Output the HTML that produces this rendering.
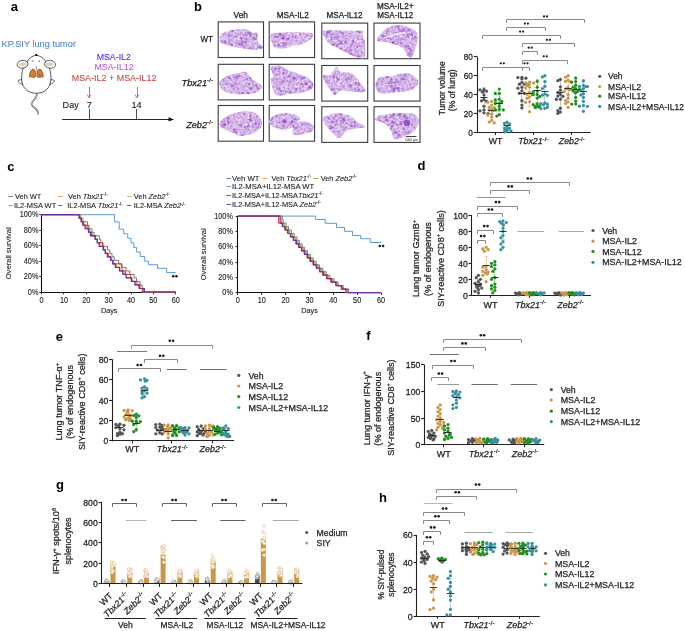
<!DOCTYPE html>
<html><head><meta charset="utf-8"><style>
html,body{margin:0;padding:0;background:#fff;}
svg{display:block;will-change:transform;}
text{font-family:"Liberation Sans", sans-serif;}
</style></head><body>
<svg width="685" height="631" viewBox="0 0 685 631" font-family="Liberation Sans, sans-serif" fill="#1a1a1a">
<rect width="685" height="631" fill="#fff"/>
<text x="10.80" y="11.40" font-size="13" fill="#000" font-weight="bold">a</text>
<text x="1.50" y="46.80" font-size="9.2" fill="#4a86d6" textLength="74.5" lengthAdjust="spacingAndGlyphs" stroke="#4a86d6" stroke-width="0.08">KP.SIY lung tumor</text>
<path d="M36.6 93 C37.5 96 36 98 33.5 100.5 C31 103 31 105 33.5 107 C36 109 38.5 110 38.3 114.5" fill="none" stroke="#555" stroke-width="1.6"/>
<path d="M36.6 93 C37.5 96 36 98 33.5 100.5 C31 103 31 105 33.5 107 C36 109 38.5 110 38.3 114.5" fill="none" stroke="#f4f4f4" stroke-width="0.6"/>
<path d="M22.4 79.2 L18.2 80.4 C18.0 81.9 20.3 84.0 22.8 84.6 Z" fill="#fff" stroke="#222" stroke-width="0.65"/>
<path d="M50.2 79.2 L54.4 80.4 C54.6 81.9 52.3 84.0 49.8 84.6 Z" fill="#fff" stroke="#222" stroke-width="0.65"/>
<path d="M36.3 55.2 C32 55.8 28 59 27 62 C23.5 65 21.3 72 21.7 80 C22.3 88 28 93.3 36.3 93.3 C44.6 93.3 50.3 88 50.9 80 C51.3 72 49.1 65 45.6 62 C44.6 59 40.6 55.8 36.3 55.2 Z" fill="#fff" stroke="#222" stroke-width="0.75"/>
<ellipse cx="22.6" cy="64.3" rx="5.5" ry="3.9" fill="#fff" stroke="#222" stroke-width="0.7" transform="rotate(-8 22.6 64.3)"/>
<ellipse cx="23.1" cy="64.3" rx="3.7" ry="1.8" fill="#e3d2b4" stroke="#bba" stroke-width="0.3"/>
<ellipse cx="50" cy="64.3" rx="5.5" ry="3.9" fill="#fff" stroke="#222" stroke-width="0.7" transform="rotate(8 50 64.3)"/>
<ellipse cx="49.5" cy="64.3" rx="3.7" ry="1.8" fill="#e3d2b4" stroke="#bba" stroke-width="0.3"/>
<path d="M36.3 53.7 L37.7 55 L36.3 56.3 L34.9 55 Z" fill="#000"/>
<rect x="32.40" y="60.70" width="1.30" height="0.90" fill="#222"/>
<rect x="38.50" y="60.70" width="1.30" height="0.90" fill="#222"/>
<line x1="36.50" y1="66.20" x2="36.50" y2="70.30" stroke="#444" stroke-width="0.5"/>
<path d="M32.8 69.1 C34.5 69.6 35.6 70.5 35.6 72.5 L35.6 76.6 C35 77.6 33.8 77.5 33 77.3 L29.4 76.8 C29.2 75 29.6 73.5 30.3 72 C30.9 70.6 31.7 69.3 32.8 69.1 Z" fill="#dc7a2e" stroke="#4a2a0a" stroke-width="0.55"/>
<path d="M39.8 69.1 C38.1 69.6 37 70.5 37 72.5 L37 76.6 C37.6 77.6 38.8 77.5 39.6 77.3 L43.2 76.8 C43.4 75 43 73.5 42.3 72 C41.7 70.6 40.9 69.3 39.8 69.1 Z" fill="#dc7a2e" stroke="#4a2a0a" stroke-width="0.55"/>
<circle cx="39.80" cy="75.00" r="1.0" fill="#3a7ef0"/>
<text x="96.70" y="59.80" font-size="9.6" fill="#3b2cf0" textLength="34.2" lengthAdjust="spacingAndGlyphs" stroke="#3b2cf0" stroke-width="0.08">MSA-IL2</text>
<text x="94.50" y="70.20" font-size="9.6" fill="#b358e0" textLength="39.2" lengthAdjust="spacingAndGlyphs" stroke="#b358e0" stroke-width="0.08">MSA-IL12</text>
<text x="71.70" y="81.00" font-size="9.6" fill="#c24848" textLength="84.8" lengthAdjust="spacingAndGlyphs" stroke="#c24848" stroke-width="0.08">MSA-IL2 + MSA-IL12</text>
<line x1="89.50" y1="87.00" x2="89.50" y2="96.50" stroke="#c24848" stroke-width="0.8"/>
<path d="M87.4 94.6 L89.2 98 L91.0 94.6" fill="none" stroke="#c24848" stroke-width="0.8"/>
<line x1="137.50" y1="87.00" x2="137.50" y2="96.50" stroke="#c24848" stroke-width="0.8"/>
<path d="M135.2 94.6 L137.0 98 L138.8 94.6" fill="none" stroke="#c24848" stroke-width="0.8"/>
<text x="62.60" y="107.60" font-size="9.2" fill="#111" textLength="16.1" lengthAdjust="spacingAndGlyphs" stroke="#111" stroke-width="0.08">Day</text>
<text x="89.20" y="107.60" font-size="9.2" text-anchor="middle" fill="#111" stroke="#111" stroke-width="0.08">7</text>
<text x="136.60" y="107.60" font-size="9.2" text-anchor="middle" fill="#111" stroke="#111" stroke-width="0.08">14</text>
<line x1="89.50" y1="109.00" x2="89.50" y2="119.40" stroke="#222" stroke-width="0.8"/>
<line x1="136.50" y1="109.00" x2="136.50" y2="119.40" stroke="#222" stroke-width="0.8"/>
<line x1="62.20" y1="119.50" x2="171.50" y2="119.50" stroke="#111" stroke-width="0.9"/>
<path d="M168.5 117.2 L174 119.4 L168.5 121.6 Z" fill="#111"/>
<text x="193.90" y="11.40" font-size="13" fill="#000" font-weight="bold">b</text>
<text x="240.80" y="18.40" font-size="8.6" text-anchor="middle" textLength="14.4" lengthAdjust="spacingAndGlyphs" stroke="#1a1a1a" stroke-width="0.25">Veh</text>
<text x="292.70" y="18.40" font-size="8.6" text-anchor="middle" textLength="32.1" lengthAdjust="spacingAndGlyphs" stroke="#1a1a1a" stroke-width="0.25">MSA-IL2</text>
<text x="344.60" y="18.40" font-size="8.6" text-anchor="middle" textLength="36.0" lengthAdjust="spacingAndGlyphs" stroke="#1a1a1a" stroke-width="0.25">MSA-IL12</text>
<text x="395.20" y="8.50" font-size="8.6" text-anchor="middle" textLength="36.6" lengthAdjust="spacingAndGlyphs" stroke="#1a1a1a" stroke-width="0.25">MSA-IL2+</text>
<text x="395.20" y="18.40" font-size="8.6" text-anchor="middle" textLength="36.0" lengthAdjust="spacingAndGlyphs" stroke="#1a1a1a" stroke-width="0.25">MSA-IL12</text>
<text x="212.80" y="42.00" font-size="9.4" text-anchor="end" textLength="12.4" lengthAdjust="spacingAndGlyphs" stroke="#1a1a1a" stroke-width="0.25">WT</text>
<text x="213.40" y="85.60" font-size="9.2" text-anchor="end" stroke="#1a1a1a" stroke-width="0.25"><tspan font-style="italic">Tbx21</tspan><tspan font-size="5.89" dy="-3.68" letter-spacing="0.25">-/-</tspan></text>
<text x="213.40" y="127.60" font-size="9.2" text-anchor="end" stroke="#1a1a1a" stroke-width="0.25"><tspan font-style="italic">Zeb2</tspan><tspan font-size="5.89" dy="-3.68" letter-spacing="0.25">-/-</tspan></text>
<defs>
<clipPath id="tc0"><path d="M218.80 38.40 C219.57 36.87 221.00 33.83 224.20 32.30 C227.40 30.77 234.03 29.58 238.00 29.20 C241.97 28.82 245.57 29.37 248.00 30.00 C250.43 30.63 251.33 32.62 252.60 33.00 C253.87 33.38 254.72 32.30 255.60 32.30 C256.48 32.30 257.63 31.73 257.90 33.00 C258.17 34.27 256.93 38.10 257.20 39.90 C257.47 41.70 258.53 42.65 259.50 43.80 C260.47 44.95 262.75 45.92 263.00 46.80 C263.25 47.68 262.62 48.58 261.00 49.10 C259.38 49.62 257.13 50.15 253.30 49.90 C249.47 49.65 242.85 48.50 238.00 47.60 C233.15 46.70 227.27 45.52 224.20 44.50 C221.13 43.48 220.50 42.52 219.60 41.50 C218.70 40.48 218.03 39.93 218.80 38.40 Z"/></clipPath>
<clipPath id="tc1"><path d="M270.20 35.30 C270.97 33.88 272.73 33.50 276.30 33.00 C279.87 32.50 285.72 32.30 291.60 32.30 C297.48 32.30 308.02 32.50 311.60 33.00 C315.18 33.50 313.37 34.15 313.10 35.30 C312.83 36.45 312.05 38.37 310.00 39.90 C307.95 41.43 303.35 43.60 300.80 44.50 C298.25 45.40 297.50 44.65 294.70 45.30 C291.90 45.95 287.32 48.02 284.00 48.40 C280.68 48.78 276.85 48.75 274.80 47.60 C272.75 46.45 272.47 43.55 271.70 41.50 C270.93 39.45 269.43 36.72 270.20 35.30 Z"/></clipPath>
<clipPath id="tc2"><path d="M323.40 30.70 C328.90 29.67 351.77 30.82 357.90 30.70 C364.03 30.58 359.32 29.87 360.20 30.00 C361.08 30.13 362.82 30.62 363.20 31.50 C363.58 32.38 362.23 33.63 362.50 35.30 C362.77 36.97 364.30 38.93 364.80 41.50 C365.30 44.07 365.63 48.02 365.50 50.70 C365.37 53.38 365.40 56.45 364.00 57.60 C362.60 58.75 360.93 58.88 357.10 57.60 C353.27 56.32 345.73 52.33 341.00 49.90 C336.27 47.47 331.38 45.17 328.70 43.00 C326.02 40.83 325.78 38.95 324.90 36.90 C324.02 34.85 317.90 31.73 323.40 30.70 Z"/></clipPath>
<clipPath id="tc3"><path d="M377.00 39.90 C376.75 39.13 376.40 38.68 377.80 36.90 C379.20 35.12 382.85 31.12 385.40 29.20 C387.95 27.28 390.03 26.03 393.10 25.40 C396.17 24.77 400.48 24.77 403.80 25.40 C407.12 26.03 410.82 28.05 413.00 29.20 C415.18 30.35 416.13 30.52 416.90 32.30 C417.67 34.08 417.98 36.83 417.60 39.90 C417.22 42.97 415.48 47.88 414.60 50.70 C413.72 53.52 413.33 55.78 412.30 56.80 C411.27 57.82 410.07 58.33 408.40 56.80 C406.73 55.27 404.60 49.65 402.30 47.60 C400.00 45.55 397.15 45.40 394.60 44.50 C392.05 43.60 389.55 42.70 387.00 42.20 C384.45 41.70 380.97 41.88 379.30 41.50 C377.63 41.12 377.25 40.67 377.00 39.90 Z"/></clipPath>
<clipPath id="tc4"><path d="M218.80 83.50 C219.07 81.85 220.78 80.32 222.70 78.90 C224.62 77.48 227.50 76.03 230.30 75.00 C233.10 73.97 236.82 73.20 239.50 72.70 C242.18 72.20 244.60 71.23 246.40 72.00 C248.20 72.77 248.63 75.65 250.30 77.30 C251.97 78.95 254.37 80.37 256.40 81.90 C258.43 83.43 261.98 85.08 262.50 86.50 C263.02 87.92 261.28 89.25 259.50 90.40 C257.72 91.55 255.38 92.72 251.80 93.40 C248.22 94.08 242.08 94.62 238.00 94.50 C233.92 94.38 230.12 93.65 227.30 92.70 C224.48 91.75 222.52 90.33 221.10 88.80 C219.68 87.27 218.53 85.15 218.80 83.50 Z"/></clipPath>
<clipPath id="tc5"><path d="M271.00 66.60 C272.53 65.70 278.23 65.28 280.90 65.80 C283.57 66.32 284.18 68.42 287.00 69.70 C289.82 70.98 294.47 72.23 297.80 73.50 C301.13 74.77 304.45 75.63 307.00 77.30 C309.55 78.97 312.33 81.58 313.10 83.50 C313.87 85.42 313.65 87.27 311.60 88.80 C309.55 90.33 304.90 91.80 300.80 92.70 C296.70 93.60 290.07 93.70 287.00 94.20 C283.93 94.70 284.18 95.57 282.40 95.70 C280.62 95.83 277.95 96.28 276.30 95.00 C274.65 93.72 273.38 90.68 272.50 88.00 C271.62 85.32 270.88 80.80 271.00 78.90 C271.12 77.00 273.08 77.88 273.20 76.60 C273.32 75.32 272.07 72.87 271.70 71.20 C271.33 69.53 269.47 67.50 271.00 66.60 Z"/></clipPath>
<clipPath id="tc6"><path d="M323.40 75.80 C324.30 74.65 328.65 75.90 330.30 75.00 C331.95 74.10 332.15 71.80 333.30 70.40 C334.45 69.00 336.17 66.47 337.20 66.60 C338.23 66.73 337.58 70.18 339.50 71.20 C341.42 72.22 346.15 71.93 348.70 72.70 C351.25 73.47 353.02 74.27 354.80 75.80 C356.58 77.33 357.62 79.35 359.40 81.90 C361.18 84.45 366.02 89.43 365.50 91.10 C364.98 92.77 360.13 92.02 356.30 91.90 C352.47 91.78 345.57 90.27 342.50 90.40 C339.43 90.53 339.17 91.93 337.90 92.70 C336.63 93.47 336.17 95.52 334.90 95.00 C333.63 94.48 331.97 91.78 330.30 89.60 C328.63 87.42 326.05 84.20 324.90 81.90 C323.75 79.60 322.50 76.95 323.40 75.80 Z"/></clipPath>
<clipPath id="tc7"><path d="M376.20 81.90 C376.83 80.37 377.77 78.27 379.30 77.30 C380.83 76.33 383.35 76.22 385.40 76.10 C387.45 75.98 389.55 76.90 391.60 76.60 C393.65 76.30 395.15 74.90 397.70 74.30 C400.25 73.70 404.22 72.75 406.90 73.00 C409.58 73.25 411.88 74.32 413.80 75.80 C415.72 77.28 418.02 80.12 418.40 81.90 C418.78 83.68 417.50 85.08 416.10 86.50 C414.70 87.92 413.07 89.50 410.00 90.40 C406.93 91.30 402.05 91.40 397.70 91.90 C393.35 92.40 387.22 93.40 383.90 93.40 C380.58 93.40 379.20 93.05 377.80 91.90 C376.40 90.75 375.77 88.17 375.50 86.50 C375.23 84.83 375.57 83.43 376.20 81.90 Z"/></clipPath>
<clipPath id="tc8"><path d="M219.60 124.50 C219.87 123.10 220.92 120.77 222.70 119.10 C224.48 117.43 227.23 115.78 230.30 114.50 C233.37 113.22 237.27 111.78 241.10 111.40 C244.93 111.02 250.23 111.30 253.30 112.20 C256.37 113.10 258.08 115.02 259.50 116.80 C260.92 118.58 261.80 120.85 261.80 122.90 C261.80 124.95 261.17 127.30 259.50 129.10 C257.83 130.90 254.87 132.55 251.80 133.70 C248.73 134.85 244.17 136.13 241.10 136.00 C238.03 135.87 235.70 133.80 233.40 132.90 C231.10 132.00 229.35 131.50 227.30 130.60 C225.25 129.70 222.38 128.52 221.10 127.50 C219.82 126.48 219.33 125.90 219.60 124.50 Z"/></clipPath>
<clipPath id="tc9"><path d="M269.40 119.90 C270.17 118.50 272.37 116.45 274.80 115.30 C277.23 114.15 280.68 113.13 284.00 113.00 C287.32 112.87 292.02 113.62 294.70 114.50 C297.38 115.38 299.85 116.90 300.10 118.30 C300.35 119.70 296.08 122.38 296.20 122.90 C296.32 123.42 298.75 121.52 300.80 121.40 C302.85 121.28 306.32 121.43 308.50 122.20 C310.68 122.97 313.38 124.47 313.90 126.00 C314.42 127.53 313.27 130.12 311.60 131.40 C309.93 132.68 306.72 133.07 303.90 133.70 C301.08 134.33 296.62 135.47 294.70 135.20 C292.78 134.93 292.65 133.38 292.40 132.10 C292.15 130.82 294.60 127.88 293.20 127.50 C291.80 127.12 287.07 129.80 284.00 129.80 C280.93 129.80 277.10 128.52 274.80 127.50 C272.50 126.48 271.10 124.97 270.20 123.70 C269.30 122.43 268.63 121.30 269.40 119.90 Z"/></clipPath>
<clipPath id="tc10"><path d="M322.60 118.30 C323.25 116.38 328.00 115.38 330.30 114.50 C332.60 113.62 333.85 113.00 336.40 113.00 C338.95 113.00 343.17 114.00 345.60 114.50 C348.03 115.00 349.22 114.85 351.00 116.00 C352.78 117.15 353.88 119.60 356.30 121.40 C358.72 123.20 365.23 125.65 365.50 126.80 C365.77 127.95 360.97 127.67 357.90 128.30 C354.83 128.93 350.17 128.93 347.10 130.60 C344.03 132.27 341.80 137.78 339.50 138.30 C337.20 138.82 335.48 135.75 333.30 133.70 C331.12 131.65 328.18 128.57 326.40 126.00 C324.62 123.43 321.95 120.22 322.60 118.30 Z"/></clipPath>
<clipPath id="tc11"><path d="M375.50 118.30 C376.27 117.42 378.12 116.12 380.80 115.30 C383.48 114.48 387.77 113.78 391.60 113.40 C395.43 113.02 400.23 112.95 403.80 113.00 C407.37 113.05 410.57 112.82 413.00 113.70 C415.43 114.58 417.50 116.50 418.40 118.30 C419.30 120.10 419.30 122.20 418.40 124.50 C417.50 126.80 415.17 130.18 413.00 132.10 C410.83 134.02 408.47 134.85 405.40 136.00 C402.33 137.15 397.17 140.15 394.60 139.00 C392.03 137.85 391.87 131.78 390.00 129.10 C388.13 126.42 385.70 124.32 383.40 122.90 C381.10 121.48 377.52 121.37 376.20 120.60 C374.88 119.83 374.73 119.18 375.50 118.30 Z"/></clipPath>
<filter id="tex0" x="0" y="0" width="1" height="1" color-interpolation-filters="sRGB"><feTurbulence type="fractalNoise" baseFrequency="0.42" numOctaves="2" seed="2"/><feColorMatrix type="matrix" values="-0.336 0 0 0 1.0  -0.576 0 0 0 1.0  -0.168 0 0 0 0.995  0 0 0 0 1"/></filter>
<filter id="tex1" x="0" y="0" width="1" height="1" color-interpolation-filters="sRGB"><feTurbulence type="fractalNoise" baseFrequency="0.42" numOctaves="2" seed="7"/><feColorMatrix type="matrix" values="-0.336 0 0 0 1.0  -0.576 0 0 0 1.0  -0.168 0 0 0 0.995  0 0 0 0 1"/></filter>
<filter id="tex2" x="0" y="0" width="1" height="1" color-interpolation-filters="sRGB"><feTurbulence type="fractalNoise" baseFrequency="0.42" numOctaves="2" seed="12"/><feColorMatrix type="matrix" values="-0.336 0 0 0 1.0  -0.576 0 0 0 1.0  -0.168 0 0 0 0.995  0 0 0 0 1"/></filter>
</defs>
<rect x="218.20" y="21.90" width="45.30" height="35.60" fill="#fff" stroke="#3c3c3c" stroke-width="1.1"/>
<rect x="217.8" y="28.2" width="46.2" height="22.7" filter="url(#tex0)" clip-path="url(#tc0)"/>
<g clip-path="url(#tc0)"><circle cx="229.3" cy="40.5" r="0.9" fill="#8c40c4" opacity=".55"/><circle cx="245.5" cy="42.2" r="0.7" fill="#8c40c4" opacity=".55"/><circle cx="219.4" cy="46.5" r="0.8" fill="#8c40c4" opacity=".55"/><circle cx="229.2" cy="49.8" r="1.0" fill="#8c40c4" opacity=".55"/><circle cx="255.8" cy="39.1" r="1.2" fill="#8c40c4" opacity=".55"/><circle cx="225.5" cy="42.3" r="1.4" fill="#8c40c4" opacity=".55"/><circle cx="241.9" cy="44.5" r="1.2" fill="#8c40c4" opacity=".55"/><circle cx="221.6" cy="44.9" r="1.1" fill="#8c40c4" opacity=".55"/><circle cx="232.1" cy="29.8" r="1.4" fill="#8c40c4" opacity=".55"/><circle cx="239.7" cy="44.1" r="1.4" fill="#8c40c4" opacity=".55"/><circle cx="250.4" cy="48.3" r="1.0" fill="#8c40c4" opacity=".55"/><circle cx="254.2" cy="38.4" r="1.4" fill="#8c40c4" opacity=".55"/><circle cx="257.6" cy="31.2" r="0.7" fill="#8c40c4" opacity=".55"/><circle cx="228.4" cy="49.2" r="1.0" fill="#8c40c4" opacity=".55"/><circle cx="246.5" cy="35.4" r="1.1" fill="#8c40c4" opacity=".55"/><circle cx="235.9" cy="36.5" r="1.1" fill="#8c40c4" opacity=".55"/><circle cx="244.6" cy="47.9" r="1.2" fill="#8c40c4" opacity=".55"/><circle cx="259.9" cy="46.9" r="1.5" fill="#8c40c4" opacity=".55"/><circle cx="248.5" cy="32.6" r="1.4" fill="#8c40c4" opacity=".55"/><circle cx="261.4" cy="47.9" r="1.1" fill="#8c40c4" opacity=".55"/><circle cx="250.4" cy="33.6" r="1.3" fill="#8c40c4" opacity=".55"/><circle cx="244.2" cy="35.1" r="0.7" fill="#8c40c4" opacity=".55"/><circle cx="256.5" cy="49.7" r="0.7" fill="#8c40c4" opacity=".55"/><circle cx="254.2" cy="37.7" r="0.7" fill="#8c40c4" opacity=".55"/><circle cx="231.8" cy="45.1" r="1.4" fill="#8c40c4" opacity=".55"/><circle cx="220.8" cy="41.9" r="0.6" fill="#8c40c4" opacity=".55"/><circle cx="250.6" cy="36.1" r="1.4" fill="#8c40c4" opacity=".55"/><circle cx="262.1" cy="39.7" r="1.5" fill="#8c40c4" opacity=".55"/><circle cx="232.5" cy="30.8" r="1.1" fill="#8c40c4" opacity=".55"/><circle cx="220.2" cy="33.3" r="1.0" fill="#8c40c4" opacity=".55"/><circle cx="245.8" cy="32.4" r="0.6" fill="#8c40c4" opacity=".55"/><circle cx="257.2" cy="35.7" r="1.5" fill="#8c40c4" opacity=".55"/><circle cx="258.4" cy="37.0" r="1.0" fill="#8c40c4" opacity=".55"/><circle cx="241.8" cy="42.5" r="1.1" fill="#8c40c4" opacity=".55"/><circle cx="243.5" cy="42.0" r="1.4" fill="#8c40c4" opacity=".55"/><circle cx="241.2" cy="38.1" r="1.2" fill="#8c40c4" opacity=".55"/><circle cx="229.3" cy="35.4" r="1.5" fill="#8c40c4" opacity=".55"/><circle cx="241.8" cy="40.6" r="0.6" fill="#8c40c4" opacity=".55"/><circle cx="237.2" cy="41.2" r="0.6" fill="#8c40c4" opacity=".55"/><circle cx="246.0" cy="42.3" r="0.7" fill="#8c40c4" opacity=".55"/><circle cx="246.5" cy="38.9" r="1.2" fill="#8c40c4" opacity=".55"/></g>
<rect x="269.20" y="21.90" width="45.40" height="35.60" fill="#fff" stroke="#3c3c3c" stroke-width="1.1"/>
<rect x="269.2" y="31.3" width="44.9" height="18.1" filter="url(#tex1)" clip-path="url(#tc1)"/>
<g clip-path="url(#tc1)"><circle cx="285.3" cy="43.7" r="1.3" fill="#8c40c4" opacity=".55"/><circle cx="271.2" cy="33.3" r="1.2" fill="#8c40c4" opacity=".55"/><circle cx="311.5" cy="36.3" r="1.0" fill="#8c40c4" opacity=".55"/><circle cx="295.6" cy="37.5" r="0.9" fill="#8c40c4" opacity=".55"/><circle cx="283.6" cy="38.2" r="1.1" fill="#8c40c4" opacity=".55"/><circle cx="283.1" cy="38.4" r="1.3" fill="#8c40c4" opacity=".55"/><circle cx="271.4" cy="41.5" r="1.3" fill="#8c40c4" opacity=".55"/><circle cx="283.5" cy="35.9" r="1.3" fill="#8c40c4" opacity=".55"/><circle cx="280.4" cy="35.3" r="1.0" fill="#8c40c4" opacity=".55"/><circle cx="300.1" cy="33.9" r="0.9" fill="#8c40c4" opacity=".55"/><circle cx="284.5" cy="45.7" r="1.0" fill="#8c40c4" opacity=".55"/><circle cx="306.9" cy="35.0" r="0.9" fill="#8c40c4" opacity=".55"/><circle cx="298.1" cy="46.5" r="1.0" fill="#8c40c4" opacity=".55"/><circle cx="279.9" cy="34.2" r="1.1" fill="#8c40c4" opacity=".55"/><circle cx="278.4" cy="45.3" r="1.4" fill="#8c40c4" opacity=".55"/><circle cx="278.1" cy="36.8" r="1.3" fill="#8c40c4" opacity=".55"/><circle cx="297.7" cy="45.3" r="0.9" fill="#8c40c4" opacity=".55"/><circle cx="275.8" cy="37.0" r="1.3" fill="#8c40c4" opacity=".55"/><circle cx="281.8" cy="37.9" r="1.0" fill="#8c40c4" opacity=".55"/><circle cx="288.2" cy="38.9" r="1.4" fill="#8c40c4" opacity=".55"/><circle cx="276.9" cy="32.4" r="1.4" fill="#8c40c4" opacity=".55"/><circle cx="308.0" cy="48.2" r="1.0" fill="#8c40c4" opacity=".55"/><circle cx="311.0" cy="47.2" r="0.8" fill="#8c40c4" opacity=".55"/><circle cx="302.2" cy="45.8" r="1.2" fill="#8c40c4" opacity=".55"/><circle cx="292.5" cy="37.0" r="0.9" fill="#8c40c4" opacity=".55"/><circle cx="280.0" cy="33.4" r="1.1" fill="#8c40c4" opacity=".55"/><circle cx="282.5" cy="45.3" r="0.6" fill="#8c40c4" opacity=".55"/><circle cx="309.0" cy="43.5" r="1.4" fill="#8c40c4" opacity=".55"/><circle cx="308.7" cy="46.8" r="1.1" fill="#8c40c4" opacity=".55"/><circle cx="270.8" cy="44.3" r="0.8" fill="#8c40c4" opacity=".55"/><circle cx="283.1" cy="43.0" r="1.1" fill="#8c40c4" opacity=".55"/></g>
<rect x="321.80" y="23.10" width="45.90" height="35.60" fill="#fff" stroke="#3c3c3c" stroke-width="1.1"/>
<rect x="322.4" y="29.0" width="44.1" height="29.6" filter="url(#tex2)" clip-path="url(#tc2)"/>
<g clip-path="url(#tc2)"><circle cx="340.8" cy="55.9" r="1.2" fill="#8c40c4" opacity=".55"/><circle cx="337.8" cy="37.0" r="1.4" fill="#8c40c4" opacity=".55"/><circle cx="343.5" cy="51.6" r="0.9" fill="#8c40c4" opacity=".55"/><circle cx="331.7" cy="44.8" r="1.3" fill="#8c40c4" opacity=".55"/><circle cx="330.6" cy="51.9" r="1.4" fill="#8c40c4" opacity=".55"/><circle cx="357.3" cy="52.7" r="0.6" fill="#8c40c4" opacity=".55"/><circle cx="349.9" cy="53.8" r="0.6" fill="#8c40c4" opacity=".55"/><circle cx="334.8" cy="37.4" r="1.1" fill="#8c40c4" opacity=".55"/><circle cx="341.2" cy="43.1" r="1.3" fill="#8c40c4" opacity=".55"/><circle cx="323.5" cy="31.5" r="0.7" fill="#8c40c4" opacity=".55"/><circle cx="328.6" cy="31.9" r="1.5" fill="#8c40c4" opacity=".55"/><circle cx="359.4" cy="32.4" r="1.1" fill="#8c40c4" opacity=".55"/><circle cx="336.7" cy="38.7" r="0.9" fill="#8c40c4" opacity=".55"/><circle cx="350.6" cy="46.2" r="0.9" fill="#8c40c4" opacity=".55"/><circle cx="331.4" cy="39.1" r="0.7" fill="#8c40c4" opacity=".55"/><circle cx="346.8" cy="49.8" r="0.9" fill="#8c40c4" opacity=".55"/><circle cx="326.8" cy="34.9" r="0.9" fill="#8c40c4" opacity=".55"/><circle cx="348.8" cy="51.6" r="0.9" fill="#8c40c4" opacity=".55"/><circle cx="357.1" cy="47.2" r="1.0" fill="#8c40c4" opacity=".55"/><circle cx="339.1" cy="43.7" r="1.2" fill="#8c40c4" opacity=".55"/><circle cx="341.1" cy="49.2" r="1.0" fill="#8c40c4" opacity=".55"/><circle cx="333.7" cy="44.8" r="1.2" fill="#8c40c4" opacity=".55"/><circle cx="326.4" cy="41.7" r="1.0" fill="#8c40c4" opacity=".55"/><circle cx="360.4" cy="55.8" r="0.9" fill="#8c40c4" opacity=".55"/><circle cx="361.2" cy="51.8" r="0.8" fill="#8c40c4" opacity=".55"/><circle cx="342.9" cy="33.4" r="1.3" fill="#8c40c4" opacity=".55"/><circle cx="351.3" cy="54.5" r="1.3" fill="#8c40c4" opacity=".55"/><circle cx="351.5" cy="50.3" r="1.1" fill="#8c40c4" opacity=".55"/><circle cx="327.7" cy="46.2" r="0.6" fill="#8c40c4" opacity=".55"/><circle cx="329.4" cy="51.4" r="0.6" fill="#8c40c4" opacity=".55"/><circle cx="327.3" cy="32.7" r="1.4" fill="#8c40c4" opacity=".55"/><circle cx="330.9" cy="30.6" r="1.4" fill="#8c40c4" opacity=".55"/><circle cx="328.5" cy="53.3" r="1.2" fill="#8c40c4" opacity=".55"/><circle cx="358.6" cy="56.3" r="1.1" fill="#8c40c4" opacity=".55"/><circle cx="357.0" cy="31.0" r="1.3" fill="#8c40c4" opacity=".55"/><circle cx="344.9" cy="49.7" r="0.7" fill="#8c40c4" opacity=".55"/><circle cx="354.9" cy="55.8" r="0.7" fill="#8c40c4" opacity=".55"/><circle cx="337.1" cy="45.6" r="1.3" fill="#8c40c4" opacity=".55"/><circle cx="333.6" cy="35.0" r="0.8" fill="#8c40c4" opacity=".55"/><circle cx="349.3" cy="50.8" r="1.0" fill="#8c40c4" opacity=".55"/><circle cx="338.9" cy="40.9" r="0.9" fill="#8c40c4" opacity=".55"/><circle cx="341.0" cy="32.3" r="1.1" fill="#8c40c4" opacity=".55"/><circle cx="364.4" cy="41.4" r="1.3" fill="#8c40c4" opacity=".55"/><circle cx="330.2" cy="49.1" r="1.3" fill="#8c40c4" opacity=".55"/><circle cx="351.8" cy="44.3" r="1.0" fill="#8c40c4" opacity=".55"/><circle cx="350.5" cy="54.8" r="0.7" fill="#8c40c4" opacity=".55"/><circle cx="327.4" cy="50.6" r="1.4" fill="#8c40c4" opacity=".55"/><circle cx="345.2" cy="42.2" r="1.2" fill="#8c40c4" opacity=".55"/><circle cx="331.2" cy="37.4" r="0.8" fill="#8c40c4" opacity=".55"/><circle cx="348.1" cy="38.7" r="0.8" fill="#8c40c4" opacity=".55"/><circle cx="352.5" cy="56.3" r="0.9" fill="#8c40c4" opacity=".55"/><circle cx="353.1" cy="41.4" r="1.4" fill="#8c40c4" opacity=".55"/></g>
<rect x="374.00" y="23.10" width="46.00" height="35.60" fill="#fff" stroke="#3c3c3c" stroke-width="1.1"/>
<rect x="376.0" y="24.4" width="42.6" height="33.4" filter="url(#tex0)" clip-path="url(#tc3)"/>
<g clip-path="url(#tc3)"><circle cx="400.7" cy="33.8" r="0.8" fill="#8c40c4" opacity=".55"/><circle cx="377.9" cy="40.5" r="0.9" fill="#8c40c4" opacity=".55"/><circle cx="384.0" cy="36.7" r="0.9" fill="#8c40c4" opacity=".55"/><circle cx="408.4" cy="29.9" r="1.5" fill="#8c40c4" opacity=".55"/><circle cx="396.5" cy="44.2" r="1.0" fill="#8c40c4" opacity=".55"/><circle cx="410.9" cy="51.2" r="1.1" fill="#8c40c4" opacity=".55"/><circle cx="396.5" cy="48.0" r="1.4" fill="#8c40c4" opacity=".55"/><circle cx="393.3" cy="48.4" r="1.5" fill="#8c40c4" opacity=".55"/><circle cx="396.0" cy="32.6" r="0.8" fill="#8c40c4" opacity=".55"/><circle cx="406.1" cy="46.6" r="1.5" fill="#8c40c4" opacity=".55"/><circle cx="411.7" cy="33.0" r="0.8" fill="#8c40c4" opacity=".55"/><circle cx="387.5" cy="31.3" r="1.2" fill="#8c40c4" opacity=".55"/><circle cx="411.9" cy="53.7" r="0.8" fill="#8c40c4" opacity=".55"/><circle cx="412.1" cy="35.2" r="1.0" fill="#8c40c4" opacity=".55"/><circle cx="406.6" cy="28.1" r="0.7" fill="#8c40c4" opacity=".55"/><circle cx="410.9" cy="34.6" r="0.9" fill="#8c40c4" opacity=".55"/><circle cx="400.6" cy="46.6" r="0.6" fill="#8c40c4" opacity=".55"/><circle cx="390.6" cy="39.1" r="1.0" fill="#8c40c4" opacity=".55"/><circle cx="385.5" cy="43.8" r="1.5" fill="#8c40c4" opacity=".55"/><circle cx="392.9" cy="42.5" r="0.7" fill="#8c40c4" opacity=".55"/><circle cx="388.2" cy="46.3" r="0.7" fill="#8c40c4" opacity=".55"/><circle cx="413.0" cy="53.9" r="0.7" fill="#8c40c4" opacity=".55"/><circle cx="415.2" cy="37.2" r="1.3" fill="#8c40c4" opacity=".55"/><circle cx="407.7" cy="34.7" r="1.2" fill="#8c40c4" opacity=".55"/><circle cx="403.6" cy="50.7" r="0.8" fill="#8c40c4" opacity=".55"/><circle cx="407.6" cy="55.6" r="1.2" fill="#8c40c4" opacity=".55"/><circle cx="398.8" cy="29.0" r="1.0" fill="#8c40c4" opacity=".55"/><circle cx="391.3" cy="47.9" r="1.2" fill="#8c40c4" opacity=".55"/><circle cx="400.0" cy="31.1" r="1.2" fill="#8c40c4" opacity=".55"/><circle cx="402.6" cy="31.0" r="1.4" fill="#8c40c4" opacity=".55"/><circle cx="403.6" cy="29.3" r="1.4" fill="#8c40c4" opacity=".55"/><circle cx="382.7" cy="35.8" r="1.2" fill="#8c40c4" opacity=".55"/><circle cx="401.3" cy="42.8" r="1.2" fill="#8c40c4" opacity=".55"/><circle cx="395.6" cy="35.2" r="0.8" fill="#8c40c4" opacity=".55"/><circle cx="379.8" cy="47.9" r="1.3" fill="#8c40c4" opacity=".55"/><circle cx="399.1" cy="48.6" r="0.9" fill="#8c40c4" opacity=".55"/><circle cx="387.8" cy="37.4" r="1.4" fill="#8c40c4" opacity=".55"/><circle cx="378.7" cy="41.2" r="0.8" fill="#8c40c4" opacity=".55"/><circle cx="408.2" cy="36.5" r="0.9" fill="#8c40c4" opacity=".55"/><circle cx="393.4" cy="42.4" r="1.3" fill="#8c40c4" opacity=".55"/><circle cx="391.3" cy="52.0" r="0.7" fill="#8c40c4" opacity=".55"/><circle cx="388.0" cy="28.5" r="0.7" fill="#8c40c4" opacity=".55"/><circle cx="408.6" cy="48.2" r="0.8" fill="#8c40c4" opacity=".55"/><circle cx="384.7" cy="38.5" r="1.3" fill="#8c40c4" opacity=".55"/><circle cx="410.1" cy="48.9" r="1.1" fill="#8c40c4" opacity=".55"/><circle cx="382.9" cy="37.9" r="0.8" fill="#8c40c4" opacity=".55"/><circle cx="398.4" cy="43.2" r="0.8" fill="#8c40c4" opacity=".55"/><circle cx="387.2" cy="49.9" r="0.6" fill="#8c40c4" opacity=".55"/><circle cx="409.6" cy="53.4" r="1.5" fill="#8c40c4" opacity=".55"/><circle cx="392.6" cy="42.8" r="1.1" fill="#8c40c4" opacity=".55"/><circle cx="402.7" cy="56.1" r="1.2" fill="#8c40c4" opacity=".55"/><circle cx="389.2" cy="52.4" r="1.0" fill="#8c40c4" opacity=".55"/><circle cx="401.4" cy="48.2" r="0.6" fill="#8c40c4" opacity=".55"/><circle cx="408.3" cy="46.2" r="1.0" fill="#8c40c4" opacity=".55"/><circle cx="398.3" cy="39.9" r="0.8" fill="#8c40c4" opacity=".55"/><circle cx="398.5" cy="26.6" r="1.1" fill="#8c40c4" opacity=".55"/><circle cx="403.2" cy="39.3" r="1.1" fill="#8c40c4" opacity=".55"/></g>
<rect x="218.20" y="64.30" width="45.30" height="35.60" fill="#fff" stroke="#3c3c3c" stroke-width="1.1"/>
<rect x="217.8" y="71.0" width="45.7" height="24.5" filter="url(#tex1)" clip-path="url(#tc4)"/>
<g clip-path="url(#tc4)"><circle cx="260.7" cy="92.1" r="0.7" fill="#8c40c4" opacity=".55"/><circle cx="253.4" cy="86.0" r="0.6" fill="#8c40c4" opacity=".55"/><circle cx="234.5" cy="77.3" r="0.7" fill="#8c40c4" opacity=".55"/><circle cx="242.3" cy="92.9" r="0.9" fill="#8c40c4" opacity=".55"/><circle cx="256.8" cy="87.6" r="0.7" fill="#8c40c4" opacity=".55"/><circle cx="256.3" cy="85.5" r="1.4" fill="#8c40c4" opacity=".55"/><circle cx="250.1" cy="88.6" r="0.9" fill="#8c40c4" opacity=".55"/><circle cx="254.1" cy="93.0" r="1.4" fill="#8c40c4" opacity=".55"/><circle cx="237.9" cy="89.0" r="1.0" fill="#8c40c4" opacity=".55"/><circle cx="223.6" cy="73.0" r="0.7" fill="#8c40c4" opacity=".55"/><circle cx="227.6" cy="75.6" r="1.0" fill="#8c40c4" opacity=".55"/><circle cx="249.4" cy="84.1" r="1.0" fill="#8c40c4" opacity=".55"/><circle cx="247.2" cy="78.9" r="1.0" fill="#8c40c4" opacity=".55"/><circle cx="251.9" cy="81.0" r="0.8" fill="#8c40c4" opacity=".55"/><circle cx="258.1" cy="88.2" r="0.9" fill="#8c40c4" opacity=".55"/><circle cx="235.0" cy="83.9" r="1.1" fill="#8c40c4" opacity=".55"/><circle cx="228.6" cy="72.1" r="0.8" fill="#8c40c4" opacity=".55"/><circle cx="253.0" cy="75.2" r="1.0" fill="#8c40c4" opacity=".55"/><circle cx="227.3" cy="76.7" r="0.8" fill="#8c40c4" opacity=".55"/><circle cx="236.4" cy="75.8" r="0.6" fill="#8c40c4" opacity=".55"/><circle cx="223.6" cy="75.8" r="1.0" fill="#8c40c4" opacity=".55"/><circle cx="221.4" cy="72.5" r="1.0" fill="#8c40c4" opacity=".55"/><circle cx="236.6" cy="87.8" r="0.6" fill="#8c40c4" opacity=".55"/><circle cx="236.4" cy="80.9" r="0.6" fill="#8c40c4" opacity=".55"/><circle cx="261.0" cy="76.9" r="0.7" fill="#8c40c4" opacity=".55"/><circle cx="239.5" cy="75.7" r="1.2" fill="#8c40c4" opacity=".55"/><circle cx="233.9" cy="74.8" r="0.6" fill="#8c40c4" opacity=".55"/><circle cx="250.6" cy="78.2" r="1.3" fill="#8c40c4" opacity=".55"/><circle cx="239.1" cy="93.0" r="0.9" fill="#8c40c4" opacity=".55"/><circle cx="229.7" cy="78.0" r="1.3" fill="#8c40c4" opacity=".55"/><circle cx="246.3" cy="79.8" r="0.7" fill="#8c40c4" opacity=".55"/><circle cx="248.6" cy="93.8" r="1.1" fill="#8c40c4" opacity=".55"/><circle cx="219.0" cy="72.7" r="0.7" fill="#8c40c4" opacity=".55"/><circle cx="226.2" cy="72.8" r="0.6" fill="#8c40c4" opacity=".55"/><circle cx="247.4" cy="92.3" r="0.8" fill="#8c40c4" opacity=".55"/><circle cx="261.4" cy="82.7" r="1.3" fill="#8c40c4" opacity=".55"/><circle cx="258.9" cy="93.2" r="0.6" fill="#8c40c4" opacity=".55"/><circle cx="232.1" cy="85.7" r="1.5" fill="#8c40c4" opacity=".55"/><circle cx="222.6" cy="78.6" r="1.4" fill="#8c40c4" opacity=".55"/><circle cx="223.8" cy="80.8" r="0.9" fill="#8c40c4" opacity=".55"/><circle cx="248.5" cy="92.9" r="0.8" fill="#8c40c4" opacity=".55"/><circle cx="251.1" cy="88.5" r="1.4" fill="#8c40c4" opacity=".55"/><circle cx="243.0" cy="92.8" r="0.9" fill="#8c40c4" opacity=".55"/><circle cx="236.9" cy="77.2" r="1.3" fill="#8c40c4" opacity=".55"/></g>
<rect x="269.20" y="64.30" width="45.40" height="35.60" fill="#fff" stroke="#3c3c3c" stroke-width="1.1"/>
<rect x="270.0" y="64.8" width="44.1" height="31.9" filter="url(#tex2)" clip-path="url(#tc5)"/>
<g clip-path="url(#tc5)"><circle cx="291.2" cy="73.9" r="0.8" fill="#8c40c4" opacity=".55"/><circle cx="301.3" cy="83.9" r="1.2" fill="#8c40c4" opacity=".55"/><circle cx="287.3" cy="80.4" r="0.7" fill="#8c40c4" opacity=".55"/><circle cx="300.9" cy="66.5" r="1.0" fill="#8c40c4" opacity=".55"/><circle cx="302.9" cy="86.1" r="0.7" fill="#8c40c4" opacity=".55"/><circle cx="281.0" cy="91.0" r="1.2" fill="#8c40c4" opacity=".55"/><circle cx="308.0" cy="91.9" r="1.0" fill="#8c40c4" opacity=".55"/><circle cx="308.8" cy="87.7" r="0.9" fill="#8c40c4" opacity=".55"/><circle cx="286.6" cy="68.0" r="1.0" fill="#8c40c4" opacity=".55"/><circle cx="311.2" cy="68.9" r="1.1" fill="#8c40c4" opacity=".55"/><circle cx="275.6" cy="68.2" r="1.2" fill="#8c40c4" opacity=".55"/><circle cx="281.1" cy="67.3" r="0.7" fill="#8c40c4" opacity=".55"/><circle cx="298.1" cy="83.3" r="0.6" fill="#8c40c4" opacity=".55"/><circle cx="280.7" cy="94.7" r="0.8" fill="#8c40c4" opacity=".55"/><circle cx="294.7" cy="78.3" r="1.3" fill="#8c40c4" opacity=".55"/><circle cx="296.4" cy="89.4" r="1.1" fill="#8c40c4" opacity=".55"/><circle cx="278.9" cy="71.1" r="0.7" fill="#8c40c4" opacity=".55"/><circle cx="305.8" cy="69.2" r="0.6" fill="#8c40c4" opacity=".55"/><circle cx="311.7" cy="71.8" r="1.4" fill="#8c40c4" opacity=".55"/><circle cx="274.6" cy="79.7" r="0.8" fill="#8c40c4" opacity=".55"/><circle cx="305.9" cy="84.2" r="1.2" fill="#8c40c4" opacity=".55"/><circle cx="303.1" cy="91.9" r="0.9" fill="#8c40c4" opacity=".55"/><circle cx="296.4" cy="79.1" r="0.7" fill="#8c40c4" opacity=".55"/><circle cx="306.2" cy="83.6" r="1.3" fill="#8c40c4" opacity=".55"/><circle cx="279.7" cy="81.9" r="1.0" fill="#8c40c4" opacity=".55"/><circle cx="301.6" cy="68.1" r="0.9" fill="#8c40c4" opacity=".55"/><circle cx="291.4" cy="67.9" r="1.1" fill="#8c40c4" opacity=".55"/><circle cx="302.0" cy="78.4" r="1.2" fill="#8c40c4" opacity=".55"/><circle cx="296.5" cy="72.2" r="0.9" fill="#8c40c4" opacity=".55"/><circle cx="312.9" cy="75.8" r="1.0" fill="#8c40c4" opacity=".55"/><circle cx="274.5" cy="72.3" r="0.7" fill="#8c40c4" opacity=".55"/><circle cx="310.2" cy="87.5" r="1.4" fill="#8c40c4" opacity=".55"/><circle cx="312.5" cy="84.1" r="1.4" fill="#8c40c4" opacity=".55"/><circle cx="293.6" cy="78.3" r="1.5" fill="#8c40c4" opacity=".55"/><circle cx="309.0" cy="94.2" r="1.0" fill="#8c40c4" opacity=".55"/><circle cx="303.6" cy="78.0" r="1.5" fill="#8c40c4" opacity=".55"/><circle cx="309.7" cy="74.5" r="1.4" fill="#8c40c4" opacity=".55"/><circle cx="278.8" cy="68.7" r="1.3" fill="#8c40c4" opacity=".55"/><circle cx="283.4" cy="81.3" r="1.2" fill="#8c40c4" opacity=".55"/><circle cx="272.7" cy="88.1" r="0.8" fill="#8c40c4" opacity=".55"/><circle cx="289.2" cy="76.1" r="1.3" fill="#8c40c4" opacity=".55"/><circle cx="302.4" cy="74.4" r="0.7" fill="#8c40c4" opacity=".55"/><circle cx="283.6" cy="78.1" r="0.7" fill="#8c40c4" opacity=".55"/><circle cx="277.5" cy="88.6" r="1.2" fill="#8c40c4" opacity=".55"/><circle cx="312.1" cy="95.1" r="1.4" fill="#8c40c4" opacity=".55"/><circle cx="286.7" cy="70.6" r="0.9" fill="#8c40c4" opacity=".55"/><circle cx="290.5" cy="81.5" r="1.1" fill="#8c40c4" opacity=".55"/><circle cx="286.1" cy="91.3" r="0.9" fill="#8c40c4" opacity=".55"/><circle cx="290.5" cy="92.3" r="1.3" fill="#8c40c4" opacity=".55"/><circle cx="283.5" cy="73.1" r="1.3" fill="#8c40c4" opacity=".55"/><circle cx="271.4" cy="69.7" r="1.1" fill="#8c40c4" opacity=".55"/><circle cx="293.6" cy="70.8" r="0.6" fill="#8c40c4" opacity=".55"/><circle cx="279.6" cy="88.8" r="1.0" fill="#8c40c4" opacity=".55"/><circle cx="312.2" cy="89.3" r="1.5" fill="#8c40c4" opacity=".55"/><circle cx="272.5" cy="71.3" r="0.6" fill="#8c40c4" opacity=".55"/><circle cx="289.2" cy="75.9" r="0.6" fill="#8c40c4" opacity=".55"/><circle cx="294.0" cy="68.6" r="0.9" fill="#8c40c4" opacity=".55"/></g>
<rect x="321.80" y="65.50" width="45.90" height="35.60" fill="#fff" stroke="#3c3c3c" stroke-width="1.1"/>
<rect x="322.4" y="65.6" width="44.1" height="30.4" filter="url(#tex0)" clip-path="url(#tc6)"/>
<g clip-path="url(#tc6)"><circle cx="333.8" cy="89.4" r="1.0" fill="#8c40c4" opacity=".55"/><circle cx="334.4" cy="67.8" r="1.0" fill="#8c40c4" opacity=".55"/><circle cx="349.8" cy="85.8" r="1.4" fill="#8c40c4" opacity=".55"/><circle cx="357.4" cy="73.6" r="0.7" fill="#8c40c4" opacity=".55"/><circle cx="355.3" cy="89.0" r="1.1" fill="#8c40c4" opacity=".55"/><circle cx="358.4" cy="82.3" r="0.9" fill="#8c40c4" opacity=".55"/><circle cx="330.5" cy="67.1" r="1.2" fill="#8c40c4" opacity=".55"/><circle cx="361.2" cy="92.3" r="1.0" fill="#8c40c4" opacity=".55"/><circle cx="351.4" cy="93.0" r="1.3" fill="#8c40c4" opacity=".55"/><circle cx="348.8" cy="78.4" r="1.1" fill="#8c40c4" opacity=".55"/><circle cx="330.6" cy="71.8" r="1.2" fill="#8c40c4" opacity=".55"/><circle cx="365.2" cy="82.1" r="1.0" fill="#8c40c4" opacity=".55"/><circle cx="338.2" cy="79.5" r="1.3" fill="#8c40c4" opacity=".55"/><circle cx="342.5" cy="93.8" r="0.7" fill="#8c40c4" opacity=".55"/><circle cx="336.7" cy="81.4" r="1.0" fill="#8c40c4" opacity=".55"/><circle cx="359.2" cy="90.1" r="1.4" fill="#8c40c4" opacity=".55"/><circle cx="349.2" cy="67.5" r="1.1" fill="#8c40c4" opacity=".55"/><circle cx="346.5" cy="80.4" r="0.9" fill="#8c40c4" opacity=".55"/><circle cx="353.3" cy="92.5" r="0.7" fill="#8c40c4" opacity=".55"/><circle cx="351.6" cy="77.1" r="1.1" fill="#8c40c4" opacity=".55"/><circle cx="361.1" cy="93.9" r="1.2" fill="#8c40c4" opacity=".55"/><circle cx="331.6" cy="92.7" r="0.8" fill="#8c40c4" opacity=".55"/><circle cx="339.5" cy="90.1" r="0.9" fill="#8c40c4" opacity=".55"/><circle cx="334.8" cy="93.6" r="1.4" fill="#8c40c4" opacity=".55"/><circle cx="336.8" cy="77.7" r="0.9" fill="#8c40c4" opacity=".55"/><circle cx="328.9" cy="73.7" r="1.5" fill="#8c40c4" opacity=".55"/><circle cx="326.7" cy="73.1" r="0.8" fill="#8c40c4" opacity=".55"/><circle cx="326.7" cy="81.5" r="1.3" fill="#8c40c4" opacity=".55"/><circle cx="358.7" cy="84.5" r="1.3" fill="#8c40c4" opacity=".55"/><circle cx="323.6" cy="74.6" r="1.5" fill="#8c40c4" opacity=".55"/><circle cx="326.3" cy="74.2" r="1.0" fill="#8c40c4" opacity=".55"/><circle cx="334.7" cy="82.1" r="0.6" fill="#8c40c4" opacity=".55"/><circle cx="333.3" cy="93.8" r="0.7" fill="#8c40c4" opacity=".55"/><circle cx="361.5" cy="71.7" r="1.5" fill="#8c40c4" opacity=".55"/><circle cx="351.8" cy="85.0" r="0.7" fill="#8c40c4" opacity=".55"/><circle cx="325.7" cy="88.2" r="0.8" fill="#8c40c4" opacity=".55"/><circle cx="331.4" cy="90.0" r="1.4" fill="#8c40c4" opacity=".55"/><circle cx="325.5" cy="93.9" r="1.1" fill="#8c40c4" opacity=".55"/><circle cx="339.5" cy="69.6" r="1.0" fill="#8c40c4" opacity=".55"/><circle cx="365.0" cy="74.6" r="0.7" fill="#8c40c4" opacity=".55"/><circle cx="329.5" cy="70.2" r="0.9" fill="#8c40c4" opacity=".55"/><circle cx="361.9" cy="68.8" r="0.8" fill="#8c40c4" opacity=".55"/><circle cx="362.9" cy="94.9" r="1.5" fill="#8c40c4" opacity=".55"/><circle cx="333.8" cy="76.7" r="1.5" fill="#8c40c4" opacity=".55"/><circle cx="343.8" cy="86.6" r="0.9" fill="#8c40c4" opacity=".55"/><circle cx="324.3" cy="76.4" r="1.3" fill="#8c40c4" opacity=".55"/><circle cx="356.3" cy="82.8" r="1.0" fill="#8c40c4" opacity=".55"/><circle cx="346.1" cy="79.2" r="1.1" fill="#8c40c4" opacity=".55"/><circle cx="358.5" cy="72.3" r="1.1" fill="#8c40c4" opacity=".55"/><circle cx="362.7" cy="90.7" r="0.8" fill="#8c40c4" opacity=".55"/><circle cx="364.0" cy="90.5" r="0.8" fill="#8c40c4" opacity=".55"/><circle cx="334.6" cy="72.3" r="0.6" fill="#8c40c4" opacity=".55"/><circle cx="364.6" cy="78.2" r="1.4" fill="#8c40c4" opacity=".55"/><circle cx="328.2" cy="67.0" r="1.4" fill="#8c40c4" opacity=".55"/></g>
<rect x="374.00" y="65.50" width="46.00" height="35.60" fill="#fff" stroke="#3c3c3c" stroke-width="1.1"/>
<rect x="374.5" y="72.0" width="44.9" height="22.4" filter="url(#tex1)" clip-path="url(#tc7)"/>
<g clip-path="url(#tc7)"><circle cx="409.6" cy="93.2" r="1.2" fill="#8c40c4" opacity=".55"/><circle cx="398.0" cy="88.6" r="0.7" fill="#8c40c4" opacity=".55"/><circle cx="398.7" cy="82.0" r="0.7" fill="#8c40c4" opacity=".55"/><circle cx="401.3" cy="79.6" r="1.1" fill="#8c40c4" opacity=".55"/><circle cx="391.5" cy="79.5" r="0.9" fill="#8c40c4" opacity=".55"/><circle cx="401.3" cy="93.0" r="1.4" fill="#8c40c4" opacity=".55"/><circle cx="412.5" cy="90.0" r="0.9" fill="#8c40c4" opacity=".55"/><circle cx="417.4" cy="78.5" r="0.7" fill="#8c40c4" opacity=".55"/><circle cx="397.0" cy="87.9" r="0.9" fill="#8c40c4" opacity=".55"/><circle cx="403.2" cy="78.8" r="1.5" fill="#8c40c4" opacity=".55"/><circle cx="394.9" cy="82.7" r="1.1" fill="#8c40c4" opacity=".55"/><circle cx="413.0" cy="93.1" r="1.1" fill="#8c40c4" opacity=".55"/><circle cx="394.4" cy="85.6" r="0.7" fill="#8c40c4" opacity=".55"/><circle cx="393.8" cy="90.3" r="1.3" fill="#8c40c4" opacity=".55"/><circle cx="378.0" cy="90.4" r="0.9" fill="#8c40c4" opacity=".55"/><circle cx="417.6" cy="80.5" r="0.8" fill="#8c40c4" opacity=".55"/><circle cx="399.0" cy="91.0" r="1.0" fill="#8c40c4" opacity=".55"/><circle cx="412.7" cy="87.5" r="0.9" fill="#8c40c4" opacity=".55"/><circle cx="388.4" cy="83.3" r="1.0" fill="#8c40c4" opacity=".55"/><circle cx="391.5" cy="86.3" r="1.4" fill="#8c40c4" opacity=".55"/><circle cx="400.6" cy="76.0" r="0.8" fill="#8c40c4" opacity=".55"/><circle cx="391.4" cy="85.5" r="0.7" fill="#8c40c4" opacity=".55"/><circle cx="379.0" cy="79.5" r="0.9" fill="#8c40c4" opacity=".55"/><circle cx="376.8" cy="84.0" r="1.4" fill="#8c40c4" opacity=".55"/><circle cx="398.4" cy="88.0" r="1.3" fill="#8c40c4" opacity=".55"/><circle cx="411.4" cy="91.6" r="1.0" fill="#8c40c4" opacity=".55"/><circle cx="404.8" cy="75.5" r="1.4" fill="#8c40c4" opacity=".55"/><circle cx="391.7" cy="82.7" r="1.4" fill="#8c40c4" opacity=".55"/><circle cx="387.8" cy="76.9" r="1.3" fill="#8c40c4" opacity=".55"/><circle cx="401.2" cy="74.7" r="0.6" fill="#8c40c4" opacity=".55"/><circle cx="390.6" cy="73.2" r="1.3" fill="#8c40c4" opacity=".55"/><circle cx="383.4" cy="78.6" r="0.9" fill="#8c40c4" opacity=".55"/><circle cx="397.5" cy="81.8" r="1.2" fill="#8c40c4" opacity=".55"/><circle cx="403.8" cy="81.9" r="0.7" fill="#8c40c4" opacity=".55"/><circle cx="417.5" cy="87.1" r="0.7" fill="#8c40c4" opacity=".55"/><circle cx="394.4" cy="88.4" r="1.5" fill="#8c40c4" opacity=".55"/><circle cx="378.3" cy="73.2" r="1.0" fill="#8c40c4" opacity=".55"/><circle cx="393.6" cy="91.2" r="1.3" fill="#8c40c4" opacity=".55"/><circle cx="389.7" cy="81.5" r="1.1" fill="#8c40c4" opacity=".55"/></g>
<rect x="218.20" y="105.50" width="45.30" height="35.70" fill="#fff" stroke="#3c3c3c" stroke-width="1.1"/>
<rect x="218.6" y="110.4" width="44.2" height="26.6" filter="url(#tex2)" clip-path="url(#tc8)"/>
<g clip-path="url(#tc8)"><circle cx="256.9" cy="116.4" r="1.0" fill="#8c40c4" opacity=".55"/><circle cx="223.3" cy="127.2" r="0.6" fill="#8c40c4" opacity=".55"/><circle cx="259.1" cy="124.3" r="1.1" fill="#8c40c4" opacity=".55"/><circle cx="223.2" cy="117.1" r="1.0" fill="#8c40c4" opacity=".55"/><circle cx="255.8" cy="124.7" r="0.9" fill="#8c40c4" opacity=".55"/><circle cx="261.0" cy="127.7" r="1.1" fill="#8c40c4" opacity=".55"/><circle cx="228.1" cy="118.7" r="1.4" fill="#8c40c4" opacity=".55"/><circle cx="225.2" cy="124.5" r="1.2" fill="#8c40c4" opacity=".55"/><circle cx="234.6" cy="130.3" r="1.4" fill="#8c40c4" opacity=".55"/><circle cx="255.8" cy="129.6" r="0.8" fill="#8c40c4" opacity=".55"/><circle cx="222.1" cy="122.0" r="0.9" fill="#8c40c4" opacity=".55"/><circle cx="227.8" cy="132.8" r="0.8" fill="#8c40c4" opacity=".55"/><circle cx="254.3" cy="134.5" r="0.7" fill="#8c40c4" opacity=".55"/><circle cx="258.2" cy="121.2" r="0.8" fill="#8c40c4" opacity=".55"/><circle cx="227.5" cy="112.3" r="1.0" fill="#8c40c4" opacity=".55"/><circle cx="235.8" cy="132.3" r="1.3" fill="#8c40c4" opacity=".55"/><circle cx="222.0" cy="121.3" r="1.0" fill="#8c40c4" opacity=".55"/><circle cx="227.1" cy="117.6" r="0.8" fill="#8c40c4" opacity=".55"/><circle cx="248.9" cy="119.8" r="0.7" fill="#8c40c4" opacity=".55"/><circle cx="228.9" cy="122.3" r="1.1" fill="#8c40c4" opacity=".55"/><circle cx="230.0" cy="128.6" r="0.8" fill="#8c40c4" opacity=".55"/><circle cx="247.9" cy="126.4" r="0.8" fill="#8c40c4" opacity=".55"/><circle cx="251.3" cy="121.1" r="1.1" fill="#8c40c4" opacity=".55"/><circle cx="244.8" cy="126.9" r="1.0" fill="#8c40c4" opacity=".55"/><circle cx="222.0" cy="130.8" r="1.4" fill="#8c40c4" opacity=".55"/><circle cx="240.3" cy="125.6" r="0.8" fill="#8c40c4" opacity=".55"/><circle cx="257.5" cy="128.3" r="0.8" fill="#8c40c4" opacity=".55"/><circle cx="254.1" cy="135.7" r="0.9" fill="#8c40c4" opacity=".55"/><circle cx="261.6" cy="123.3" r="0.8" fill="#8c40c4" opacity=".55"/><circle cx="249.9" cy="119.7" r="1.3" fill="#8c40c4" opacity=".55"/><circle cx="244.2" cy="114.0" r="1.1" fill="#8c40c4" opacity=".55"/><circle cx="255.5" cy="123.2" r="1.1" fill="#8c40c4" opacity=".55"/><circle cx="256.0" cy="122.4" r="1.0" fill="#8c40c4" opacity=".55"/><circle cx="244.2" cy="131.7" r="0.8" fill="#8c40c4" opacity=".55"/><circle cx="223.5" cy="130.1" r="1.1" fill="#8c40c4" opacity=".55"/><circle cx="232.4" cy="133.3" r="1.4" fill="#8c40c4" opacity=".55"/><circle cx="242.5" cy="135.7" r="1.4" fill="#8c40c4" opacity=".55"/><circle cx="251.2" cy="118.6" r="0.6" fill="#8c40c4" opacity=".55"/><circle cx="248.2" cy="129.5" r="0.9" fill="#8c40c4" opacity=".55"/><circle cx="239.8" cy="125.4" r="0.8" fill="#8c40c4" opacity=".55"/><circle cx="249.0" cy="125.2" r="0.9" fill="#8c40c4" opacity=".55"/><circle cx="224.2" cy="125.0" r="0.9" fill="#8c40c4" opacity=".55"/><circle cx="250.2" cy="115.6" r="1.0" fill="#8c40c4" opacity=".55"/><circle cx="227.9" cy="121.4" r="1.1" fill="#8c40c4" opacity=".55"/><circle cx="224.1" cy="112.7" r="1.0" fill="#8c40c4" opacity=".55"/><circle cx="228.1" cy="123.8" r="0.8" fill="#8c40c4" opacity=".55"/><circle cx="223.9" cy="124.6" r="1.4" fill="#8c40c4" opacity=".55"/></g>
<rect x="269.20" y="105.50" width="45.40" height="35.70" fill="#fff" stroke="#3c3c3c" stroke-width="1.1"/>
<rect x="268.4" y="112.0" width="46.5" height="24.2" filter="url(#tex0)" clip-path="url(#tc9)"/>
<g clip-path="url(#tc9)"><circle cx="308.1" cy="124.4" r="1.0" fill="#8c40c4" opacity=".55"/><circle cx="272.3" cy="119.1" r="0.9" fill="#8c40c4" opacity=".55"/><circle cx="311.3" cy="115.6" r="1.5" fill="#8c40c4" opacity=".55"/><circle cx="290.6" cy="122.6" r="0.8" fill="#8c40c4" opacity=".55"/><circle cx="312.2" cy="117.1" r="1.1" fill="#8c40c4" opacity=".55"/><circle cx="292.1" cy="117.4" r="0.8" fill="#8c40c4" opacity=".55"/><circle cx="313.3" cy="130.6" r="1.3" fill="#8c40c4" opacity=".55"/><circle cx="309.6" cy="115.2" r="1.2" fill="#8c40c4" opacity=".55"/><circle cx="302.8" cy="118.0" r="1.0" fill="#8c40c4" opacity=".55"/><circle cx="312.8" cy="120.3" r="1.3" fill="#8c40c4" opacity=".55"/><circle cx="276.8" cy="127.8" r="0.8" fill="#8c40c4" opacity=".55"/><circle cx="292.0" cy="121.3" r="1.4" fill="#8c40c4" opacity=".55"/><circle cx="302.5" cy="124.2" r="1.2" fill="#8c40c4" opacity=".55"/><circle cx="288.4" cy="130.9" r="0.8" fill="#8c40c4" opacity=".55"/><circle cx="293.6" cy="126.0" r="0.9" fill="#8c40c4" opacity=".55"/><circle cx="271.5" cy="116.8" r="1.2" fill="#8c40c4" opacity=".55"/><circle cx="278.8" cy="129.8" r="1.1" fill="#8c40c4" opacity=".55"/><circle cx="311.8" cy="131.8" r="1.3" fill="#8c40c4" opacity=".55"/><circle cx="286.0" cy="114.0" r="1.1" fill="#8c40c4" opacity=".55"/><circle cx="302.6" cy="133.4" r="0.8" fill="#8c40c4" opacity=".55"/><circle cx="276.5" cy="134.8" r="1.3" fill="#8c40c4" opacity=".55"/><circle cx="291.0" cy="129.4" r="0.7" fill="#8c40c4" opacity=".55"/><circle cx="293.6" cy="127.8" r="1.1" fill="#8c40c4" opacity=".55"/><circle cx="276.6" cy="116.0" r="1.2" fill="#8c40c4" opacity=".55"/><circle cx="308.8" cy="116.1" r="0.6" fill="#8c40c4" opacity=".55"/><circle cx="273.1" cy="130.4" r="1.0" fill="#8c40c4" opacity=".55"/><circle cx="289.7" cy="135.1" r="1.2" fill="#8c40c4" opacity=".55"/><circle cx="281.1" cy="128.6" r="0.6" fill="#8c40c4" opacity=".55"/><circle cx="281.9" cy="128.5" r="0.8" fill="#8c40c4" opacity=".55"/><circle cx="270.9" cy="124.5" r="0.9" fill="#8c40c4" opacity=".55"/><circle cx="312.6" cy="115.3" r="1.3" fill="#8c40c4" opacity=".55"/><circle cx="286.7" cy="130.9" r="1.0" fill="#8c40c4" opacity=".55"/><circle cx="299.1" cy="120.3" r="0.8" fill="#8c40c4" opacity=".55"/><circle cx="289.5" cy="130.8" r="0.9" fill="#8c40c4" opacity=".55"/><circle cx="279.6" cy="122.2" r="0.7" fill="#8c40c4" opacity=".55"/><circle cx="283.4" cy="125.7" r="1.1" fill="#8c40c4" opacity=".55"/><circle cx="296.0" cy="119.4" r="0.6" fill="#8c40c4" opacity=".55"/><circle cx="270.6" cy="120.5" r="0.8" fill="#8c40c4" opacity=".55"/><circle cx="294.7" cy="118.9" r="1.3" fill="#8c40c4" opacity=".55"/><circle cx="296.2" cy="127.7" r="1.3" fill="#8c40c4" opacity=".55"/><circle cx="292.6" cy="122.5" r="0.9" fill="#8c40c4" opacity=".55"/><circle cx="272.2" cy="130.6" r="1.1" fill="#8c40c4" opacity=".55"/><circle cx="273.8" cy="133.6" r="1.1" fill="#8c40c4" opacity=".55"/><circle cx="297.1" cy="122.7" r="0.7" fill="#8c40c4" opacity=".55"/></g>
<rect x="321.80" y="106.70" width="45.90" height="35.70" fill="#fff" stroke="#3c3c3c" stroke-width="1.1"/>
<rect x="321.6" y="112.0" width="44.9" height="27.3" filter="url(#tex1)" clip-path="url(#tc10)"/>
<g clip-path="url(#tc10)"><circle cx="365.5" cy="117.3" r="0.9" fill="#8c40c4" opacity=".55"/><circle cx="365.5" cy="116.1" r="1.0" fill="#8c40c4" opacity=".55"/><circle cx="343.2" cy="119.3" r="1.4" fill="#8c40c4" opacity=".55"/><circle cx="340.4" cy="113.3" r="1.0" fill="#8c40c4" opacity=".55"/><circle cx="322.8" cy="130.9" r="1.4" fill="#8c40c4" opacity=".55"/><circle cx="361.5" cy="114.2" r="1.2" fill="#8c40c4" opacity=".55"/><circle cx="335.7" cy="125.0" r="0.9" fill="#8c40c4" opacity=".55"/><circle cx="335.7" cy="116.4" r="1.2" fill="#8c40c4" opacity=".55"/><circle cx="326.4" cy="137.4" r="0.6" fill="#8c40c4" opacity=".55"/><circle cx="364.0" cy="117.8" r="0.7" fill="#8c40c4" opacity=".55"/><circle cx="354.6" cy="126.4" r="1.3" fill="#8c40c4" opacity=".55"/><circle cx="344.4" cy="129.0" r="0.7" fill="#8c40c4" opacity=".55"/><circle cx="351.5" cy="126.0" r="1.5" fill="#8c40c4" opacity=".55"/><circle cx="322.9" cy="114.7" r="1.2" fill="#8c40c4" opacity=".55"/><circle cx="362.3" cy="123.7" r="1.2" fill="#8c40c4" opacity=".55"/><circle cx="346.6" cy="122.9" r="1.0" fill="#8c40c4" opacity=".55"/><circle cx="348.4" cy="113.7" r="0.9" fill="#8c40c4" opacity=".55"/><circle cx="354.3" cy="119.5" r="1.0" fill="#8c40c4" opacity=".55"/><circle cx="333.6" cy="122.0" r="1.2" fill="#8c40c4" opacity=".55"/><circle cx="354.5" cy="137.2" r="1.0" fill="#8c40c4" opacity=".55"/><circle cx="331.3" cy="121.5" r="0.7" fill="#8c40c4" opacity=".55"/><circle cx="332.9" cy="127.8" r="1.1" fill="#8c40c4" opacity=".55"/><circle cx="333.0" cy="117.6" r="0.7" fill="#8c40c4" opacity=".55"/><circle cx="330.3" cy="125.7" r="0.8" fill="#8c40c4" opacity=".55"/><circle cx="360.5" cy="127.3" r="0.9" fill="#8c40c4" opacity=".55"/><circle cx="341.1" cy="114.0" r="1.3" fill="#8c40c4" opacity=".55"/><circle cx="354.8" cy="122.2" r="1.3" fill="#8c40c4" opacity=".55"/><circle cx="334.3" cy="118.6" r="0.8" fill="#8c40c4" opacity=".55"/><circle cx="331.0" cy="128.3" r="1.2" fill="#8c40c4" opacity=".55"/><circle cx="353.8" cy="115.6" r="1.3" fill="#8c40c4" opacity=".55"/><circle cx="343.1" cy="122.6" r="1.1" fill="#8c40c4" opacity=".55"/><circle cx="341.2" cy="118.1" r="1.0" fill="#8c40c4" opacity=".55"/><circle cx="350.3" cy="131.1" r="1.4" fill="#8c40c4" opacity=".55"/><circle cx="330.9" cy="135.5" r="1.3" fill="#8c40c4" opacity=".55"/><circle cx="353.2" cy="137.8" r="0.7" fill="#8c40c4" opacity=".55"/><circle cx="355.9" cy="135.8" r="0.7" fill="#8c40c4" opacity=".55"/><circle cx="348.1" cy="137.0" r="0.9" fill="#8c40c4" opacity=".55"/><circle cx="359.3" cy="135.9" r="1.0" fill="#8c40c4" opacity=".55"/><circle cx="328.8" cy="118.5" r="1.3" fill="#8c40c4" opacity=".55"/><circle cx="340.7" cy="121.0" r="1.0" fill="#8c40c4" opacity=".55"/><circle cx="362.4" cy="119.4" r="0.6" fill="#8c40c4" opacity=".55"/><circle cx="363.3" cy="121.0" r="0.9" fill="#8c40c4" opacity=".55"/><circle cx="364.5" cy="120.1" r="0.7" fill="#8c40c4" opacity=".55"/><circle cx="360.7" cy="119.2" r="0.8" fill="#8c40c4" opacity=".55"/><circle cx="362.8" cy="118.8" r="1.4" fill="#8c40c4" opacity=".55"/><circle cx="336.9" cy="120.7" r="0.8" fill="#8c40c4" opacity=".55"/><circle cx="345.9" cy="127.2" r="1.0" fill="#8c40c4" opacity=".55"/><circle cx="344.4" cy="120.5" r="1.4" fill="#8c40c4" opacity=".55"/><circle cx="362.7" cy="132.1" r="1.3" fill="#8c40c4" opacity=".55"/></g>
<rect x="374.00" y="106.70" width="46.00" height="35.70" fill="#fff" stroke="#3c3c3c" stroke-width="1.1"/>
<rect x="374.5" y="112.0" width="44.9" height="28.0" filter="url(#tex2)" clip-path="url(#tc11)"/>
<g clip-path="url(#tc11)"><circle cx="378.5" cy="119.5" r="0.8" fill="#8c40c4" opacity=".55"/><circle cx="382.1" cy="138.2" r="1.4" fill="#8c40c4" opacity=".55"/><circle cx="414.7" cy="127.5" r="0.7" fill="#8c40c4" opacity=".55"/><circle cx="393.8" cy="114.5" r="1.4" fill="#8c40c4" opacity=".55"/><circle cx="386.9" cy="120.5" r="1.5" fill="#8c40c4" opacity=".55"/><circle cx="384.1" cy="137.0" r="0.9" fill="#8c40c4" opacity=".55"/><circle cx="404.0" cy="115.8" r="1.4" fill="#8c40c4" opacity=".55"/><circle cx="392.6" cy="122.0" r="1.2" fill="#8c40c4" opacity=".55"/><circle cx="401.0" cy="119.5" r="0.7" fill="#8c40c4" opacity=".55"/><circle cx="400.2" cy="113.6" r="1.4" fill="#8c40c4" opacity=".55"/><circle cx="390.2" cy="117.4" r="0.9" fill="#8c40c4" opacity=".55"/><circle cx="380.4" cy="121.2" r="1.1" fill="#8c40c4" opacity=".55"/><circle cx="393.0" cy="121.7" r="0.9" fill="#8c40c4" opacity=".55"/><circle cx="396.4" cy="133.2" r="1.0" fill="#8c40c4" opacity=".55"/><circle cx="408.4" cy="125.5" r="0.7" fill="#8c40c4" opacity=".55"/><circle cx="382.8" cy="135.0" r="1.0" fill="#8c40c4" opacity=".55"/><circle cx="391.9" cy="126.4" r="1.4" fill="#8c40c4" opacity=".55"/><circle cx="391.6" cy="122.4" r="0.9" fill="#8c40c4" opacity=".55"/><circle cx="376.0" cy="127.2" r="1.0" fill="#8c40c4" opacity=".55"/><circle cx="396.8" cy="124.7" r="1.0" fill="#8c40c4" opacity=".55"/><circle cx="406.2" cy="117.8" r="1.5" fill="#8c40c4" opacity=".55"/><circle cx="380.4" cy="135.5" r="0.8" fill="#8c40c4" opacity=".55"/><circle cx="409.6" cy="119.8" r="0.7" fill="#8c40c4" opacity=".55"/><circle cx="398.7" cy="134.8" r="1.4" fill="#8c40c4" opacity=".55"/><circle cx="413.1" cy="138.5" r="0.6" fill="#8c40c4" opacity=".55"/><circle cx="391.8" cy="115.8" r="1.3" fill="#8c40c4" opacity=".55"/><circle cx="394.9" cy="132.3" r="1.3" fill="#8c40c4" opacity=".55"/><circle cx="418.4" cy="130.6" r="1.4" fill="#8c40c4" opacity=".55"/><circle cx="399.0" cy="115.1" r="1.4" fill="#8c40c4" opacity=".55"/><circle cx="379.4" cy="115.2" r="1.3" fill="#8c40c4" opacity=".55"/><circle cx="387.5" cy="130.2" r="0.6" fill="#8c40c4" opacity=".55"/><circle cx="384.5" cy="131.6" r="0.6" fill="#8c40c4" opacity=".55"/><circle cx="397.4" cy="137.4" r="0.8" fill="#8c40c4" opacity=".55"/><circle cx="405.7" cy="132.3" r="1.2" fill="#8c40c4" opacity=".55"/><circle cx="408.4" cy="131.2" r="0.6" fill="#8c40c4" opacity=".55"/><circle cx="383.7" cy="126.9" r="1.5" fill="#8c40c4" opacity=".55"/><circle cx="384.8" cy="128.3" r="0.7" fill="#8c40c4" opacity=".55"/><circle cx="411.8" cy="124.6" r="1.1" fill="#8c40c4" opacity=".55"/><circle cx="404.2" cy="116.5" r="1.3" fill="#8c40c4" opacity=".55"/><circle cx="409.8" cy="135.3" r="0.9" fill="#8c40c4" opacity=".55"/><circle cx="385.6" cy="117.3" r="1.4" fill="#8c40c4" opacity=".55"/><circle cx="394.3" cy="123.1" r="1.1" fill="#8c40c4" opacity=".55"/><circle cx="405.5" cy="121.3" r="0.9" fill="#8c40c4" opacity=".55"/><circle cx="408.4" cy="133.2" r="0.9" fill="#8c40c4" opacity=".55"/><circle cx="378.7" cy="137.1" r="1.3" fill="#8c40c4" opacity=".55"/><circle cx="401.0" cy="123.5" r="1.5" fill="#8c40c4" opacity=".55"/><circle cx="394.0" cy="118.6" r="0.7" fill="#8c40c4" opacity=".55"/><circle cx="390.6" cy="128.6" r="0.9" fill="#8c40c4" opacity=".55"/><circle cx="416.1" cy="129.9" r="1.0" fill="#8c40c4" opacity=".55"/><circle cx="403.8" cy="128.6" r="1.2" fill="#8c40c4" opacity=".55"/></g>
<circle cx="406.90" cy="122.90" r="3.2" fill="#8a3fcc" opacity="0.85"/>
<circle cx="284.50" cy="121.30" r="2.0" fill="#8a3fcc" opacity="0.8"/>
<path d="M382.5 38.6 Q392 35.2 405.5 32.2" fill="none" stroke="#fff" stroke-width="1.1"/>
<circle cx="335.50" cy="79.50" r="0.9" fill="#fff"/>
<circle cx="340.50" cy="81.20" r="0.7" fill="#fff"/>
<circle cx="337.80" cy="84.00" r="0.8" fill="#fff"/>
<line x1="405.90" y1="136.50" x2="416.40" y2="136.50" stroke="#111" stroke-width="0.8"/>
<text x="405.00" y="140.80" font-size="3.9" fill="#222" textLength="12.6" lengthAdjust="spacingAndGlyphs">1000 µm</text>
<line x1="477.50" y1="133.10" x2="477.50" y2="56.60" stroke="#222" stroke-width="1.1"/>
<line x1="473.80" y1="132.50" x2="477.00" y2="132.50" stroke="#222" stroke-width="1.1"/>
<text x="472.90" y="135.85" font-size="8.2" text-anchor="end" fill="#222" transform="translate(0 135.85) scale(1 1.1) translate(0 -135.85)" stroke="#222" stroke-width="0.25">0</text>
<line x1="473.80" y1="113.50" x2="477.00" y2="113.50" stroke="#222" stroke-width="1.1"/>
<text x="472.90" y="116.85" font-size="8.2" text-anchor="end" fill="#222" transform="translate(0 116.85) scale(1 1.1) translate(0 -116.85)" stroke="#222" stroke-width="0.25">20</text>
<line x1="473.80" y1="94.50" x2="477.00" y2="94.50" stroke="#222" stroke-width="1.1"/>
<text x="472.90" y="97.85" font-size="8.2" text-anchor="end" fill="#222" transform="translate(0 97.85) scale(1 1.1) translate(0 -97.85)" stroke="#222" stroke-width="0.25">40</text>
<line x1="473.80" y1="75.50" x2="477.00" y2="75.50" stroke="#222" stroke-width="1.1"/>
<text x="472.90" y="78.85" font-size="8.2" text-anchor="end" fill="#222" transform="translate(0 78.85) scale(1 1.1) translate(0 -78.85)" stroke="#222" stroke-width="0.25">60</text>
<line x1="473.80" y1="56.50" x2="477.00" y2="56.50" stroke="#222" stroke-width="1.1"/>
<text x="472.90" y="59.85" font-size="8.2" text-anchor="end" fill="#222" transform="translate(0 59.85) scale(1 1.1) translate(0 -59.85)" stroke="#222" stroke-width="0.25">80</text>
<line x1="477.00" y1="132.50" x2="590.60" y2="132.50" stroke="#222" stroke-width="1.0"/>
<line x1="495.50" y1="132.60" x2="495.50" y2="135.10" stroke="#222" stroke-width="1.0"/>
<line x1="533.50" y1="132.60" x2="533.50" y2="135.10" stroke="#222" stroke-width="1.0"/>
<line x1="571.50" y1="132.60" x2="571.50" y2="135.10" stroke="#222" stroke-width="1.0"/>
<text x="445.07" y="88.30" font-size="8.8" text-anchor="middle" fill="#222" textLength="54" lengthAdjust="spacingAndGlyphs" transform="rotate(-90 445.07 88.30)" stroke="#222" stroke-width="0.25">Tumor volume</text>
<text x="455.17" y="90.30" font-size="8.8" text-anchor="middle" fill="#222" textLength="41.8" lengthAdjust="spacingAndGlyphs" transform="rotate(-90 455.17 90.30)" stroke="#222" stroke-width="0.25">(% of lung)</text>
<text x="495.50" y="144.20" font-size="8.8" text-anchor="middle" fill="#222" stroke="#222" stroke-width="0.25">WT</text>
<text x="533.40" y="144.20" font-size="8.8" text-anchor="middle" fill="#222" stroke="#222" stroke-width="0.25"><tspan font-style="italic">Tbx21</tspan><tspan font-size="5.63" dy="-3.52" letter-spacing="0.25">-/-</tspan></text>
<text x="571.90" y="144.20" font-size="8.8" text-anchor="middle" fill="#222" stroke="#222" stroke-width="0.25"><tspan font-style="italic">Zeb2</tspan><tspan font-size="5.63" dy="-3.52" letter-spacing="0.25">-/-</tspan></text>
<line x1="484.50" y1="87.95" x2="484.50" y2="106.95" stroke="#bdbdbd" stroke-width="0.9"/>
<line x1="482.40" y1="87.50" x2="485.60" y2="87.50" stroke="#bdbdbd" stroke-width="0.9"/>
<line x1="482.40" y1="106.50" x2="485.60" y2="106.50" stroke="#bdbdbd" stroke-width="0.9"/>
<circle cx="484.00" cy="89.45" r="1.62" fill="#555555"/>
<circle cx="480.00" cy="89.78" r="1.62" fill="#555555"/>
<circle cx="486.50" cy="91.12" r="1.62" fill="#555555"/>
<circle cx="483.12" cy="91.83" r="1.62" fill="#555555"/>
<circle cx="482.25" cy="91.88" r="1.62" fill="#555555"/>
<circle cx="484.00" cy="95.03" r="1.62" fill="#555555"/>
<circle cx="484.00" cy="99.48" r="1.62" fill="#555555"/>
<circle cx="481.50" cy="100.79" r="1.62" fill="#555555"/>
<circle cx="486.50" cy="101.27" r="1.62" fill="#555555"/>
<circle cx="484.00" cy="106.33" r="1.62" fill="#555555"/>
<circle cx="484.00" cy="109.77" r="1.62" fill="#555555"/>
<circle cx="480.00" cy="110.93" r="1.62" fill="#555555"/>
<circle cx="484.00" cy="112.79" r="1.62" fill="#555555"/>
<circle cx="488.00" cy="113.54" r="1.62" fill="#555555"/>
<line x1="480.40" y1="97.50" x2="487.60" y2="97.50" stroke="#222" stroke-width="0.9"/>
<line x1="491.50" y1="104.10" x2="491.50" y2="117.40" stroke="#e6c99a" stroke-width="0.9"/>
<line x1="490.10" y1="104.50" x2="493.30" y2="104.50" stroke="#e6c99a" stroke-width="0.9"/>
<line x1="490.10" y1="117.50" x2="493.30" y2="117.50" stroke="#e6c99a" stroke-width="0.9"/>
<circle cx="491.70" cy="101.37" r="1.62" fill="#c9974a"/>
<circle cx="487.70" cy="102.25" r="1.62" fill="#c9974a"/>
<circle cx="495.70" cy="102.44" r="1.62" fill="#c9974a"/>
<circle cx="491.70" cy="105.00" r="1.62" fill="#c9974a"/>
<circle cx="489.20" cy="107.27" r="1.62" fill="#c9974a"/>
<circle cx="494.20" cy="107.57" r="1.62" fill="#c9974a"/>
<circle cx="491.70" cy="108.78" r="1.62" fill="#c9974a"/>
<circle cx="489.20" cy="110.21" r="1.62" fill="#c9974a"/>
<circle cx="495.70" cy="110.23" r="1.62" fill="#c9974a"/>
<circle cx="492.45" cy="110.80" r="1.62" fill="#c9974a"/>
<circle cx="491.70" cy="114.23" r="1.62" fill="#c9974a"/>
<circle cx="487.70" cy="115.08" r="1.62" fill="#c9974a"/>
<circle cx="491.70" cy="117.02" r="1.62" fill="#c9974a"/>
<circle cx="491.70" cy="120.44" r="1.62" fill="#c9974a"/>
<circle cx="489.20" cy="122.11" r="1.62" fill="#c9974a"/>
<circle cx="494.20" cy="122.76" r="1.62" fill="#c9974a"/>
<line x1="488.10" y1="110.50" x2="495.30" y2="110.50" stroke="#222" stroke-width="0.9"/>
<line x1="499.50" y1="94.60" x2="499.50" y2="111.70" stroke="#9fd39f" stroke-width="0.9"/>
<line x1="497.70" y1="94.50" x2="500.90" y2="94.50" stroke="#9fd39f" stroke-width="0.9"/>
<line x1="497.70" y1="111.50" x2="500.90" y2="111.50" stroke="#9fd39f" stroke-width="0.9"/>
<circle cx="499.30" cy="89.02" r="1.62" fill="#1f8f1f"/>
<circle cx="499.30" cy="93.38" r="1.62" fill="#1f8f1f"/>
<circle cx="495.30" cy="93.41" r="1.62" fill="#1f8f1f"/>
<circle cx="499.30" cy="99.21" r="1.62" fill="#1f8f1f"/>
<circle cx="495.30" cy="99.81" r="1.62" fill="#1f8f1f"/>
<circle cx="501.80" cy="101.46" r="1.62" fill="#1f8f1f"/>
<circle cx="499.30" cy="103.33" r="1.62" fill="#1f8f1f"/>
<circle cx="495.30" cy="103.49" r="1.62" fill="#1f8f1f"/>
<circle cx="499.30" cy="106.26" r="1.62" fill="#1f8f1f"/>
<circle cx="499.30" cy="109.30" r="1.62" fill="#1f8f1f"/>
<circle cx="495.30" cy="109.89" r="1.62" fill="#1f8f1f"/>
<circle cx="503.30" cy="109.99" r="1.62" fill="#1f8f1f"/>
<circle cx="499.30" cy="114.64" r="1.62" fill="#1f8f1f"/>
<circle cx="496.80" cy="116.09" r="1.62" fill="#1f8f1f"/>
<line x1="495.70" y1="103.50" x2="502.90" y2="103.50" stroke="#222" stroke-width="0.9"/>
<line x1="507.50" y1="123.10" x2="507.50" y2="128.80" stroke="#a9d3dc" stroke-width="0.9"/>
<line x1="505.40" y1="123.50" x2="508.60" y2="123.50" stroke="#a9d3dc" stroke-width="0.9"/>
<line x1="505.40" y1="128.50" x2="508.60" y2="128.50" stroke="#a9d3dc" stroke-width="0.9"/>
<circle cx="507.00" cy="122.14" r="1.62" fill="#3a8fa0"/>
<circle cx="504.50" cy="123.47" r="1.62" fill="#3a8fa0"/>
<circle cx="509.50" cy="123.88" r="1.62" fill="#3a8fa0"/>
<circle cx="507.00" cy="126.48" r="1.62" fill="#3a8fa0"/>
<circle cx="504.50" cy="128.02" r="1.62" fill="#3a8fa0"/>
<circle cx="509.50" cy="128.08" r="1.62" fill="#3a8fa0"/>
<circle cx="507.00" cy="129.45" r="1.62" fill="#3a8fa0"/>
<circle cx="504.86" cy="129.91" r="1.62" fill="#3a8fa0"/>
<circle cx="507.18" cy="130.07" r="1.62" fill="#3a8fa0"/>
<circle cx="511.00" cy="130.83" r="1.62" fill="#3a8fa0"/>
<circle cx="506.33" cy="131.42" r="1.62" fill="#3a8fa0"/>
<circle cx="504.79" cy="131.84" r="1.62" fill="#3a8fa0"/>
<line x1="503.40" y1="125.50" x2="510.60" y2="125.50" stroke="#222" stroke-width="0.9"/>
<line x1="521.50" y1="85.10" x2="521.50" y2="102.20" stroke="#bdbdbd" stroke-width="0.9"/>
<line x1="520.30" y1="85.50" x2="523.50" y2="85.50" stroke="#bdbdbd" stroke-width="0.9"/>
<line x1="520.30" y1="102.50" x2="523.50" y2="102.50" stroke="#bdbdbd" stroke-width="0.9"/>
<circle cx="521.90" cy="77.48" r="1.62" fill="#555555"/>
<circle cx="517.90" cy="77.51" r="1.62" fill="#555555"/>
<circle cx="525.90" cy="78.18" r="1.62" fill="#555555"/>
<circle cx="521.94" cy="78.90" r="1.62" fill="#555555"/>
<circle cx="521.90" cy="82.41" r="1.62" fill="#555555"/>
<circle cx="519.40" cy="84.19" r="1.62" fill="#555555"/>
<circle cx="524.40" cy="84.25" r="1.62" fill="#555555"/>
<circle cx="521.90" cy="87.27" r="1.62" fill="#555555"/>
<circle cx="517.90" cy="88.14" r="1.62" fill="#555555"/>
<circle cx="521.90" cy="90.77" r="1.62" fill="#555555"/>
<circle cx="519.40" cy="93.25" r="1.62" fill="#555555"/>
<circle cx="524.40" cy="93.37" r="1.62" fill="#555555"/>
<circle cx="521.90" cy="100.65" r="1.62" fill="#555555"/>
<circle cx="521.90" cy="105.09" r="1.62" fill="#555555"/>
<circle cx="521.90" cy="107.89" r="1.62" fill="#555555"/>
<line x1="518.30" y1="93.50" x2="525.50" y2="93.50" stroke="#222" stroke-width="0.9"/>
<line x1="529.50" y1="81.30" x2="529.50" y2="106.00" stroke="#e6c99a" stroke-width="0.9"/>
<line x1="528.00" y1="81.50" x2="531.20" y2="81.50" stroke="#e6c99a" stroke-width="0.9"/>
<line x1="528.00" y1="106.50" x2="531.20" y2="106.50" stroke="#e6c99a" stroke-width="0.9"/>
<circle cx="529.60" cy="82.03" r="1.62" fill="#c9974a"/>
<circle cx="525.60" cy="82.75" r="1.62" fill="#c9974a"/>
<circle cx="533.60" cy="83.06" r="1.62" fill="#c9974a"/>
<circle cx="527.29" cy="83.90" r="1.62" fill="#c9974a"/>
<circle cx="529.27" cy="84.27" r="1.62" fill="#c9974a"/>
<circle cx="527.45" cy="85.35" r="1.62" fill="#c9974a"/>
<circle cx="529.60" cy="87.08" r="1.62" fill="#c9974a"/>
<circle cx="525.60" cy="87.77" r="1.62" fill="#c9974a"/>
<circle cx="529.60" cy="92.27" r="1.62" fill="#c9974a"/>
<circle cx="527.10" cy="94.19" r="1.62" fill="#c9974a"/>
<circle cx="532.10" cy="94.72" r="1.62" fill="#c9974a"/>
<circle cx="529.60" cy="96.75" r="1.62" fill="#c9974a"/>
<circle cx="527.10" cy="98.23" r="1.62" fill="#c9974a"/>
<circle cx="529.60" cy="101.86" r="1.62" fill="#c9974a"/>
<circle cx="525.60" cy="102.26" r="1.62" fill="#c9974a"/>
<circle cx="529.60" cy="111.68" r="1.62" fill="#c9974a"/>
<line x1="526.00" y1="93.50" x2="533.20" y2="93.50" stroke="#222" stroke-width="0.9"/>
<line x1="537.50" y1="79.40" x2="537.50" y2="102.20" stroke="#9fd39f" stroke-width="0.9"/>
<line x1="535.60" y1="79.50" x2="538.80" y2="79.50" stroke="#9fd39f" stroke-width="0.9"/>
<line x1="535.60" y1="102.50" x2="538.80" y2="102.50" stroke="#9fd39f" stroke-width="0.9"/>
<circle cx="537.20" cy="81.36" r="1.62" fill="#1f8f1f"/>
<circle cx="537.20" cy="87.21" r="1.62" fill="#1f8f1f"/>
<circle cx="537.20" cy="91.03" r="1.62" fill="#1f8f1f"/>
<circle cx="533.20" cy="91.98" r="1.62" fill="#1f8f1f"/>
<circle cx="537.20" cy="94.43" r="1.62" fill="#1f8f1f"/>
<circle cx="533.20" cy="94.73" r="1.62" fill="#1f8f1f"/>
<circle cx="539.70" cy="96.69" r="1.62" fill="#1f8f1f"/>
<circle cx="537.20" cy="98.08" r="1.62" fill="#1f8f1f"/>
<circle cx="537.20" cy="103.83" r="1.62" fill="#1f8f1f"/>
<circle cx="533.20" cy="104.73" r="1.62" fill="#1f8f1f"/>
<circle cx="539.70" cy="105.83" r="1.62" fill="#1f8f1f"/>
<circle cx="535.15" cy="106.44" r="1.62" fill="#1f8f1f"/>
<circle cx="536.82" cy="106.53" r="1.62" fill="#1f8f1f"/>
<circle cx="538.83" cy="106.92" r="1.62" fill="#1f8f1f"/>
<circle cx="535.32" cy="107.60" r="1.62" fill="#1f8f1f"/>
<line x1="533.60" y1="90.50" x2="540.80" y2="90.50" stroke="#222" stroke-width="0.9"/>
<line x1="544.50" y1="80.35" x2="544.50" y2="103.15" stroke="#a9d3dc" stroke-width="0.9"/>
<line x1="543.30" y1="80.50" x2="546.50" y2="80.50" stroke="#a9d3dc" stroke-width="0.9"/>
<line x1="543.30" y1="103.50" x2="546.50" y2="103.50" stroke="#a9d3dc" stroke-width="0.9"/>
<circle cx="544.90" cy="75.63" r="1.62" fill="#3a8fa0"/>
<circle cx="542.40" cy="76.96" r="1.62" fill="#3a8fa0"/>
<circle cx="544.90" cy="81.72" r="1.62" fill="#3a8fa0"/>
<circle cx="544.90" cy="86.26" r="1.62" fill="#3a8fa0"/>
<circle cx="542.40" cy="88.53" r="1.62" fill="#3a8fa0"/>
<circle cx="544.90" cy="93.83" r="1.62" fill="#3a8fa0"/>
<circle cx="542.40" cy="95.13" r="1.62" fill="#3a8fa0"/>
<circle cx="547.40" cy="95.34" r="1.62" fill="#3a8fa0"/>
<circle cx="544.90" cy="102.77" r="1.62" fill="#3a8fa0"/>
<circle cx="540.90" cy="103.52" r="1.62" fill="#3a8fa0"/>
<circle cx="547.40" cy="104.14" r="1.62" fill="#3a8fa0"/>
<circle cx="543.52" cy="104.76" r="1.62" fill="#3a8fa0"/>
<circle cx="547.40" cy="107.14" r="1.62" fill="#3a8fa0"/>
<circle cx="544.90" cy="108.47" r="1.62" fill="#3a8fa0"/>
<circle cx="540.90" cy="108.62" r="1.62" fill="#3a8fa0"/>
<line x1="541.30" y1="91.50" x2="548.50" y2="91.50" stroke="#222" stroke-width="0.9"/>
<line x1="560.50" y1="79.40" x2="560.50" y2="106.00" stroke="#bdbdbd" stroke-width="0.9"/>
<line x1="558.80" y1="79.50" x2="562.00" y2="79.50" stroke="#bdbdbd" stroke-width="0.9"/>
<line x1="558.80" y1="106.50" x2="562.00" y2="106.50" stroke="#bdbdbd" stroke-width="0.9"/>
<circle cx="560.40" cy="79.46" r="1.62" fill="#555555"/>
<circle cx="557.90" cy="80.67" r="1.62" fill="#555555"/>
<circle cx="560.40" cy="86.87" r="1.62" fill="#555555"/>
<circle cx="560.40" cy="90.17" r="1.62" fill="#555555"/>
<circle cx="557.90" cy="92.54" r="1.62" fill="#555555"/>
<circle cx="560.40" cy="94.49" r="1.62" fill="#555555"/>
<circle cx="557.90" cy="96.01" r="1.62" fill="#555555"/>
<circle cx="562.90" cy="96.42" r="1.62" fill="#555555"/>
<circle cx="560.40" cy="99.20" r="1.62" fill="#555555"/>
<circle cx="556.40" cy="99.41" r="1.62" fill="#555555"/>
<circle cx="560.40" cy="108.34" r="1.62" fill="#555555"/>
<circle cx="557.90" cy="110.53" r="1.62" fill="#555555"/>
<circle cx="560.40" cy="112.05" r="1.62" fill="#555555"/>
<circle cx="557.90" cy="113.36" r="1.62" fill="#555555"/>
<line x1="556.80" y1="92.50" x2="564.00" y2="92.50" stroke="#222" stroke-width="0.9"/>
<line x1="568.50" y1="78.45" x2="568.50" y2="99.35" stroke="#e6c99a" stroke-width="0.9"/>
<line x1="566.50" y1="78.50" x2="569.70" y2="78.50" stroke="#e6c99a" stroke-width="0.9"/>
<line x1="566.50" y1="99.50" x2="569.70" y2="99.50" stroke="#e6c99a" stroke-width="0.9"/>
<circle cx="568.10" cy="75.71" r="1.62" fill="#c9974a"/>
<circle cx="565.60" cy="77.17" r="1.62" fill="#c9974a"/>
<circle cx="568.10" cy="80.25" r="1.62" fill="#c9974a"/>
<circle cx="565.60" cy="81.47" r="1.62" fill="#c9974a"/>
<circle cx="570.60" cy="81.81" r="1.62" fill="#c9974a"/>
<circle cx="568.10" cy="87.12" r="1.62" fill="#c9974a"/>
<circle cx="565.60" cy="88.79" r="1.62" fill="#c9974a"/>
<circle cx="570.60" cy="89.63" r="1.62" fill="#c9974a"/>
<circle cx="568.74" cy="89.85" r="1.62" fill="#c9974a"/>
<circle cx="564.10" cy="91.54" r="1.62" fill="#c9974a"/>
<circle cx="568.10" cy="94.59" r="1.62" fill="#c9974a"/>
<circle cx="568.10" cy="97.95" r="1.62" fill="#c9974a"/>
<circle cx="565.60" cy="100.54" r="1.62" fill="#c9974a"/>
<circle cx="568.10" cy="102.00" r="1.62" fill="#c9974a"/>
<circle cx="565.60" cy="103.52" r="1.62" fill="#c9974a"/>
<circle cx="568.10" cy="107.37" r="1.62" fill="#c9974a"/>
<line x1="564.50" y1="88.50" x2="571.70" y2="88.50" stroke="#222" stroke-width="0.9"/>
<line x1="575.50" y1="79.40" x2="575.50" y2="100.30" stroke="#9fd39f" stroke-width="0.9"/>
<line x1="574.10" y1="79.50" x2="577.30" y2="79.50" stroke="#9fd39f" stroke-width="0.9"/>
<line x1="574.10" y1="100.50" x2="577.30" y2="100.50" stroke="#9fd39f" stroke-width="0.9"/>
<circle cx="575.70" cy="77.98" r="1.62" fill="#1f8f1f"/>
<circle cx="575.70" cy="81.57" r="1.62" fill="#1f8f1f"/>
<circle cx="571.70" cy="82.09" r="1.62" fill="#1f8f1f"/>
<circle cx="575.70" cy="85.21" r="1.62" fill="#1f8f1f"/>
<circle cx="573.20" cy="87.20" r="1.62" fill="#1f8f1f"/>
<circle cx="575.70" cy="88.54" r="1.62" fill="#1f8f1f"/>
<circle cx="579.70" cy="89.40" r="1.62" fill="#1f8f1f"/>
<circle cx="573.20" cy="90.90" r="1.62" fill="#1f8f1f"/>
<circle cx="577.94" cy="91.03" r="1.62" fill="#1f8f1f"/>
<circle cx="576.09" cy="92.35" r="1.62" fill="#1f8f1f"/>
<circle cx="575.18" cy="92.77" r="1.62" fill="#1f8f1f"/>
<circle cx="575.70" cy="97.44" r="1.62" fill="#1f8f1f"/>
<circle cx="575.70" cy="101.16" r="1.62" fill="#1f8f1f"/>
<circle cx="575.70" cy="104.00" r="1.62" fill="#1f8f1f"/>
<circle cx="571.70" cy="104.11" r="1.62" fill="#1f8f1f"/>
<line x1="572.10" y1="89.50" x2="579.30" y2="89.50" stroke="#222" stroke-width="0.9"/>
<line x1="583.50" y1="79.40" x2="583.50" y2="104.10" stroke="#a9d3dc" stroke-width="0.9"/>
<line x1="581.80" y1="79.50" x2="585.00" y2="79.50" stroke="#a9d3dc" stroke-width="0.9"/>
<line x1="581.80" y1="104.50" x2="585.00" y2="104.50" stroke="#a9d3dc" stroke-width="0.9"/>
<circle cx="583.40" cy="80.91" r="1.62" fill="#3a8fa0"/>
<circle cx="583.40" cy="85.46" r="1.62" fill="#3a8fa0"/>
<circle cx="579.40" cy="86.38" r="1.62" fill="#3a8fa0"/>
<circle cx="587.40" cy="86.57" r="1.62" fill="#3a8fa0"/>
<circle cx="585.78" cy="86.72" r="1.62" fill="#3a8fa0"/>
<circle cx="583.40" cy="88.84" r="1.62" fill="#3a8fa0"/>
<circle cx="580.90" cy="90.49" r="1.62" fill="#3a8fa0"/>
<circle cx="583.40" cy="93.67" r="1.62" fill="#3a8fa0"/>
<circle cx="580.90" cy="94.98" r="1.62" fill="#3a8fa0"/>
<circle cx="583.40" cy="97.46" r="1.62" fill="#3a8fa0"/>
<circle cx="583.40" cy="101.29" r="1.62" fill="#3a8fa0"/>
<circle cx="583.40" cy="105.53" r="1.62" fill="#3a8fa0"/>
<circle cx="579.40" cy="106.18" r="1.62" fill="#3a8fa0"/>
<circle cx="587.40" cy="106.28" r="1.62" fill="#3a8fa0"/>
<circle cx="583.40" cy="111.29" r="1.62" fill="#3a8fa0"/>
<line x1="579.80" y1="91.50" x2="587.00" y2="91.50" stroke="#222" stroke-width="0.9"/>
<path d="M506.50 22.90 V19.50 H584.50 V22.90" fill="none" stroke="#8a8a8a" stroke-width="1.0"/>
<circle cx="544.00" cy="16.40" r="1.1" fill="#1a1a1a"/>
<circle cx="547.00" cy="16.40" r="1.1" fill="#1a1a1a"/>
<path d="M506.50 30.90 V27.50 H545.50 V30.90" fill="none" stroke="#8a8a8a" stroke-width="1.0"/>
<circle cx="524.90" cy="23.60" r="1.1" fill="#1a1a1a"/>
<circle cx="527.90" cy="23.60" r="1.1" fill="#1a1a1a"/>
<path d="M482.50 38.90 V35.50 H560.50 V38.90" fill="none" stroke="#8a8a8a" stroke-width="1.0"/>
<circle cx="520.10" cy="31.60" r="1.1" fill="#1a1a1a"/>
<circle cx="523.10" cy="31.60" r="1.1" fill="#1a1a1a"/>
<path d="M522.50 46.90 V43.50 H574.50 V46.90" fill="none" stroke="#8a8a8a" stroke-width="1.0"/>
<circle cx="546.90" cy="39.80" r="1.1" fill="#1a1a1a"/>
<circle cx="549.90" cy="39.80" r="1.1" fill="#1a1a1a"/>
<path d="M522.50 54.90 V51.50 H537.50 V54.90" fill="none" stroke="#8a8a8a" stroke-width="1.0"/>
<circle cx="528.70" cy="47.70" r="1.1" fill="#1a1a1a"/>
<circle cx="531.70" cy="47.70" r="1.1" fill="#1a1a1a"/>
<path d="M522.50 63.90 V60.50 H567.50 V63.90" fill="none" stroke="#8a8a8a" stroke-width="1.0"/>
<circle cx="543.80" cy="56.30" r="1.1" fill="#1a1a1a"/>
<circle cx="546.80" cy="56.30" r="1.1" fill="#1a1a1a"/>
<path d="M482.50 70.90 V67.50 H522.50 V70.90" fill="none" stroke="#8a8a8a" stroke-width="1.0"/>
<circle cx="500.80" cy="63.30" r="1.1" fill="#1a1a1a"/>
<circle cx="503.80" cy="63.30" r="1.1" fill="#1a1a1a"/>
<path d="M522.50 70.90 V67.50 H529.50 V70.90" fill="none" stroke="#8a8a8a" stroke-width="1.0"/>
<circle cx="524.50" cy="63.30" r="1.1" fill="#1a1a1a"/>
<circle cx="527.50" cy="63.30" r="1.1" fill="#1a1a1a"/>
<circle cx="599.70" cy="76.30" r="1.6" fill="#555555"/>
<text x="608.10" y="79.43" font-size="8.7" fill="#222" textLength="14.4" lengthAdjust="spacingAndGlyphs" stroke="#222" stroke-width="0.25">Veh</text>
<circle cx="599.70" cy="86.50" r="1.6" fill="#c9974a"/>
<text x="608.10" y="89.63" font-size="8.7" fill="#222" textLength="33.1" lengthAdjust="spacingAndGlyphs" stroke="#222" stroke-width="0.25">MSA-IL2</text>
<circle cx="599.70" cy="96.20" r="1.6" fill="#1f8f1f"/>
<text x="608.10" y="99.33" font-size="8.7" fill="#222" textLength="37.8" lengthAdjust="spacingAndGlyphs" stroke="#222" stroke-width="0.25">MSA-IL12</text>
<circle cx="599.70" cy="106.40" r="1.6" fill="#3a8fa0"/>
<text x="608.10" y="109.53" font-size="8.7" fill="#222" textLength="75.8" lengthAdjust="spacingAndGlyphs" stroke="#222" stroke-width="0.25">MSA-IL2+MSA-IL12</text>
<text x="7.30" y="171.00" font-size="13" fill="#000" font-weight="bold">c</text>
<line x1="8.60" y1="196.50" x2="12.80" y2="196.50" stroke="#6b6b6b" stroke-width="0.9"/>
<text x="15.00" y="199.20" font-size="7.4" textLength="26.3" lengthAdjust="spacingAndGlyphs" stroke="#1a1a1a" stroke-width="0.1">Veh WT</text>
<line x1="58.30" y1="196.50" x2="62.70" y2="196.50" stroke="#f0903a" stroke-width="0.9"/>
<text x="68.00" y="199.20" font-size="7.4" stroke="#1a1a1a" stroke-width="0.1">Veh <tspan font-style="italic">Tbx21</tspan><tspan font-size="4.6" dy="-2.8">-/-</tspan></text>
<line x1="127.20" y1="196.50" x2="131.30" y2="196.50" stroke="#7cc24a" stroke-width="0.9"/>
<text x="133.80" y="199.20" font-size="7.4" stroke="#1a1a1a" stroke-width="0.1">Veh <tspan font-style="italic">Zeb2</tspan><tspan font-size="4.6" dy="-2.8">-/-</tspan></text>
<line x1="8.60" y1="205.50" x2="12.80" y2="205.50" stroke="#5b9bd5" stroke-width="0.9"/>
<text x="13.90" y="208.40" font-size="7.4" textLength="42.3" lengthAdjust="spacingAndGlyphs" stroke="#1a1a1a" stroke-width="0.1">IL2-MSA WT</text>
<line x1="58.00" y1="205.50" x2="62.40" y2="205.50" stroke="#e8201c" stroke-width="0.9"/>
<text x="67.30" y="208.40" font-size="7.4" stroke="#1a1a1a" stroke-width="0.1">IL2-MSA <tspan font-style="italic">Tbx21</tspan><tspan font-size="4.6" dy="-2.8">-/-</tspan></text>
<line x1="127.20" y1="205.50" x2="131.30" y2="205.50" stroke="#7030a0" stroke-width="0.9"/>
<text x="133.80" y="208.40" font-size="7.4" stroke="#1a1a1a" stroke-width="0.1">IL2-MSA <tspan font-style="italic">Zeb2</tspan><tspan font-size="4.6" dy="-2.8">-/-</tspan></text>
<line x1="41.50" y1="214.70" x2="41.50" y2="292.50" stroke="#111" stroke-width="1.1"/>
<line x1="39.30" y1="292.50" x2="41.60" y2="292.50" stroke="#111" stroke-width="0.9"/>
<text x="38.40" y="294.80" font-size="7.3" text-anchor="end" fill="#222" transform="translate(0 294.80) scale(1 1.15) translate(0 -294.80)" stroke="#222" stroke-width="0.1">0%</text>
<line x1="39.30" y1="276.50" x2="41.60" y2="276.50" stroke="#111" stroke-width="0.9"/>
<text x="38.40" y="279.34" font-size="7.3" text-anchor="end" fill="#222" transform="translate(0 279.34) scale(1 1.15) translate(0 -279.34)" stroke="#222" stroke-width="0.1">20%</text>
<line x1="39.30" y1="261.50" x2="41.60" y2="261.50" stroke="#111" stroke-width="0.9"/>
<text x="38.40" y="263.88" font-size="7.3" text-anchor="end" fill="#222" transform="translate(0 263.88) scale(1 1.15) translate(0 -263.88)" stroke="#222" stroke-width="0.1">40%</text>
<line x1="39.30" y1="245.50" x2="41.60" y2="245.50" stroke="#111" stroke-width="0.9"/>
<text x="38.40" y="248.42" font-size="7.3" text-anchor="end" fill="#222" transform="translate(0 248.42) scale(1 1.15) translate(0 -248.42)" stroke="#222" stroke-width="0.1">60%</text>
<line x1="39.30" y1="230.50" x2="41.60" y2="230.50" stroke="#111" stroke-width="0.9"/>
<text x="38.40" y="232.96" font-size="7.3" text-anchor="end" fill="#222" transform="translate(0 232.96) scale(1 1.15) translate(0 -232.96)" stroke="#222" stroke-width="0.1">80%</text>
<line x1="39.30" y1="214.50" x2="41.60" y2="214.50" stroke="#111" stroke-width="0.9"/>
<text x="38.40" y="217.50" font-size="7.3" text-anchor="end" fill="#222" transform="translate(0 217.50) scale(1 1.15) translate(0 -217.50)" stroke="#222" stroke-width="0.1">100%</text>
<line x1="41.50" y1="292.00" x2="41.50" y2="294.30" stroke="#111" stroke-width="0.9"/>
<text x="41.60" y="302.60" font-size="7.3" text-anchor="middle" fill="#222" transform="translate(0 302.60) scale(1 1.15) translate(0 -302.60)" stroke="#222" stroke-width="0.1">0</text>
<line x1="63.50" y1="292.00" x2="63.50" y2="294.30" stroke="#111" stroke-width="0.9"/>
<text x="63.95" y="302.60" font-size="7.3" text-anchor="middle" fill="#222" transform="translate(0 302.60) scale(1 1.15) translate(0 -302.60)" stroke="#222" stroke-width="0.1">10</text>
<line x1="86.50" y1="292.00" x2="86.50" y2="294.30" stroke="#111" stroke-width="0.9"/>
<text x="86.30" y="302.60" font-size="7.3" text-anchor="middle" fill="#222" transform="translate(0 302.60) scale(1 1.15) translate(0 -302.60)" stroke="#222" stroke-width="0.1">20</text>
<line x1="108.50" y1="292.00" x2="108.50" y2="294.30" stroke="#111" stroke-width="0.9"/>
<text x="108.65" y="302.60" font-size="7.3" text-anchor="middle" fill="#222" transform="translate(0 302.60) scale(1 1.15) translate(0 -302.60)" stroke="#222" stroke-width="0.1">30</text>
<line x1="131.50" y1="292.00" x2="131.50" y2="294.30" stroke="#111" stroke-width="0.9"/>
<text x="131.00" y="302.60" font-size="7.3" text-anchor="middle" fill="#222" transform="translate(0 302.60) scale(1 1.15) translate(0 -302.60)" stroke="#222" stroke-width="0.1">40</text>
<line x1="153.50" y1="292.00" x2="153.50" y2="294.30" stroke="#111" stroke-width="0.9"/>
<text x="153.35" y="302.60" font-size="7.3" text-anchor="middle" fill="#222" transform="translate(0 302.60) scale(1 1.15) translate(0 -302.60)" stroke="#222" stroke-width="0.1">50</text>
<line x1="175.50" y1="292.00" x2="175.50" y2="294.30" stroke="#111" stroke-width="0.9"/>
<text x="175.70" y="302.60" font-size="7.3" text-anchor="middle" fill="#222" transform="translate(0 302.60) scale(1 1.15) translate(0 -302.60)" stroke="#222" stroke-width="0.1">60</text>
<text x="109.20" y="312.80" font-size="7.3" text-anchor="middle" fill="#222" stroke="#222" stroke-width="0.1">Days</text>
<text x="10.60" y="253.35" font-size="7.6" text-anchor="middle" fill="#222" transform="rotate(-90 10.60 253.35)" stroke="#222" stroke-width="0.1">Overall survival</text>
<line x1="41.10" y1="292.50" x2="175.70" y2="292.50" stroke="#111" stroke-width="1.1"/>
<path d="M41.6 214.7 H114.65 L114.65 214.59 L114.65 221.89 L119.21 221.89 L119.21 229.18 L123.77 229.18 L123.77 233.74 L127.78 233.74 L127.78 238.3 L131.07 238.3 L131.07 242.86 L133.8 242.86 L133.8 247.42 L136.54 247.42 L136.54 251.98 L140.19 251.98 L140.19 256.54 L144.75 256.54 L144.75 261.1 L148.4 261.1 L148.4 264.75 L157.51 264.75 L157.51 268.39 L166.63 268.39 L166.63 272.59 L175.75 272.59" fill="none" stroke="#5b9bd5" stroke-width="1.0"/>
<path d="M41.60 214.70 H80.04 V218.21 H82.95 V221.73 H87.42 V225.24 H88.98 V228.75 H91.89 V232.27 H94.12 V235.78 H99.26 V239.30 H100.83 V242.81 H103.06 V246.32 H107.53 V249.84 H109.77 V253.35 H112.00 V256.86 H114.24 V260.38 H118.71 V263.89 H122.06 V267.40 H126.08 V270.92 H129.88 V274.43 H134.13 V277.95 H136.59 V281.46 H139.94 V284.97 H142.17 V288.49 H143.29 V292.00 H175.70" fill="none" stroke="#6b6b6b" stroke-width="0.9"/>
<path d="M41.60 214.70 H80.94 V218.21 H81.83 V221.73 H84.06 V225.24 H86.30 V228.75 H89.65 V232.27 H91.89 V235.78 H95.24 V239.30 H97.47 V242.81 H99.71 V246.32 H103.06 V249.84 H105.30 V253.35 H107.53 V256.86 H110.88 V260.38 H113.12 V263.89 H116.47 V267.40 H119.82 V270.92 H124.29 V274.43 H126.53 V277.95 H131.00 V281.46 H135.47 V284.97 H139.94 V288.49 H143.29 V292.00 H175.70" fill="none" stroke="#f0903a" stroke-width="0.9"/>
<path d="M41.60 214.70 H79.59 V218.21 H81.38 V221.73 H83.62 V225.24 H85.85 V228.75 H88.53 V232.27 H92.11 V235.78 H95.24 V239.30 H97.25 V242.81 H99.71 V246.32 H103.06 V249.84 H105.30 V253.35 H107.53 V256.86 H110.88 V260.38 H113.12 V263.89 H115.35 V267.40 H119.82 V270.92 H123.18 V274.43 H126.53 V277.95 H132.12 V281.46 H135.47 V284.97 H139.94 V288.49 H142.17 V292.00 H175.70" fill="none" stroke="#7cc24a" stroke-width="0.9"/>
<path d="M41.60 214.70 H79.37 V218.21 H81.38 V221.73 H82.72 V225.24 H87.86 V228.75 H88.98 V232.27 H91.44 V235.78 H95.24 V239.30 H97.47 V242.81 H102.62 V246.32 H103.73 V249.84 H105.52 V253.35 H108.65 V256.86 H110.88 V260.38 H113.12 V263.89 H121.39 V267.40 H122.06 V270.92 H125.41 V274.43 H130.78 V277.95 H131.67 V281.46 H137.03 V284.97 H138.82 V288.49 H142.62 V292.00 H175.70" fill="none" stroke="#e8201c" stroke-width="0.9"/>
<path d="M41.60 214.70 H79.04 V218.21 H81.07 V221.73 H83.08 V225.24 H85.09 V228.75 H88.47 V232.27 H90.48 V235.78 H95.20 V239.30 H97.21 V242.81 H99.24 V246.32 H103.26 V249.84 H105.30 V253.35 H107.31 V256.86 H110.68 V260.38 H112.70 V263.89 H115.40 V267.40 H119.42 V270.92 H122.80 V274.43 H126.15 V277.95 H131.54 V281.46 H134.91 V284.97 H139.63 V288.49 H144.34 V292.00 H175.70" fill="none" stroke="#7030a0" stroke-width="1.2"/>
<circle cx="173.20" cy="276.20" r="1.3" fill="#1a1a1a"/>
<circle cx="176.50" cy="276.20" r="1.3" fill="#1a1a1a"/>
<line x1="226.60" y1="178.50" x2="231.00" y2="178.50" stroke="#6b6b6b" stroke-width="0.9"/>
<text x="232.00" y="180.70" font-size="7.4" textLength="27.4" lengthAdjust="spacingAndGlyphs" stroke="#1a1a1a" stroke-width="0.1">Veh WT</text>
<line x1="262.70" y1="178.50" x2="267.10" y2="178.50" stroke="#f0903a" stroke-width="0.9"/>
<text x="271.50" y="180.70" font-size="7.4" stroke="#1a1a1a" stroke-width="0.1">Veh <tspan font-style="italic">Tbx21</tspan><tspan font-size="4.6" dy="-2.8">-/-</tspan></text>
<line x1="313.00" y1="178.50" x2="318.50" y2="178.50" stroke="#7cc24a" stroke-width="0.9"/>
<text x="320.70" y="180.70" font-size="7.4" stroke="#1a1a1a" stroke-width="0.1">Veh <tspan font-style="italic">Zeb2</tspan><tspan font-size="4.6" dy="-2.8">-/-</tspan></text>
<line x1="226.60" y1="186.50" x2="231.00" y2="186.50" stroke="#5b9bd5" stroke-width="0.9"/>
<text x="232.00" y="189.20" font-size="7.4" textLength="82.2" lengthAdjust="spacingAndGlyphs" stroke="#1a1a1a" stroke-width="0.1">IL2-MSA+IL12-MSA WT</text>
<line x1="226.60" y1="195.50" x2="231.00" y2="195.50" stroke="#e8201c" stroke-width="0.9"/>
<text x="232.00" y="197.90" font-size="7.4" stroke="#1a1a1a" stroke-width="0.1">IL2-MSA+IL12-MSA<tspan font-style="italic">Tbx21</tspan><tspan font-size="4.6" dy="-2.8">-/-</tspan></text>
<line x1="226.60" y1="204.50" x2="231.00" y2="204.50" stroke="#7030a0" stroke-width="0.9"/>
<text x="232.00" y="206.60" font-size="7.4" stroke="#1a1a1a" stroke-width="0.1">IL2-MSA+IL12-MSA <tspan font-style="italic">Zeb2</tspan><tspan font-size="4.6" dy="-2.8">-/-</tspan></text>
<line x1="237.50" y1="216.10" x2="237.50" y2="293.10" stroke="#111" stroke-width="1.1"/>
<line x1="235.60" y1="292.50" x2="237.90" y2="292.50" stroke="#111" stroke-width="0.9"/>
<text x="232.90" y="295.40" font-size="7.3" text-anchor="end" fill="#222" transform="translate(0 295.40) scale(1 1.15) translate(0 -295.40)" stroke="#222" stroke-width="0.1">0%</text>
<line x1="235.60" y1="277.50" x2="237.90" y2="277.50" stroke="#111" stroke-width="0.9"/>
<text x="232.90" y="280.10" font-size="7.3" text-anchor="end" fill="#222" transform="translate(0 280.10) scale(1 1.15) translate(0 -280.10)" stroke="#222" stroke-width="0.1">20%</text>
<line x1="235.60" y1="262.50" x2="237.90" y2="262.50" stroke="#111" stroke-width="0.9"/>
<text x="232.90" y="264.80" font-size="7.3" text-anchor="end" fill="#222" transform="translate(0 264.80) scale(1 1.15) translate(0 -264.80)" stroke="#222" stroke-width="0.1">40%</text>
<line x1="235.60" y1="246.50" x2="237.90" y2="246.50" stroke="#111" stroke-width="0.9"/>
<text x="232.90" y="249.50" font-size="7.3" text-anchor="end" fill="#222" transform="translate(0 249.50) scale(1 1.15) translate(0 -249.50)" stroke="#222" stroke-width="0.1">60%</text>
<line x1="235.60" y1="231.50" x2="237.90" y2="231.50" stroke="#111" stroke-width="0.9"/>
<text x="232.90" y="234.20" font-size="7.3" text-anchor="end" fill="#222" transform="translate(0 234.20) scale(1 1.15) translate(0 -234.20)" stroke="#222" stroke-width="0.1">80%</text>
<line x1="235.60" y1="216.50" x2="237.90" y2="216.50" stroke="#111" stroke-width="0.9"/>
<text x="232.90" y="218.90" font-size="7.3" text-anchor="end" fill="#222" transform="translate(0 218.90) scale(1 1.15) translate(0 -218.90)" stroke="#222" stroke-width="0.1">100%</text>
<line x1="237.50" y1="292.60" x2="237.50" y2="294.90" stroke="#111" stroke-width="0.9"/>
<text x="237.90" y="303.20" font-size="7.3" text-anchor="middle" fill="#222" transform="translate(0 303.20) scale(1 1.15) translate(0 -303.20)" stroke="#222" stroke-width="0.1">0</text>
<line x1="261.50" y1="292.60" x2="261.50" y2="294.90" stroke="#111" stroke-width="0.9"/>
<text x="261.75" y="303.20" font-size="7.3" text-anchor="middle" fill="#222" transform="translate(0 303.20) scale(1 1.15) translate(0 -303.20)" stroke="#222" stroke-width="0.1">10</text>
<line x1="285.50" y1="292.60" x2="285.50" y2="294.90" stroke="#111" stroke-width="0.9"/>
<text x="285.60" y="303.20" font-size="7.3" text-anchor="middle" fill="#222" transform="translate(0 303.20) scale(1 1.15) translate(0 -303.20)" stroke="#222" stroke-width="0.1">20</text>
<line x1="309.50" y1="292.60" x2="309.50" y2="294.90" stroke="#111" stroke-width="0.9"/>
<text x="309.45" y="303.20" font-size="7.3" text-anchor="middle" fill="#222" transform="translate(0 303.20) scale(1 1.15) translate(0 -303.20)" stroke="#222" stroke-width="0.1">30</text>
<line x1="333.50" y1="292.60" x2="333.50" y2="294.90" stroke="#111" stroke-width="0.9"/>
<text x="333.30" y="303.20" font-size="7.3" text-anchor="middle" fill="#222" transform="translate(0 303.20) scale(1 1.15) translate(0 -303.20)" stroke="#222" stroke-width="0.1">40</text>
<line x1="357.50" y1="292.60" x2="357.50" y2="294.90" stroke="#111" stroke-width="0.9"/>
<text x="357.15" y="303.20" font-size="7.3" text-anchor="middle" fill="#222" transform="translate(0 303.20) scale(1 1.15) translate(0 -303.20)" stroke="#222" stroke-width="0.1">50</text>
<line x1="381.50" y1="292.60" x2="381.50" y2="294.90" stroke="#111" stroke-width="0.9"/>
<text x="381.00" y="303.20" font-size="7.3" text-anchor="middle" fill="#222" transform="translate(0 303.20) scale(1 1.15) translate(0 -303.20)" stroke="#222" stroke-width="0.1">60</text>
<text x="309.50" y="313.40" font-size="7.3" text-anchor="middle" fill="#222" stroke="#222" stroke-width="0.1">Days</text>
<text x="205.80" y="254.35" font-size="7.6" text-anchor="middle" fill="#222" transform="rotate(-90 205.80 254.35)" stroke="#222" stroke-width="0.1">Overall survival</text>
<line x1="237.40" y1="292.50" x2="381.00" y2="292.50" stroke="#111" stroke-width="1.1"/>
<path d="M237.9 216.1 L315.6 216.1 L315.6 219.4 L325.2 219.4 L325.2 223.3 L336.5 223.3 L336.5 227.4 L344.5 227.4 L344.5 231.3 L352.5 231.3 L352.5 235.5 L360.6 235.5 L360.6 238.7 L370.2 238.7 L370.2 242.5 L381.0 242.5" fill="none" stroke="#5b9bd5" stroke-width="1.0"/>
<path d="M237.90 216.10 H282.26 V219.58 H283.22 V223.05 H286.08 V226.53 H288.46 V230.01 H291.32 V233.49 H294.19 V236.96 H297.05 V240.44 H299.43 V243.92 H302.06 V247.40 H304.68 V250.87 H307.54 V254.35 H310.40 V257.83 H313.27 V261.30 H316.13 V264.78 H319.47 V268.26 H322.81 V271.74 H326.14 V275.21 H329.96 V278.69 H334.02 V282.17 H338.07 V285.65 H342.36 V289.12 H346.66 V292.60 H381.00" fill="none" stroke="#6b6b6b" stroke-width="0.9"/>
<path d="M237.90 216.10 H281.19 V219.58 H281.19 V223.05 H283.81 V226.53 H286.43 V230.01 H289.06 V233.49 H291.92 V236.96 H294.78 V240.44 H297.41 V243.92 H300.03 V247.40 H302.89 V250.87 H305.75 V254.35 H308.62 V257.83 H311.48 V261.30 H314.58 V264.78 H317.68 V268.26 H321.02 V271.74 H324.36 V275.21 H328.17 V278.69 H332.47 V282.17 H337.24 V285.65 H342.96 V289.12 H345.70 V292.60 H381.00" fill="none" stroke="#f0903a" stroke-width="0.9"/>
<path d="M237.90 216.10 H281.78 V219.58 H281.78 V223.05 H284.41 V226.53 H287.03 V230.01 H289.65 V233.49 H292.52 V236.96 H295.38 V240.44 H298.00 V243.92 H300.63 V247.40 H303.49 V250.87 H306.35 V254.35 H309.21 V257.83 H312.07 V261.30 H315.17 V264.78 H318.27 V268.26 H321.61 V271.74 H324.95 V275.21 H328.77 V278.69 H333.06 V282.17 H337.83 V285.65 H343.56 V289.12 H346.18 V292.60 H381.00" fill="none" stroke="#7cc24a" stroke-width="0.9"/>
<path d="M237.90 216.10 H278.44 V219.58 H278.44 V223.05 H282.14 V226.53 H284.77 V230.01 H287.39 V233.49 H290.25 V236.96 H293.11 V240.44 H295.74 V243.92 H298.36 V247.40 H301.22 V250.87 H304.08 V254.35 H306.95 V257.83 H309.81 V261.30 H312.91 V264.78 H316.01 V268.26 H319.35 V271.74 H322.69 V275.21 H326.50 V278.69 H330.80 V282.17 H335.57 V285.65 H341.29 V289.12 H345.94 V292.60 H381.00" fill="none" stroke="#e8201c" stroke-width="0.9"/>
<path d="M237.90 216.10 H280.11 V219.58 H280.11 V223.05 H282.74 V226.53 H285.36 V230.01 H287.99 V233.49 H290.85 V236.96 H293.71 V240.44 H296.33 V243.92 H298.96 V247.40 H301.82 V250.87 H304.68 V254.35 H307.54 V257.83 H310.40 V261.30 H313.50 V264.78 H316.61 V268.26 H319.94 V271.74 H323.28 V275.21 H327.10 V278.69 H331.39 V282.17 H336.16 V285.65 H341.89 V289.12 H348.09 V292.60 H381.00" fill="none" stroke="#7030a0" stroke-width="1.2"/>
<circle cx="379.80" cy="246.00" r="1.3" fill="#1a1a1a"/>
<circle cx="383.10" cy="246.00" r="1.3" fill="#1a1a1a"/>
<text x="417.40" y="170.20" font-size="13" fill="#000" font-weight="bold">d</text>
<line x1="471.50" y1="295.80" x2="471.50" y2="215.30" stroke="#222" stroke-width="1.1"/>
<line x1="468.60" y1="295.50" x2="471.80" y2="295.50" stroke="#222" stroke-width="1.1"/>
<text x="467.70" y="298.77" font-size="8.6" text-anchor="end" fill="#222" transform="translate(0 298.77) scale(1 1.12) translate(0 -298.77)" stroke="#222" stroke-width="0.25">0</text>
<line x1="468.60" y1="279.50" x2="471.80" y2="279.50" stroke="#222" stroke-width="1.1"/>
<text x="467.70" y="282.77" font-size="8.6" text-anchor="end" fill="#222" transform="translate(0 282.77) scale(1 1.12) translate(0 -282.77)" stroke="#222" stroke-width="0.25">20</text>
<line x1="468.60" y1="263.50" x2="471.80" y2="263.50" stroke="#222" stroke-width="1.1"/>
<text x="467.70" y="266.77" font-size="8.6" text-anchor="end" fill="#222" transform="translate(0 266.77) scale(1 1.12) translate(0 -266.77)" stroke="#222" stroke-width="0.25">40</text>
<line x1="468.60" y1="247.50" x2="471.80" y2="247.50" stroke="#222" stroke-width="1.1"/>
<text x="467.70" y="250.77" font-size="8.6" text-anchor="end" fill="#222" transform="translate(0 250.77) scale(1 1.12) translate(0 -250.77)" stroke="#222" stroke-width="0.25">60</text>
<line x1="468.60" y1="231.50" x2="471.80" y2="231.50" stroke="#222" stroke-width="1.1"/>
<text x="467.70" y="234.77" font-size="8.6" text-anchor="end" fill="#222" transform="translate(0 234.77) scale(1 1.12) translate(0 -234.77)" stroke="#222" stroke-width="0.25">80</text>
<line x1="468.60" y1="215.50" x2="471.80" y2="215.50" stroke="#222" stroke-width="1.1"/>
<text x="467.70" y="218.77" font-size="8.6" text-anchor="end" fill="#222" transform="translate(0 218.77) scale(1 1.12) translate(0 -218.77)" stroke="#222" stroke-width="0.25">100</text>
<line x1="471.80" y1="295.50" x2="590.90" y2="295.50" stroke="#222" stroke-width="1.0"/>
<line x1="490.50" y1="295.30" x2="490.50" y2="297.80" stroke="#222" stroke-width="1.0"/>
<line x1="529.50" y1="295.30" x2="529.50" y2="297.80" stroke="#222" stroke-width="1.0"/>
<line x1="569.50" y1="295.30" x2="569.50" y2="297.80" stroke="#222" stroke-width="1.0"/>
<text x="418.98" y="258.50" font-size="9.1" text-anchor="middle" fill="#222" transform="rotate(-90 418.98 258.50)" stroke="#222" stroke-width="0.25">Lung tumor GzmB<tspan font-size="5.6" dy="-3.4">+</tspan></text>
<text x="431.28" y="259.00" font-size="9.1" text-anchor="middle" fill="#222" transform="rotate(-90 431.28 259.00)" stroke="#222" stroke-width="0.25">(% of endogenous</text>
<text x="443.68" y="258.50" font-size="9.1" text-anchor="middle" fill="#222" transform="rotate(-90 443.68 258.50)" stroke="#222" stroke-width="0.25">SIY-reactive CD8<tspan font-size="5.6" dy="-3.4">+</tspan><tspan dy="3.4"> cells)</tspan></text>
<text x="490.40" y="307.50" font-size="9.0" text-anchor="middle" fill="#222" stroke="#222" stroke-width="0.25">WT</text>
<text x="530.60" y="307.50" font-size="9.0" text-anchor="middle" fill="#222" stroke="#222" stroke-width="0.25"><tspan font-style="italic">Tbx21</tspan><tspan font-size="5.76" dy="-3.60" letter-spacing="0.25">-/-</tspan></text>
<text x="570.60" y="307.50" font-size="9.0" text-anchor="middle" fill="#222" stroke="#222" stroke-width="0.25"><tspan font-style="italic">Zeb2</tspan><tspan font-size="5.76" dy="-3.60" letter-spacing="0.25">-/-</tspan></text>
<line x1="478.50" y1="279.30" x2="478.50" y2="288.90" stroke="#bdbdbd" stroke-width="0.9"/>
<line x1="476.80" y1="279.50" x2="480.00" y2="279.50" stroke="#bdbdbd" stroke-width="0.9"/>
<line x1="476.80" y1="288.50" x2="480.00" y2="288.50" stroke="#bdbdbd" stroke-width="0.9"/>
<circle cx="478.40" cy="275.30" r="1.62" fill="#555555"/>
<circle cx="476.30" cy="277.70" r="1.62" fill="#555555"/>
<circle cx="480.50" cy="279.30" r="1.62" fill="#555555"/>
<circle cx="478.40" cy="281.70" r="1.62" fill="#555555"/>
<circle cx="475.04" cy="283.30" r="1.62" fill="#555555"/>
<circle cx="480.50" cy="284.10" r="1.62" fill="#555555"/>
<circle cx="476.50" cy="284.90" r="1.62" fill="#555555"/>
<circle cx="479.91" cy="285.70" r="1.62" fill="#555555"/>
<circle cx="477.52" cy="286.50" r="1.62" fill="#555555"/>
<circle cx="476.91" cy="287.30" r="1.62" fill="#555555"/>
<circle cx="481.76" cy="288.10" r="1.62" fill="#555555"/>
<circle cx="478.40" cy="289.70" r="1.62" fill="#555555"/>
<circle cx="475.04" cy="291.30" r="1.62" fill="#555555"/>
<circle cx="478.40" cy="292.90" r="1.62" fill="#555555"/>
<line x1="474.80" y1="284.50" x2="482.00" y2="284.50" stroke="#222" stroke-width="0.9"/>
<line x1="486.50" y1="256.10" x2="486.50" y2="275.30" stroke="#e6c99a" stroke-width="0.9"/>
<line x1="484.50" y1="256.50" x2="487.70" y2="256.50" stroke="#e6c99a" stroke-width="0.9"/>
<line x1="484.50" y1="275.50" x2="487.70" y2="275.50" stroke="#e6c99a" stroke-width="0.9"/>
<circle cx="486.10" cy="247.30" r="1.62" fill="#c9974a"/>
<circle cx="482.74" cy="248.90" r="1.62" fill="#c9974a"/>
<circle cx="488.20" cy="249.70" r="1.62" fill="#c9974a"/>
<circle cx="484.49" cy="251.30" r="1.62" fill="#c9974a"/>
<circle cx="486.10" cy="266.50" r="1.62" fill="#c9974a"/>
<circle cx="482.74" cy="267.30" r="1.62" fill="#c9974a"/>
<circle cx="486.10" cy="269.70" r="1.62" fill="#c9974a"/>
<circle cx="482.74" cy="271.30" r="1.62" fill="#c9974a"/>
<circle cx="488.20" cy="272.10" r="1.62" fill="#c9974a"/>
<circle cx="485.30" cy="272.90" r="1.62" fill="#c9974a"/>
<circle cx="487.43" cy="273.70" r="1.62" fill="#c9974a"/>
<circle cx="482.74" cy="275.30" r="1.62" fill="#c9974a"/>
<circle cx="486.10" cy="281.70" r="1.62" fill="#c9974a"/>
<line x1="482.50" y1="265.50" x2="489.70" y2="265.50" stroke="#222" stroke-width="0.9"/>
<line x1="494.50" y1="268.10" x2="494.50" y2="287.30" stroke="#9fd39f" stroke-width="0.9"/>
<line x1="493.30" y1="268.50" x2="496.50" y2="268.50" stroke="#9fd39f" stroke-width="0.9"/>
<line x1="493.30" y1="287.50" x2="496.50" y2="287.50" stroke="#9fd39f" stroke-width="0.9"/>
<circle cx="494.90" cy="261.70" r="1.62" fill="#1f8f1f"/>
<circle cx="491.54" cy="263.30" r="1.62" fill="#1f8f1f"/>
<circle cx="494.90" cy="264.90" r="1.62" fill="#1f8f1f"/>
<circle cx="491.54" cy="266.50" r="1.62" fill="#1f8f1f"/>
<circle cx="494.90" cy="268.90" r="1.62" fill="#1f8f1f"/>
<circle cx="492.80" cy="271.30" r="1.62" fill="#1f8f1f"/>
<circle cx="494.90" cy="277.70" r="1.62" fill="#1f8f1f"/>
<circle cx="491.54" cy="279.30" r="1.62" fill="#1f8f1f"/>
<circle cx="494.90" cy="284.10" r="1.62" fill="#1f8f1f"/>
<circle cx="491.54" cy="285.70" r="1.62" fill="#1f8f1f"/>
<circle cx="494.90" cy="287.30" r="1.62" fill="#1f8f1f"/>
<circle cx="491.54" cy="288.90" r="1.62" fill="#1f8f1f"/>
<circle cx="494.90" cy="290.50" r="1.62" fill="#1f8f1f"/>
<circle cx="492.80" cy="292.90" r="1.62" fill="#1f8f1f"/>
<line x1="491.30" y1="277.50" x2="498.50" y2="277.50" stroke="#222" stroke-width="0.9"/>
<line x1="503.50" y1="223.30" x2="503.50" y2="239.30" stroke="#a9d3dc" stroke-width="0.9"/>
<line x1="501.40" y1="223.50" x2="504.60" y2="223.50" stroke="#a9d3dc" stroke-width="0.9"/>
<line x1="501.40" y1="239.50" x2="504.60" y2="239.50" stroke="#a9d3dc" stroke-width="0.9"/>
<circle cx="503.00" cy="220.90" r="1.62" fill="#3a8fa0"/>
<circle cx="499.64" cy="221.70" r="1.62" fill="#3a8fa0"/>
<circle cx="506.36" cy="222.50" r="1.62" fill="#3a8fa0"/>
<circle cx="501.66" cy="223.30" r="1.62" fill="#3a8fa0"/>
<circle cx="503.34" cy="224.90" r="1.62" fill="#3a8fa0"/>
<circle cx="503.00" cy="228.10" r="1.62" fill="#3a8fa0"/>
<circle cx="503.00" cy="231.30" r="1.62" fill="#3a8fa0"/>
<circle cx="503.00" cy="235.30" r="1.62" fill="#3a8fa0"/>
<circle cx="500.90" cy="237.70" r="1.62" fill="#3a8fa0"/>
<circle cx="503.00" cy="241.70" r="1.62" fill="#3a8fa0"/>
<circle cx="500.90" cy="244.10" r="1.62" fill="#3a8fa0"/>
<circle cx="503.00" cy="247.30" r="1.62" fill="#3a8fa0"/>
<circle cx="500.90" cy="249.70" r="1.62" fill="#3a8fa0"/>
<line x1="499.40" y1="231.50" x2="506.60" y2="231.50" stroke="#222" stroke-width="0.9"/>
<circle cx="519.30" cy="292.57" r="1.62" fill="#555555"/>
<circle cx="515.46" cy="293.04" r="1.62" fill="#555555"/>
<circle cx="523.14" cy="293.17" r="1.62" fill="#555555"/>
<circle cx="519.97" cy="293.34" r="1.62" fill="#555555"/>
<circle cx="518.69" cy="293.50" r="1.62" fill="#555555"/>
<circle cx="519.53" cy="293.80" r="1.62" fill="#555555"/>
<circle cx="517.20" cy="293.98" r="1.62" fill="#555555"/>
<circle cx="517.19" cy="294.33" r="1.62" fill="#555555"/>
<circle cx="517.89" cy="294.36" r="1.62" fill="#555555"/>
<circle cx="520.17" cy="294.41" r="1.62" fill="#555555"/>
<circle cx="518.95" cy="294.53" r="1.62" fill="#555555"/>
<circle cx="518.41" cy="294.63" r="1.62" fill="#555555"/>
<circle cx="526.30" cy="292.71" r="1.62" fill="#c9974a"/>
<circle cx="522.46" cy="292.79" r="1.62" fill="#c9974a"/>
<circle cx="530.14" cy="292.90" r="1.62" fill="#c9974a"/>
<circle cx="526.71" cy="292.96" r="1.62" fill="#c9974a"/>
<circle cx="526.08" cy="293.00" r="1.62" fill="#c9974a"/>
<circle cx="525.34" cy="293.38" r="1.62" fill="#c9974a"/>
<circle cx="527.71" cy="293.58" r="1.62" fill="#c9974a"/>
<circle cx="527.26" cy="293.69" r="1.62" fill="#c9974a"/>
<circle cx="525.07" cy="293.73" r="1.62" fill="#c9974a"/>
<circle cx="526.66" cy="293.97" r="1.62" fill="#c9974a"/>
<circle cx="526.42" cy="294.65" r="1.62" fill="#c9974a"/>
<circle cx="528.10" cy="294.82" r="1.62" fill="#c9974a"/>
<circle cx="533.30" cy="292.52" r="1.62" fill="#1f8f1f"/>
<circle cx="529.46" cy="292.73" r="1.62" fill="#1f8f1f"/>
<circle cx="537.14" cy="293.26" r="1.62" fill="#1f8f1f"/>
<circle cx="534.40" cy="293.26" r="1.62" fill="#1f8f1f"/>
<circle cx="532.28" cy="293.43" r="1.62" fill="#1f8f1f"/>
<circle cx="535.60" cy="293.62" r="1.62" fill="#1f8f1f"/>
<circle cx="531.47" cy="293.84" r="1.62" fill="#1f8f1f"/>
<circle cx="532.91" cy="294.06" r="1.62" fill="#1f8f1f"/>
<circle cx="534.53" cy="294.32" r="1.62" fill="#1f8f1f"/>
<circle cx="531.63" cy="294.60" r="1.62" fill="#1f8f1f"/>
<circle cx="533.25" cy="294.68" r="1.62" fill="#1f8f1f"/>
<circle cx="531.09" cy="294.79" r="1.62" fill="#1f8f1f"/>
<circle cx="540.30" cy="292.52" r="1.62" fill="#3a8fa0"/>
<circle cx="536.46" cy="292.71" r="1.62" fill="#3a8fa0"/>
<circle cx="544.14" cy="292.89" r="1.62" fill="#3a8fa0"/>
<circle cx="541.11" cy="293.19" r="1.62" fill="#3a8fa0"/>
<circle cx="541.57" cy="293.33" r="1.62" fill="#3a8fa0"/>
<circle cx="540.65" cy="293.42" r="1.62" fill="#3a8fa0"/>
<circle cx="542.10" cy="293.73" r="1.62" fill="#3a8fa0"/>
<circle cx="539.41" cy="294.03" r="1.62" fill="#3a8fa0"/>
<circle cx="541.24" cy="294.29" r="1.62" fill="#3a8fa0"/>
<circle cx="540.75" cy="294.40" r="1.62" fill="#3a8fa0"/>
<circle cx="540.68" cy="294.57" r="1.62" fill="#3a8fa0"/>
<circle cx="540.09" cy="294.68" r="1.62" fill="#3a8fa0"/>
<circle cx="558.60" cy="292.68" r="1.62" fill="#555555"/>
<circle cx="554.76" cy="293.02" r="1.62" fill="#555555"/>
<circle cx="562.44" cy="293.30" r="1.62" fill="#555555"/>
<circle cx="560.23" cy="293.31" r="1.62" fill="#555555"/>
<circle cx="560.73" cy="293.41" r="1.62" fill="#555555"/>
<circle cx="558.48" cy="293.52" r="1.62" fill="#555555"/>
<circle cx="559.39" cy="293.54" r="1.62" fill="#555555"/>
<circle cx="556.49" cy="293.70" r="1.62" fill="#555555"/>
<circle cx="559.57" cy="294.27" r="1.62" fill="#555555"/>
<circle cx="559.31" cy="294.48" r="1.62" fill="#555555"/>
<circle cx="560.97" cy="294.76" r="1.62" fill="#555555"/>
<circle cx="560.15" cy="294.76" r="1.62" fill="#555555"/>
<circle cx="565.60" cy="292.52" r="1.62" fill="#c9974a"/>
<circle cx="561.76" cy="292.81" r="1.62" fill="#c9974a"/>
<circle cx="569.44" cy="293.59" r="1.62" fill="#c9974a"/>
<circle cx="564.57" cy="293.95" r="1.62" fill="#c9974a"/>
<circle cx="565.05" cy="294.01" r="1.62" fill="#c9974a"/>
<circle cx="566.41" cy="294.11" r="1.62" fill="#c9974a"/>
<circle cx="563.31" cy="294.27" r="1.62" fill="#c9974a"/>
<circle cx="565.42" cy="294.35" r="1.62" fill="#c9974a"/>
<circle cx="564.01" cy="294.72" r="1.62" fill="#c9974a"/>
<circle cx="563.76" cy="294.73" r="1.62" fill="#c9974a"/>
<circle cx="563.48" cy="294.78" r="1.62" fill="#c9974a"/>
<circle cx="566.89" cy="294.86" r="1.62" fill="#c9974a"/>
<circle cx="572.60" cy="292.55" r="1.62" fill="#1f8f1f"/>
<circle cx="568.76" cy="292.74" r="1.62" fill="#1f8f1f"/>
<circle cx="576.44" cy="292.82" r="1.62" fill="#1f8f1f"/>
<circle cx="570.82" cy="293.06" r="1.62" fill="#1f8f1f"/>
<circle cx="571.39" cy="293.31" r="1.62" fill="#1f8f1f"/>
<circle cx="572.08" cy="293.42" r="1.62" fill="#1f8f1f"/>
<circle cx="574.38" cy="293.59" r="1.62" fill="#1f8f1f"/>
<circle cx="570.59" cy="293.89" r="1.62" fill="#1f8f1f"/>
<circle cx="572.36" cy="294.46" r="1.62" fill="#1f8f1f"/>
<circle cx="572.84" cy="294.47" r="1.62" fill="#1f8f1f"/>
<circle cx="574.44" cy="294.53" r="1.62" fill="#1f8f1f"/>
<circle cx="574.13" cy="294.76" r="1.62" fill="#1f8f1f"/>
<circle cx="579.60" cy="292.63" r="1.62" fill="#3a8fa0"/>
<circle cx="575.76" cy="292.96" r="1.62" fill="#3a8fa0"/>
<circle cx="583.44" cy="293.05" r="1.62" fill="#3a8fa0"/>
<circle cx="581.35" cy="293.11" r="1.62" fill="#3a8fa0"/>
<circle cx="578.54" cy="293.43" r="1.62" fill="#3a8fa0"/>
<circle cx="579.19" cy="293.74" r="1.62" fill="#3a8fa0"/>
<circle cx="578.92" cy="293.95" r="1.62" fill="#3a8fa0"/>
<circle cx="581.44" cy="294.28" r="1.62" fill="#3a8fa0"/>
<circle cx="581.80" cy="294.29" r="1.62" fill="#3a8fa0"/>
<circle cx="577.92" cy="294.35" r="1.62" fill="#3a8fa0"/>
<circle cx="578.05" cy="294.56" r="1.62" fill="#3a8fa0"/>
<circle cx="578.31" cy="294.56" r="1.62" fill="#3a8fa0"/>
<line x1="517.40" y1="231.50" x2="544.20" y2="231.50" stroke="#999" stroke-width="0.85"/>
<line x1="558.60" y1="231.50" x2="584.00" y2="231.50" stroke="#999" stroke-width="0.85"/>
<path d="M490.50 185.90 V182.50 H569.50 V185.90" fill="none" stroke="#8a8a8a" stroke-width="1.0"/>
<circle cx="527.75" cy="178.50" r="1.3" fill="#1a1a1a"/>
<circle cx="531.05" cy="178.50" r="1.3" fill="#1a1a1a"/>
<path d="M490.50 193.90 V190.50 H529.50 V193.90" fill="none" stroke="#8a8a8a" stroke-width="1.0"/>
<circle cx="508.55" cy="186.40" r="1.3" fill="#1a1a1a"/>
<circle cx="511.85" cy="186.40" r="1.3" fill="#1a1a1a"/>
<line x1="477.20" y1="197.50" x2="505.80" y2="197.50" stroke="#888" stroke-width="0.85"/>
<path d="M477.50 209.90 V206.50 H517.50 V209.90" fill="none" stroke="#8a8a8a" stroke-width="1.0"/>
<circle cx="495.95" cy="202.10" r="1.3" fill="#1a1a1a"/>
<circle cx="499.25" cy="202.10" r="1.3" fill="#1a1a1a"/>
<path d="M477.50 216.90 V213.50 H502.50 V216.90" fill="none" stroke="#8a8a8a" stroke-width="1.0"/>
<circle cx="488.75" cy="209.50" r="1.3" fill="#1a1a1a"/>
<circle cx="492.05" cy="209.50" r="1.3" fill="#1a1a1a"/>
<path d="M477.50 233.90 V230.50 H493.50 V233.90" fill="none" stroke="#8a8a8a" stroke-width="1.0"/>
<circle cx="484.25" cy="226.10" r="1.3" fill="#1a1a1a"/>
<circle cx="487.55" cy="226.10" r="1.3" fill="#1a1a1a"/>
<path d="M477.50 243.90 V240.50 H485.50 V243.90" fill="none" stroke="#8a8a8a" stroke-width="1.0"/>
<circle cx="481.05" cy="236.10" r="1.3" fill="#1a1a1a"/>
<circle cx="484.35" cy="236.10" r="1.3" fill="#1a1a1a"/>
<circle cx="593.00" cy="230.50" r="1.6" fill="#555555"/>
<text x="602.20" y="233.67" font-size="8.8" fill="#222" textLength="15.0" lengthAdjust="spacingAndGlyphs" stroke="#222" stroke-width="0.25">Veh</text>
<circle cx="593.00" cy="241.20" r="1.6" fill="#c9974a"/>
<text x="602.20" y="244.37" font-size="8.8" fill="#222" textLength="34.7" lengthAdjust="spacingAndGlyphs" stroke="#222" stroke-width="0.25">MSA-IL2</text>
<circle cx="593.00" cy="251.40" r="1.6" fill="#1f8f1f"/>
<text x="602.20" y="254.57" font-size="8.8" fill="#222" textLength="39.6" lengthAdjust="spacingAndGlyphs" stroke="#222" stroke-width="0.25">MSA-IL12</text>
<circle cx="593.00" cy="262.30" r="1.6" fill="#3a8fa0"/>
<text x="602.20" y="265.47" font-size="8.8" fill="#222" textLength="79.4" lengthAdjust="spacingAndGlyphs" stroke="#222" stroke-width="0.25">MSA-IL2+MSA-IL12</text>
<text x="55.80" y="341.00" font-size="13" fill="#000" font-weight="bold">e</text>
<line x1="112.50" y1="441.40" x2="112.50" y2="359.30" stroke="#222" stroke-width="1.1"/>
<line x1="109.10" y1="440.50" x2="112.30" y2="440.50" stroke="#222" stroke-width="1.1"/>
<text x="108.20" y="444.37" font-size="8.6" text-anchor="end" fill="#222" transform="translate(0 444.37) scale(1 1.12) translate(0 -444.37)" stroke="#222" stroke-width="0.25">0</text>
<line x1="109.10" y1="420.50" x2="112.30" y2="420.50" stroke="#222" stroke-width="1.1"/>
<text x="108.20" y="423.97" font-size="8.6" text-anchor="end" fill="#222" transform="translate(0 423.97) scale(1 1.12) translate(0 -423.97)" stroke="#222" stroke-width="0.25">20</text>
<line x1="109.10" y1="400.50" x2="112.30" y2="400.50" stroke="#222" stroke-width="1.1"/>
<text x="108.20" y="403.57" font-size="8.6" text-anchor="end" fill="#222" transform="translate(0 403.57) scale(1 1.12) translate(0 -403.57)" stroke="#222" stroke-width="0.25">40</text>
<line x1="109.10" y1="379.50" x2="112.30" y2="379.50" stroke="#222" stroke-width="1.1"/>
<text x="108.20" y="383.17" font-size="8.6" text-anchor="end" fill="#222" transform="translate(0 383.17) scale(1 1.12) translate(0 -383.17)" stroke="#222" stroke-width="0.25">60</text>
<line x1="109.10" y1="359.50" x2="112.30" y2="359.50" stroke="#222" stroke-width="1.1"/>
<text x="108.20" y="362.77" font-size="8.6" text-anchor="end" fill="#222" transform="translate(0 362.77) scale(1 1.12) translate(0 -362.77)" stroke="#222" stroke-width="0.25">80</text>
<line x1="112.30" y1="440.50" x2="234.20" y2="440.50" stroke="#222" stroke-width="1.0"/>
<line x1="132.50" y1="440.90" x2="132.50" y2="443.40" stroke="#222" stroke-width="1.0"/>
<line x1="171.50" y1="440.90" x2="171.50" y2="443.40" stroke="#222" stroke-width="1.0"/>
<line x1="212.50" y1="440.90" x2="212.50" y2="443.40" stroke="#222" stroke-width="1.0"/>
<text x="62.48" y="401.80" font-size="9.1" text-anchor="middle" fill="#222" transform="rotate(-90 62.48 401.80)" stroke="#222" stroke-width="0.25">Lung tumor TNF-α<tspan font-size="5.6" dy="-3.4">+</tspan></text>
<text x="72.98" y="401.80" font-size="9.1" text-anchor="middle" fill="#222" transform="rotate(-90 72.98 401.80)" stroke="#222" stroke-width="0.25">(% of endogenous</text>
<text x="84.78" y="401.80" font-size="9.1" text-anchor="middle" fill="#222" transform="rotate(-90 84.78 401.80)" stroke="#222" stroke-width="0.25">SIY-reactive CD8<tspan font-size="5.6" dy="-3.4">+</tspan><tspan dy="3.4"> cells)</tspan></text>
<text x="132.20" y="452.20" font-size="9.0" text-anchor="middle" fill="#222" stroke="#222" stroke-width="0.25">WT</text>
<text x="172.40" y="452.20" font-size="9.0" text-anchor="middle" fill="#222" stroke="#222" stroke-width="0.25"><tspan font-style="italic">Tbx21</tspan><tspan font-size="5.76" dy="-3.60" letter-spacing="0.25">-/-</tspan></text>
<text x="212.80" y="452.20" font-size="9.0" text-anchor="middle" fill="#222" stroke="#222" stroke-width="0.25"><tspan font-style="italic">Zeb2</tspan><tspan font-size="5.76" dy="-3.60" letter-spacing="0.25">-/-</tspan></text>
<line x1="119.50" y1="423.56" x2="119.50" y2="431.72" stroke="#bdbdbd" stroke-width="0.9"/>
<line x1="118.30" y1="423.50" x2="121.50" y2="423.50" stroke="#bdbdbd" stroke-width="0.9"/>
<line x1="118.30" y1="431.50" x2="121.50" y2="431.50" stroke="#bdbdbd" stroke-width="0.9"/>
<circle cx="119.90" cy="424.21" r="1.62" fill="#555555"/>
<circle cx="115.90" cy="424.47" r="1.62" fill="#555555"/>
<circle cx="123.90" cy="425.34" r="1.62" fill="#555555"/>
<circle cx="118.57" cy="425.67" r="1.62" fill="#555555"/>
<circle cx="115.90" cy="427.60" r="1.62" fill="#555555"/>
<circle cx="119.90" cy="428.95" r="1.62" fill="#555555"/>
<circle cx="123.90" cy="429.79" r="1.62" fill="#555555"/>
<circle cx="119.90" cy="432.25" r="1.62" fill="#555555"/>
<circle cx="117.40" cy="433.54" r="1.62" fill="#555555"/>
<circle cx="122.40" cy="433.68" r="1.62" fill="#555555"/>
<circle cx="119.82" cy="433.71" r="1.62" fill="#555555"/>
<circle cx="120.35" cy="434.08" r="1.62" fill="#555555"/>
<circle cx="118.71" cy="434.08" r="1.62" fill="#555555"/>
<circle cx="117.42" cy="435.61" r="1.62" fill="#555555"/>
<line x1="116.30" y1="427.50" x2="123.50" y2="427.50" stroke="#222" stroke-width="0.9"/>
<line x1="128.50" y1="412.34" x2="128.50" y2="418.46" stroke="#e6c99a" stroke-width="0.9"/>
<line x1="126.50" y1="412.50" x2="129.70" y2="412.50" stroke="#e6c99a" stroke-width="0.9"/>
<line x1="126.50" y1="418.50" x2="129.70" y2="418.50" stroke="#e6c99a" stroke-width="0.9"/>
<circle cx="128.10" cy="409.90" r="1.62" fill="#c9974a"/>
<circle cx="124.10" cy="410.40" r="1.62" fill="#c9974a"/>
<circle cx="132.10" cy="410.61" r="1.62" fill="#c9974a"/>
<circle cx="127.69" cy="411.04" r="1.62" fill="#c9974a"/>
<circle cx="127.45" cy="412.42" r="1.62" fill="#c9974a"/>
<circle cx="125.60" cy="414.63" r="1.62" fill="#c9974a"/>
<circle cx="130.60" cy="414.79" r="1.62" fill="#c9974a"/>
<circle cx="128.43" cy="414.93" r="1.62" fill="#c9974a"/>
<circle cx="130.37" cy="416.34" r="1.62" fill="#c9974a"/>
<circle cx="124.10" cy="417.10" r="1.62" fill="#c9974a"/>
<circle cx="128.10" cy="418.10" r="1.62" fill="#c9974a"/>
<circle cx="130.60" cy="419.38" r="1.62" fill="#c9974a"/>
<circle cx="125.60" cy="419.63" r="1.62" fill="#c9974a"/>
<circle cx="129.05" cy="420.49" r="1.62" fill="#c9974a"/>
<line x1="124.50" y1="415.50" x2="131.70" y2="415.50" stroke="#222" stroke-width="0.9"/>
<line x1="136.50" y1="415.40" x2="136.50" y2="431.72" stroke="#9fd39f" stroke-width="0.9"/>
<line x1="134.70" y1="415.50" x2="137.90" y2="415.50" stroke="#9fd39f" stroke-width="0.9"/>
<line x1="134.70" y1="431.50" x2="137.90" y2="431.50" stroke="#9fd39f" stroke-width="0.9"/>
<circle cx="136.30" cy="414.12" r="1.62" fill="#1f8f1f"/>
<circle cx="133.80" cy="415.41" r="1.62" fill="#1f8f1f"/>
<circle cx="138.80" cy="415.81" r="1.62" fill="#1f8f1f"/>
<circle cx="136.30" cy="417.47" r="1.62" fill="#1f8f1f"/>
<circle cx="136.30" cy="421.17" r="1.62" fill="#1f8f1f"/>
<circle cx="132.30" cy="421.18" r="1.62" fill="#1f8f1f"/>
<circle cx="140.30" cy="421.61" r="1.62" fill="#1f8f1f"/>
<circle cx="136.38" cy="421.95" r="1.62" fill="#1f8f1f"/>
<circle cx="136.89" cy="423.00" r="1.62" fill="#1f8f1f"/>
<circle cx="133.80" cy="424.50" r="1.62" fill="#1f8f1f"/>
<circle cx="136.30" cy="429.58" r="1.62" fill="#1f8f1f"/>
<circle cx="133.80" cy="431.61" r="1.62" fill="#1f8f1f"/>
<line x1="132.70" y1="423.50" x2="139.90" y2="423.50" stroke="#222" stroke-width="0.9"/>
<line x1="144.50" y1="385.82" x2="144.50" y2="396.02" stroke="#a9d3dc" stroke-width="0.9"/>
<line x1="142.90" y1="385.50" x2="146.10" y2="385.50" stroke="#a9d3dc" stroke-width="0.9"/>
<line x1="142.90" y1="396.50" x2="146.10" y2="396.50" stroke="#a9d3dc" stroke-width="0.9"/>
<circle cx="144.50" cy="378.81" r="1.62" fill="#3a8fa0"/>
<circle cx="140.50" cy="379.93" r="1.62" fill="#3a8fa0"/>
<circle cx="147.00" cy="380.30" r="1.62" fill="#3a8fa0"/>
<circle cx="145.38" cy="381.18" r="1.62" fill="#3a8fa0"/>
<circle cx="144.50" cy="386.96" r="1.62" fill="#3a8fa0"/>
<circle cx="142.00" cy="388.23" r="1.62" fill="#3a8fa0"/>
<circle cx="147.00" cy="388.62" r="1.62" fill="#3a8fa0"/>
<circle cx="144.50" cy="390.58" r="1.62" fill="#3a8fa0"/>
<circle cx="142.00" cy="391.92" r="1.62" fill="#3a8fa0"/>
<circle cx="147.00" cy="393.23" r="1.62" fill="#3a8fa0"/>
<circle cx="142.27" cy="393.95" r="1.62" fill="#3a8fa0"/>
<circle cx="144.50" cy="396.63" r="1.62" fill="#3a8fa0"/>
<circle cx="142.00" cy="397.98" r="1.62" fill="#3a8fa0"/>
<line x1="140.90" y1="390.50" x2="148.10" y2="390.50" stroke="#222" stroke-width="0.9"/>
<line x1="159.50" y1="426.62" x2="159.50" y2="434.78" stroke="#bdbdbd" stroke-width="0.9"/>
<line x1="158.20" y1="426.50" x2="161.40" y2="426.50" stroke="#bdbdbd" stroke-width="0.9"/>
<line x1="158.20" y1="434.50" x2="161.40" y2="434.50" stroke="#bdbdbd" stroke-width="0.9"/>
<circle cx="159.80" cy="424.05" r="1.62" fill="#555555"/>
<circle cx="155.80" cy="424.57" r="1.62" fill="#555555"/>
<circle cx="162.30" cy="425.49" r="1.62" fill="#555555"/>
<circle cx="159.80" cy="427.06" r="1.62" fill="#555555"/>
<circle cx="161.80" cy="427.12" r="1.62" fill="#555555"/>
<circle cx="161.20" cy="427.17" r="1.62" fill="#555555"/>
<circle cx="161.67" cy="427.17" r="1.62" fill="#555555"/>
<circle cx="155.80" cy="427.60" r="1.62" fill="#555555"/>
<circle cx="163.80" cy="429.48" r="1.62" fill="#555555"/>
<circle cx="161.29" cy="429.75" r="1.62" fill="#555555"/>
<circle cx="157.30" cy="430.00" r="1.62" fill="#555555"/>
<circle cx="159.80" cy="432.60" r="1.62" fill="#555555"/>
<circle cx="155.80" cy="433.76" r="1.62" fill="#555555"/>
<circle cx="162.30" cy="433.93" r="1.62" fill="#555555"/>
<line x1="156.20" y1="430.50" x2="163.40" y2="430.50" stroke="#222" stroke-width="0.9"/>
<line x1="168.50" y1="427.64" x2="168.50" y2="435.80" stroke="#e6c99a" stroke-width="0.9"/>
<line x1="166.60" y1="427.50" x2="169.80" y2="427.50" stroke="#e6c99a" stroke-width="0.9"/>
<line x1="166.60" y1="435.50" x2="169.80" y2="435.50" stroke="#e6c99a" stroke-width="0.9"/>
<circle cx="168.20" cy="424.80" r="1.62" fill="#c9974a"/>
<circle cx="164.20" cy="425.12" r="1.62" fill="#c9974a"/>
<circle cx="172.20" cy="425.66" r="1.62" fill="#c9974a"/>
<circle cx="167.66" cy="426.24" r="1.62" fill="#c9974a"/>
<circle cx="167.69" cy="427.37" r="1.62" fill="#c9974a"/>
<circle cx="170.70" cy="428.15" r="1.62" fill="#c9974a"/>
<circle cx="165.70" cy="429.53" r="1.62" fill="#c9974a"/>
<circle cx="166.22" cy="430.20" r="1.62" fill="#c9974a"/>
<circle cx="168.87" cy="430.41" r="1.62" fill="#c9974a"/>
<circle cx="172.20" cy="430.64" r="1.62" fill="#c9974a"/>
<circle cx="164.20" cy="432.11" r="1.62" fill="#c9974a"/>
<circle cx="168.20" cy="433.48" r="1.62" fill="#c9974a"/>
<circle cx="172.20" cy="434.56" r="1.62" fill="#c9974a"/>
<circle cx="168.20" cy="437.83" r="1.62" fill="#c9974a"/>
<line x1="164.60" y1="431.50" x2="171.80" y2="431.50" stroke="#222" stroke-width="0.9"/>
<line x1="176.50" y1="425.60" x2="176.50" y2="433.76" stroke="#9fd39f" stroke-width="0.9"/>
<line x1="175.00" y1="425.50" x2="178.20" y2="425.50" stroke="#9fd39f" stroke-width="0.9"/>
<line x1="175.00" y1="433.50" x2="178.20" y2="433.50" stroke="#9fd39f" stroke-width="0.9"/>
<circle cx="176.60" cy="425.66" r="1.62" fill="#1f8f1f"/>
<circle cx="172.60" cy="425.75" r="1.62" fill="#1f8f1f"/>
<circle cx="179.10" cy="427.76" r="1.62" fill="#1f8f1f"/>
<circle cx="174.41" cy="427.78" r="1.62" fill="#1f8f1f"/>
<circle cx="174.44" cy="428.45" r="1.62" fill="#1f8f1f"/>
<circle cx="175.14" cy="428.63" r="1.62" fill="#1f8f1f"/>
<circle cx="174.91" cy="428.86" r="1.62" fill="#1f8f1f"/>
<circle cx="175.80" cy="429.82" r="1.62" fill="#1f8f1f"/>
<circle cx="174.36" cy="429.99" r="1.62" fill="#1f8f1f"/>
<circle cx="179.10" cy="431.80" r="1.62" fill="#1f8f1f"/>
<circle cx="174.10" cy="431.92" r="1.62" fill="#1f8f1f"/>
<circle cx="174.86" cy="433.08" r="1.62" fill="#1f8f1f"/>
<circle cx="176.60" cy="435.39" r="1.62" fill="#1f8f1f"/>
<circle cx="172.60" cy="435.61" r="1.62" fill="#1f8f1f"/>
<line x1="173.00" y1="429.50" x2="180.20" y2="429.50" stroke="#222" stroke-width="0.9"/>
<line x1="185.50" y1="427.64" x2="185.50" y2="433.76" stroke="#a9d3dc" stroke-width="0.9"/>
<line x1="183.40" y1="427.50" x2="186.60" y2="427.50" stroke="#a9d3dc" stroke-width="0.9"/>
<line x1="183.40" y1="433.50" x2="186.60" y2="433.50" stroke="#a9d3dc" stroke-width="0.9"/>
<circle cx="185.00" cy="427.65" r="1.62" fill="#3a8fa0"/>
<circle cx="181.00" cy="427.67" r="1.62" fill="#3a8fa0"/>
<circle cx="189.00" cy="427.97" r="1.62" fill="#3a8fa0"/>
<circle cx="183.01" cy="428.63" r="1.62" fill="#3a8fa0"/>
<circle cx="184.32" cy="428.98" r="1.62" fill="#3a8fa0"/>
<circle cx="187.50" cy="430.49" r="1.62" fill="#3a8fa0"/>
<circle cx="181.00" cy="430.99" r="1.62" fill="#3a8fa0"/>
<circle cx="182.63" cy="431.59" r="1.62" fill="#3a8fa0"/>
<circle cx="186.87" cy="431.93" r="1.62" fill="#3a8fa0"/>
<circle cx="185.57" cy="432.10" r="1.62" fill="#3a8fa0"/>
<circle cx="183.24" cy="432.80" r="1.62" fill="#3a8fa0"/>
<circle cx="189.00" cy="433.89" r="1.62" fill="#3a8fa0"/>
<circle cx="185.00" cy="435.06" r="1.62" fill="#3a8fa0"/>
<line x1="181.40" y1="430.50" x2="188.60" y2="430.50" stroke="#222" stroke-width="0.9"/>
<line x1="201.50" y1="427.64" x2="201.50" y2="433.76" stroke="#bdbdbd" stroke-width="0.9"/>
<line x1="199.60" y1="427.50" x2="202.80" y2="427.50" stroke="#bdbdbd" stroke-width="0.9"/>
<line x1="199.60" y1="433.50" x2="202.80" y2="433.50" stroke="#bdbdbd" stroke-width="0.9"/>
<circle cx="201.20" cy="425.90" r="1.62" fill="#555555"/>
<circle cx="197.20" cy="426.66" r="1.62" fill="#555555"/>
<circle cx="203.70" cy="428.55" r="1.62" fill="#555555"/>
<circle cx="198.70" cy="429.49" r="1.62" fill="#555555"/>
<circle cx="201.20" cy="431.36" r="1.62" fill="#555555"/>
<circle cx="205.20" cy="431.48" r="1.62" fill="#555555"/>
<circle cx="197.20" cy="431.80" r="1.62" fill="#555555"/>
<circle cx="199.96" cy="432.50" r="1.62" fill="#555555"/>
<circle cx="200.44" cy="432.94" r="1.62" fill="#555555"/>
<circle cx="200.52" cy="433.45" r="1.62" fill="#555555"/>
<circle cx="199.31" cy="433.61" r="1.62" fill="#555555"/>
<circle cx="203.70" cy="433.80" r="1.62" fill="#555555"/>
<circle cx="202.94" cy="434.97" r="1.62" fill="#555555"/>
<circle cx="197.20" cy="435.70" r="1.62" fill="#555555"/>
<line x1="197.60" y1="430.50" x2="204.80" y2="430.50" stroke="#222" stroke-width="0.9"/>
<line x1="209.50" y1="426.62" x2="209.50" y2="434.78" stroke="#e6c99a" stroke-width="0.9"/>
<line x1="207.80" y1="426.50" x2="211.00" y2="426.50" stroke="#e6c99a" stroke-width="0.9"/>
<line x1="207.80" y1="434.50" x2="211.00" y2="434.50" stroke="#e6c99a" stroke-width="0.9"/>
<circle cx="209.40" cy="425.05" r="1.62" fill="#c9974a"/>
<circle cx="205.40" cy="425.85" r="1.62" fill="#c9974a"/>
<circle cx="213.40" cy="426.05" r="1.62" fill="#c9974a"/>
<circle cx="211.87" cy="426.07" r="1.62" fill="#c9974a"/>
<circle cx="209.40" cy="428.69" r="1.62" fill="#c9974a"/>
<circle cx="205.40" cy="428.97" r="1.62" fill="#c9974a"/>
<circle cx="213.40" cy="429.24" r="1.62" fill="#c9974a"/>
<circle cx="209.23" cy="431.21" r="1.62" fill="#c9974a"/>
<circle cx="209.32" cy="431.43" r="1.62" fill="#c9974a"/>
<circle cx="211.90" cy="432.56" r="1.62" fill="#c9974a"/>
<circle cx="206.90" cy="433.36" r="1.62" fill="#c9974a"/>
<circle cx="209.40" cy="435.23" r="1.62" fill="#c9974a"/>
<circle cx="213.40" cy="435.25" r="1.62" fill="#c9974a"/>
<circle cx="206.90" cy="436.43" r="1.62" fill="#c9974a"/>
<circle cx="207.33" cy="436.47" r="1.62" fill="#c9974a"/>
<line x1="205.80" y1="430.50" x2="213.00" y2="430.50" stroke="#222" stroke-width="0.9"/>
<line x1="217.50" y1="428.66" x2="217.50" y2="434.78" stroke="#9fd39f" stroke-width="0.9"/>
<line x1="216.00" y1="428.50" x2="219.20" y2="428.50" stroke="#9fd39f" stroke-width="0.9"/>
<line x1="216.00" y1="434.50" x2="219.20" y2="434.50" stroke="#9fd39f" stroke-width="0.9"/>
<circle cx="217.60" cy="426.57" r="1.62" fill="#1f8f1f"/>
<circle cx="213.60" cy="427.40" r="1.62" fill="#1f8f1f"/>
<circle cx="220.10" cy="428.05" r="1.62" fill="#1f8f1f"/>
<circle cx="215.61" cy="428.61" r="1.62" fill="#1f8f1f"/>
<circle cx="216.81" cy="429.08" r="1.62" fill="#1f8f1f"/>
<circle cx="216.42" cy="429.40" r="1.62" fill="#1f8f1f"/>
<circle cx="219.24" cy="430.34" r="1.62" fill="#1f8f1f"/>
<circle cx="215.91" cy="430.35" r="1.62" fill="#1f8f1f"/>
<circle cx="215.22" cy="430.61" r="1.62" fill="#1f8f1f"/>
<circle cx="221.60" cy="431.89" r="1.62" fill="#1f8f1f"/>
<circle cx="219.85" cy="432.52" r="1.62" fill="#1f8f1f"/>
<circle cx="217.74" cy="432.54" r="1.62" fill="#1f8f1f"/>
<circle cx="215.10" cy="434.23" r="1.62" fill="#1f8f1f"/>
<circle cx="221.60" cy="434.96" r="1.62" fill="#1f8f1f"/>
<line x1="214.00" y1="431.50" x2="221.20" y2="431.50" stroke="#222" stroke-width="0.9"/>
<line x1="225.50" y1="427.64" x2="225.50" y2="433.76" stroke="#a9d3dc" stroke-width="0.9"/>
<line x1="224.20" y1="427.50" x2="227.40" y2="427.50" stroke="#a9d3dc" stroke-width="0.9"/>
<line x1="224.20" y1="433.50" x2="227.40" y2="433.50" stroke="#a9d3dc" stroke-width="0.9"/>
<circle cx="225.80" cy="425.90" r="1.62" fill="#3a8fa0"/>
<circle cx="223.30" cy="427.81" r="1.62" fill="#3a8fa0"/>
<circle cx="228.30" cy="428.54" r="1.62" fill="#3a8fa0"/>
<circle cx="224.03" cy="428.99" r="1.62" fill="#3a8fa0"/>
<circle cx="221.80" cy="430.63" r="1.62" fill="#3a8fa0"/>
<circle cx="225.80" cy="431.66" r="1.62" fill="#3a8fa0"/>
<circle cx="223.30" cy="433.45" r="1.62" fill="#3a8fa0"/>
<circle cx="228.30" cy="434.09" r="1.62" fill="#3a8fa0"/>
<circle cx="226.02" cy="434.14" r="1.62" fill="#3a8fa0"/>
<circle cx="223.44" cy="434.39" r="1.62" fill="#3a8fa0"/>
<circle cx="225.94" cy="435.76" r="1.62" fill="#3a8fa0"/>
<circle cx="229.80" cy="436.46" r="1.62" fill="#3a8fa0"/>
<circle cx="228.19" cy="436.50" r="1.62" fill="#3a8fa0"/>
<circle cx="227.62" cy="436.51" r="1.62" fill="#3a8fa0"/>
<line x1="222.20" y1="430.50" x2="229.40" y2="430.50" stroke="#222" stroke-width="0.9"/>
<path d="M131.50 348.90 V345.50 H212.50 V348.90" fill="none" stroke="#8a8a8a" stroke-width="1.0"/>
<circle cx="169.75" cy="340.80" r="1.3" fill="#1a1a1a"/>
<circle cx="173.05" cy="340.80" r="1.3" fill="#1a1a1a"/>
<line x1="117.00" y1="351.50" x2="147.20" y2="351.50" stroke="#666" stroke-width="0.85"/>
<path d="M144.50 362.90 V359.50 H177.50 V362.90" fill="none" stroke="#8a8a8a" stroke-width="1.0"/>
<circle cx="160.05" cy="355.80" r="1.3" fill="#1a1a1a"/>
<circle cx="163.35" cy="355.80" r="1.3" fill="#1a1a1a"/>
<path d="M118.50 371.90 V368.50 H160.50 V371.90" fill="none" stroke="#8a8a8a" stroke-width="1.0"/>
<circle cx="137.65" cy="365.00" r="1.3" fill="#1a1a1a"/>
<circle cx="140.95" cy="365.00" r="1.3" fill="#1a1a1a"/>
<line x1="166.90" y1="369.50" x2="186.60" y2="369.50" stroke="#555" stroke-width="0.85"/>
<line x1="199.80" y1="369.50" x2="226.60" y2="369.50" stroke="#555" stroke-width="0.85"/>
<circle cx="238.80" cy="375.40" r="1.6" fill="#555555"/>
<text x="248.50" y="378.57" font-size="8.8" fill="#222" textLength="15.0" lengthAdjust="spacingAndGlyphs" stroke="#222" stroke-width="0.25">Veh</text>
<circle cx="238.80" cy="386.00" r="1.6" fill="#c9974a"/>
<text x="248.50" y="389.17" font-size="8.8" fill="#222" textLength="34.8" lengthAdjust="spacingAndGlyphs" stroke="#222" stroke-width="0.25">MSA-IL2</text>
<circle cx="238.80" cy="396.60" r="1.6" fill="#1f8f1f"/>
<text x="248.50" y="399.77" font-size="8.8" fill="#222" textLength="39.7" lengthAdjust="spacingAndGlyphs" stroke="#222" stroke-width="0.25">MSA-IL12</text>
<circle cx="238.80" cy="407.50" r="1.6" fill="#3a8fa0"/>
<text x="248.50" y="410.67" font-size="8.8" fill="#222" textLength="79.7" lengthAdjust="spacingAndGlyphs" stroke="#222" stroke-width="0.25">MSA-IL2+MSA-IL12</text>
<text x="366.20" y="340.00" font-size="13" fill="#000" font-weight="bold">f</text>
<line x1="424.50" y1="445.30" x2="424.50" y2="364.81" stroke="#222" stroke-width="1.1"/>
<line x1="421.10" y1="444.50" x2="424.30" y2="444.50" stroke="#222" stroke-width="1.1"/>
<text x="420.20" y="448.27" font-size="8.6" text-anchor="end" fill="#222" transform="translate(0 448.27) scale(1 1.12) translate(0 -448.27)" stroke="#222" stroke-width="0.25">0</text>
<line x1="421.10" y1="418.50" x2="424.30" y2="418.50" stroke="#222" stroke-width="1.1"/>
<text x="420.20" y="421.60" font-size="8.6" text-anchor="end" fill="#222" transform="translate(0 421.60) scale(1 1.12) translate(0 -421.60)" stroke="#222" stroke-width="0.25">50</text>
<line x1="421.10" y1="391.50" x2="424.30" y2="391.50" stroke="#222" stroke-width="1.1"/>
<text x="420.20" y="394.94" font-size="8.6" text-anchor="end" fill="#222" transform="translate(0 394.94) scale(1 1.12) translate(0 -394.94)" stroke="#222" stroke-width="0.25">100</text>
<line x1="421.10" y1="364.50" x2="424.30" y2="364.50" stroke="#222" stroke-width="1.1"/>
<text x="420.20" y="368.27" font-size="8.6" text-anchor="end" fill="#222" transform="translate(0 368.27) scale(1 1.12) translate(0 -368.27)" stroke="#222" stroke-width="0.25">150</text>
<line x1="424.30" y1="444.50" x2="544.20" y2="444.50" stroke="#222" stroke-width="1.0"/>
<line x1="443.50" y1="444.80" x2="443.50" y2="447.30" stroke="#222" stroke-width="1.0"/>
<line x1="483.50" y1="444.80" x2="483.50" y2="447.30" stroke="#222" stroke-width="1.0"/>
<line x1="524.50" y1="444.80" x2="524.50" y2="447.30" stroke="#222" stroke-width="1.0"/>
<text x="369.88" y="408.20" font-size="9.1" text-anchor="middle" fill="#222" transform="rotate(-90 369.88 408.20)" stroke="#222" stroke-width="0.25">Lung tumor IFN-γ<tspan font-size="5.6" dy="-3.4">+</tspan></text>
<text x="381.38" y="408.70" font-size="9.1" text-anchor="middle" fill="#222" transform="rotate(-90 381.38 408.70)" stroke="#222" stroke-width="0.25">(% of endogenous</text>
<text x="393.88" y="407.60" font-size="9.1" text-anchor="middle" fill="#222" transform="rotate(-90 393.88 407.60)" stroke="#222" stroke-width="0.25">SIY-reactive CD8<tspan font-size="5.6" dy="-3.4">+</tspan><tspan dy="3.4"> cells)</tspan></text>
<text x="443.80" y="456.60" font-size="9.0" text-anchor="middle" fill="#222" stroke="#222" stroke-width="0.25">WT</text>
<text x="484.40" y="456.60" font-size="9.0" text-anchor="middle" fill="#222" stroke="#222" stroke-width="0.25"><tspan font-style="italic">Tbx21</tspan><tspan font-size="5.76" dy="-3.60" letter-spacing="0.25">-/-</tspan></text>
<text x="525.20" y="456.60" font-size="9.0" text-anchor="middle" fill="#222" stroke="#222" stroke-width="0.25"><tspan font-style="italic">Zeb2</tspan><tspan font-size="5.76" dy="-3.60" letter-spacing="0.25">-/-</tspan></text>
<line x1="431.50" y1="432.53" x2="431.50" y2="438.93" stroke="#bdbdbd" stroke-width="0.9"/>
<line x1="430.20" y1="432.50" x2="433.40" y2="432.50" stroke="#bdbdbd" stroke-width="0.9"/>
<line x1="430.20" y1="438.50" x2="433.40" y2="438.50" stroke="#bdbdbd" stroke-width="0.9"/>
<circle cx="431.80" cy="430.40" r="1.62" fill="#555555"/>
<circle cx="428.28" cy="431.47" r="1.62" fill="#555555"/>
<circle cx="434.00" cy="433.07" r="1.62" fill="#555555"/>
<circle cx="429.60" cy="434.13" r="1.62" fill="#555555"/>
<circle cx="432.66" cy="435.20" r="1.62" fill="#555555"/>
<circle cx="430.75" cy="435.73" r="1.62" fill="#555555"/>
<circle cx="435.32" cy="436.27" r="1.62" fill="#555555"/>
<circle cx="431.21" cy="436.80" r="1.62" fill="#555555"/>
<circle cx="428.28" cy="437.33" r="1.62" fill="#555555"/>
<circle cx="430.33" cy="438.40" r="1.62" fill="#555555"/>
<circle cx="434.00" cy="438.93" r="1.62" fill="#555555"/>
<circle cx="433.00" cy="440.00" r="1.62" fill="#555555"/>
<line x1="428.20" y1="435.50" x2="435.40" y2="435.50" stroke="#222" stroke-width="0.9"/>
<line x1="440.50" y1="412.27" x2="440.50" y2="426.13" stroke="#e6c99a" stroke-width="0.9"/>
<line x1="438.60" y1="412.50" x2="441.80" y2="412.50" stroke="#e6c99a" stroke-width="0.9"/>
<line x1="438.60" y1="426.50" x2="441.80" y2="426.50" stroke="#e6c99a" stroke-width="0.9"/>
<circle cx="440.20" cy="404.80" r="1.62" fill="#c9974a"/>
<circle cx="438.00" cy="407.47" r="1.62" fill="#c9974a"/>
<circle cx="440.20" cy="409.60" r="1.62" fill="#c9974a"/>
<circle cx="438.00" cy="411.74" r="1.62" fill="#c9974a"/>
<circle cx="440.20" cy="413.87" r="1.62" fill="#c9974a"/>
<circle cx="438.00" cy="416.00" r="1.62" fill="#c9974a"/>
<circle cx="440.20" cy="418.13" r="1.62" fill="#c9974a"/>
<circle cx="436.68" cy="419.73" r="1.62" fill="#c9974a"/>
<circle cx="440.20" cy="421.33" r="1.62" fill="#c9974a"/>
<circle cx="443.72" cy="422.40" r="1.62" fill="#c9974a"/>
<circle cx="438.00" cy="423.47" r="1.62" fill="#c9974a"/>
<circle cx="440.34" cy="424.53" r="1.62" fill="#c9974a"/>
<circle cx="443.72" cy="425.60" r="1.62" fill="#c9974a"/>
<circle cx="438.00" cy="427.20" r="1.62" fill="#c9974a"/>
<circle cx="442.40" cy="428.27" r="1.62" fill="#c9974a"/>
<circle cx="436.68" cy="429.87" r="1.62" fill="#c9974a"/>
<line x1="436.60" y1="419.50" x2="443.80" y2="419.50" stroke="#222" stroke-width="0.9"/>
<line x1="448.50" y1="427.73" x2="448.50" y2="437.33" stroke="#9fd39f" stroke-width="0.9"/>
<line x1="446.40" y1="427.50" x2="449.60" y2="427.50" stroke="#9fd39f" stroke-width="0.9"/>
<line x1="446.40" y1="437.50" x2="449.60" y2="437.50" stroke="#9fd39f" stroke-width="0.9"/>
<circle cx="448.00" cy="424.53" r="1.62" fill="#1f8f1f"/>
<circle cx="444.48" cy="426.13" r="1.62" fill="#1f8f1f"/>
<circle cx="448.00" cy="428.27" r="1.62" fill="#1f8f1f"/>
<circle cx="444.48" cy="429.87" r="1.62" fill="#1f8f1f"/>
<circle cx="448.00" cy="431.47" r="1.62" fill="#1f8f1f"/>
<circle cx="444.48" cy="433.07" r="1.62" fill="#1f8f1f"/>
<circle cx="450.20" cy="434.13" r="1.62" fill="#1f8f1f"/>
<circle cx="449.23" cy="435.20" r="1.62" fill="#1f8f1f"/>
<circle cx="445.80" cy="436.27" r="1.62" fill="#1f8f1f"/>
<circle cx="451.52" cy="437.33" r="1.62" fill="#1f8f1f"/>
<circle cx="448.00" cy="438.40" r="1.62" fill="#1f8f1f"/>
<circle cx="444.48" cy="439.47" r="1.62" fill="#1f8f1f"/>
<line x1="444.40" y1="432.50" x2="451.60" y2="432.50" stroke="#222" stroke-width="0.9"/>
<line x1="456.50" y1="393.07" x2="456.50" y2="402.67" stroke="#a9d3dc" stroke-width="0.9"/>
<line x1="454.80" y1="393.50" x2="458.00" y2="393.50" stroke="#a9d3dc" stroke-width="0.9"/>
<line x1="454.80" y1="402.50" x2="458.00" y2="402.50" stroke="#a9d3dc" stroke-width="0.9"/>
<circle cx="456.40" cy="390.94" r="1.62" fill="#3a8fa0"/>
<circle cx="452.88" cy="391.47" r="1.62" fill="#3a8fa0"/>
<circle cx="459.92" cy="392.00" r="1.62" fill="#3a8fa0"/>
<circle cx="455.65" cy="392.54" r="1.62" fill="#3a8fa0"/>
<circle cx="455.18" cy="393.60" r="1.62" fill="#3a8fa0"/>
<circle cx="458.60" cy="394.67" r="1.62" fill="#3a8fa0"/>
<circle cx="452.88" cy="395.74" r="1.62" fill="#3a8fa0"/>
<circle cx="456.40" cy="396.80" r="1.62" fill="#3a8fa0"/>
<circle cx="459.92" cy="397.87" r="1.62" fill="#3a8fa0"/>
<circle cx="456.40" cy="400.00" r="1.62" fill="#3a8fa0"/>
<circle cx="456.40" cy="403.20" r="1.62" fill="#3a8fa0"/>
<circle cx="452.88" cy="404.80" r="1.62" fill="#3a8fa0"/>
<circle cx="456.40" cy="407.47" r="1.62" fill="#3a8fa0"/>
<circle cx="452.88" cy="408.54" r="1.62" fill="#3a8fa0"/>
<line x1="452.80" y1="397.50" x2="460.00" y2="397.50" stroke="#222" stroke-width="0.9"/>
<circle cx="472.30" cy="438.55" r="1.62" fill="#555555"/>
<circle cx="468.46" cy="439.54" r="1.62" fill="#555555"/>
<circle cx="476.14" cy="439.76" r="1.62" fill="#555555"/>
<circle cx="473.80" cy="439.85" r="1.62" fill="#555555"/>
<circle cx="474.63" cy="440.10" r="1.62" fill="#555555"/>
<circle cx="473.99" cy="440.11" r="1.62" fill="#555555"/>
<circle cx="473.77" cy="440.30" r="1.62" fill="#555555"/>
<circle cx="473.83" cy="440.48" r="1.62" fill="#555555"/>
<circle cx="473.45" cy="440.62" r="1.62" fill="#555555"/>
<circle cx="470.99" cy="440.94" r="1.62" fill="#555555"/>
<circle cx="472.38" cy="442.27" r="1.62" fill="#555555"/>
<circle cx="468.46" cy="442.65" r="1.62" fill="#555555"/>
<circle cx="480.00" cy="438.46" r="1.62" fill="#c9974a"/>
<circle cx="476.16" cy="439.00" r="1.62" fill="#c9974a"/>
<circle cx="483.84" cy="439.07" r="1.62" fill="#c9974a"/>
<circle cx="479.31" cy="439.94" r="1.62" fill="#c9974a"/>
<circle cx="477.74" cy="440.21" r="1.62" fill="#c9974a"/>
<circle cx="477.73" cy="440.34" r="1.62" fill="#c9974a"/>
<circle cx="482.40" cy="441.78" r="1.62" fill="#c9974a"/>
<circle cx="478.94" cy="441.99" r="1.62" fill="#c9974a"/>
<circle cx="478.84" cy="442.02" r="1.62" fill="#c9974a"/>
<circle cx="480.92" cy="442.63" r="1.62" fill="#c9974a"/>
<circle cx="476.16" cy="442.75" r="1.62" fill="#c9974a"/>
<circle cx="482.19" cy="442.84" r="1.62" fill="#c9974a"/>
<circle cx="487.60" cy="438.72" r="1.62" fill="#1f8f1f"/>
<circle cx="483.76" cy="439.24" r="1.62" fill="#1f8f1f"/>
<circle cx="491.44" cy="439.53" r="1.62" fill="#1f8f1f"/>
<circle cx="487.35" cy="439.74" r="1.62" fill="#1f8f1f"/>
<circle cx="489.70" cy="440.21" r="1.62" fill="#1f8f1f"/>
<circle cx="489.94" cy="441.22" r="1.62" fill="#1f8f1f"/>
<circle cx="489.78" cy="441.42" r="1.62" fill="#1f8f1f"/>
<circle cx="485.20" cy="441.86" r="1.62" fill="#1f8f1f"/>
<circle cx="486.95" cy="441.94" r="1.62" fill="#1f8f1f"/>
<circle cx="486.26" cy="442.30" r="1.62" fill="#1f8f1f"/>
<circle cx="486.29" cy="442.74" r="1.62" fill="#1f8f1f"/>
<circle cx="486.14" cy="442.90" r="1.62" fill="#1f8f1f"/>
<circle cx="495.30" cy="438.46" r="1.62" fill="#3a8fa0"/>
<circle cx="491.46" cy="439.66" r="1.62" fill="#3a8fa0"/>
<circle cx="497.70" cy="439.90" r="1.62" fill="#3a8fa0"/>
<circle cx="493.88" cy="440.22" r="1.62" fill="#3a8fa0"/>
<circle cx="495.90" cy="440.90" r="1.62" fill="#3a8fa0"/>
<circle cx="497.22" cy="440.96" r="1.62" fill="#3a8fa0"/>
<circle cx="496.93" cy="441.31" r="1.62" fill="#3a8fa0"/>
<circle cx="495.20" cy="441.43" r="1.62" fill="#3a8fa0"/>
<circle cx="496.03" cy="441.77" r="1.62" fill="#3a8fa0"/>
<circle cx="496.74" cy="442.27" r="1.62" fill="#3a8fa0"/>
<circle cx="491.46" cy="442.64" r="1.62" fill="#3a8fa0"/>
<circle cx="493.31" cy="442.65" r="1.62" fill="#3a8fa0"/>
<circle cx="513.00" cy="439.00" r="1.62" fill="#555555"/>
<circle cx="509.16" cy="439.99" r="1.62" fill="#555555"/>
<circle cx="516.84" cy="440.06" r="1.62" fill="#555555"/>
<circle cx="513.77" cy="440.25" r="1.62" fill="#555555"/>
<circle cx="514.97" cy="440.37" r="1.62" fill="#555555"/>
<circle cx="514.36" cy="440.45" r="1.62" fill="#555555"/>
<circle cx="514.20" cy="441.67" r="1.62" fill="#555555"/>
<circle cx="512.89" cy="441.71" r="1.62" fill="#555555"/>
<circle cx="511.46" cy="441.88" r="1.62" fill="#555555"/>
<circle cx="514.39" cy="442.17" r="1.62" fill="#555555"/>
<circle cx="512.20" cy="442.29" r="1.62" fill="#555555"/>
<circle cx="514.44" cy="443.05" r="1.62" fill="#555555"/>
<circle cx="520.70" cy="438.41" r="1.62" fill="#c9974a"/>
<circle cx="516.86" cy="438.43" r="1.62" fill="#c9974a"/>
<circle cx="524.54" cy="438.44" r="1.62" fill="#c9974a"/>
<circle cx="522.96" cy="439.37" r="1.62" fill="#c9974a"/>
<circle cx="520.20" cy="439.69" r="1.62" fill="#c9974a"/>
<circle cx="520.23" cy="440.29" r="1.62" fill="#c9974a"/>
<circle cx="522.84" cy="440.86" r="1.62" fill="#c9974a"/>
<circle cx="516.86" cy="441.25" r="1.62" fill="#c9974a"/>
<circle cx="521.78" cy="441.57" r="1.62" fill="#c9974a"/>
<circle cx="519.12" cy="441.98" r="1.62" fill="#c9974a"/>
<circle cx="518.91" cy="442.69" r="1.62" fill="#c9974a"/>
<circle cx="519.03" cy="442.77" r="1.62" fill="#c9974a"/>
<circle cx="528.30" cy="438.90" r="1.62" fill="#1f8f1f"/>
<circle cx="524.46" cy="439.22" r="1.62" fill="#1f8f1f"/>
<circle cx="532.14" cy="439.34" r="1.62" fill="#1f8f1f"/>
<circle cx="530.24" cy="439.52" r="1.62" fill="#1f8f1f"/>
<circle cx="529.77" cy="439.82" r="1.62" fill="#1f8f1f"/>
<circle cx="526.60" cy="440.80" r="1.62" fill="#1f8f1f"/>
<circle cx="529.87" cy="441.34" r="1.62" fill="#1f8f1f"/>
<circle cx="530.61" cy="441.45" r="1.62" fill="#1f8f1f"/>
<circle cx="529.05" cy="442.18" r="1.62" fill="#1f8f1f"/>
<circle cx="524.46" cy="442.56" r="1.62" fill="#1f8f1f"/>
<circle cx="527.58" cy="442.62" r="1.62" fill="#1f8f1f"/>
<circle cx="528.53" cy="443.10" r="1.62" fill="#1f8f1f"/>
<circle cx="536.00" cy="438.74" r="1.62" fill="#3a8fa0"/>
<circle cx="532.16" cy="439.69" r="1.62" fill="#3a8fa0"/>
<circle cx="539.84" cy="440.08" r="1.62" fill="#3a8fa0"/>
<circle cx="534.23" cy="440.53" r="1.62" fill="#3a8fa0"/>
<circle cx="533.67" cy="440.64" r="1.62" fill="#3a8fa0"/>
<circle cx="538.26" cy="441.18" r="1.62" fill="#3a8fa0"/>
<circle cx="536.72" cy="441.60" r="1.62" fill="#3a8fa0"/>
<circle cx="536.13" cy="442.01" r="1.62" fill="#3a8fa0"/>
<circle cx="538.08" cy="442.11" r="1.62" fill="#3a8fa0"/>
<circle cx="535.68" cy="442.27" r="1.62" fill="#3a8fa0"/>
<circle cx="537.78" cy="442.42" r="1.62" fill="#3a8fa0"/>
<circle cx="537.57" cy="442.69" r="1.62" fill="#3a8fa0"/>
<path d="M443.50 342.90 V339.50 H521.50 V342.90" fill="none" stroke="#8a8a8a" stroke-width="1.0"/>
<circle cx="480.85" cy="335.30" r="1.3" fill="#1a1a1a"/>
<circle cx="484.15" cy="335.30" r="1.3" fill="#1a1a1a"/>
<path d="M443.50 350.90 V347.50 H485.50 V350.90" fill="none" stroke="#8a8a8a" stroke-width="1.0"/>
<circle cx="462.45" cy="343.40" r="1.3" fill="#1a1a1a"/>
<circle cx="465.75" cy="343.40" r="1.3" fill="#1a1a1a"/>
<line x1="429.90" y1="354.50" x2="458.80" y2="354.50" stroke="#555" stroke-width="0.85"/>
<path d="M432.50 368.90 V365.50 H473.50 V368.90" fill="none" stroke="#8a8a8a" stroke-width="1.0"/>
<circle cx="451.35" cy="361.00" r="1.3" fill="#1a1a1a"/>
<circle cx="454.65" cy="361.00" r="1.3" fill="#1a1a1a"/>
<path d="M431.50 380.90 V377.50 H448.50 V380.90" fill="none" stroke="#8a8a8a" stroke-width="1.0"/>
<circle cx="438.75" cy="373.60" r="1.3" fill="#1a1a1a"/>
<circle cx="442.05" cy="373.60" r="1.3" fill="#1a1a1a"/>
<line x1="437.30" y1="384.50" x2="459.30" y2="384.50" stroke="#888" stroke-width="0.85"/>
<line x1="471.40" y1="384.50" x2="497.70" y2="384.50" stroke="#555" stroke-width="0.85"/>
<line x1="510.80" y1="384.50" x2="537.10" y2="384.50" stroke="#555" stroke-width="0.85"/>
<circle cx="551.30" cy="389.60" r="1.6" fill="#555555"/>
<text x="560.70" y="392.77" font-size="8.8" fill="#222" textLength="15.0" lengthAdjust="spacingAndGlyphs" stroke="#222" stroke-width="0.25">Veh</text>
<circle cx="551.30" cy="400.10" r="1.6" fill="#c9974a"/>
<text x="560.70" y="403.27" font-size="8.8" fill="#222" textLength="34.7" lengthAdjust="spacingAndGlyphs" stroke="#222" stroke-width="0.25">MSA-IL2</text>
<circle cx="551.30" cy="411.20" r="1.6" fill="#1f8f1f"/>
<text x="560.70" y="414.37" font-size="8.8" fill="#222" textLength="39.6" lengthAdjust="spacingAndGlyphs" stroke="#222" stroke-width="0.25">MSA-IL12</text>
<circle cx="551.30" cy="421.70" r="1.6" fill="#3a8fa0"/>
<text x="560.70" y="424.87" font-size="8.8" fill="#222" textLength="79.4" lengthAdjust="spacingAndGlyphs" stroke="#222" stroke-width="0.25">MSA-IL2+MSA-IL12</text>
<text x="56.10" y="488.60" font-size="13" fill="#000" font-weight="bold">g</text>
<text x="59.31" y="541.00" font-size="9.2" text-anchor="middle" fill="#222" transform="rotate(-90 59.31 541.00)" stroke="#222" stroke-width="0.25">IFN-γ<tspan font-size="5.8" dy="-3.6">+</tspan><tspan dy="3.6"> spots/10</tspan><tspan font-size="5.8" dy="-3.6">6</tspan></text>
<text x="70.60" y="541.00" font-size="8.9" text-anchor="middle" fill="#222" transform="rotate(-90 70.60 541.00)" stroke="#222" stroke-width="0.25">splenocytes</text>
<rect x="104.70" y="581.26" width="4.60" height="2.24" fill="#4a4a4a"/>
<circle cx="107.72" cy="581.65" r="1.45" fill="#f0f0f0" stroke="#8a8a8a" stroke-width="0.5"/>
<circle cx="106.38" cy="580.54" r="1.45" fill="#f0f0f0" stroke="#8a8a8a" stroke-width="0.5"/>
<circle cx="106.08" cy="581.32" r="1.45" fill="#f0f0f0" stroke="#8a8a8a" stroke-width="0.5"/>
<circle cx="107.14" cy="581.01" r="1.45" fill="#f0f0f0" stroke="#8a8a8a" stroke-width="0.5"/>
<circle cx="106.15" cy="580.97" r="1.45" fill="#f0f0f0" stroke="#8a8a8a" stroke-width="0.5"/>
<circle cx="107.00" cy="580.48" r="1.45" fill="#f0f0f0" stroke="#8a8a8a" stroke-width="0.5"/>
<rect x="110.50" y="566.62" width="5.00" height="16.88" fill="#c9974a"/>
<circle cx="111.68" cy="562.06" r="1.45" fill="#fff" stroke="#d9b575" stroke-width="0.55"/>
<circle cx="112.08" cy="563.76" r="1.45" fill="#fff" stroke="#d9b575" stroke-width="0.55"/>
<circle cx="113.02" cy="563.49" r="1.45" fill="#fff" stroke="#d9b575" stroke-width="0.55"/>
<circle cx="112.11" cy="569.57" r="1.45" fill="#fff" stroke="#d9b575" stroke-width="0.55"/>
<circle cx="111.84" cy="564.17" r="1.45" fill="#fff" stroke="#d9b575" stroke-width="0.55"/>
<circle cx="113.10" cy="570.95" r="1.45" fill="#fff" stroke="#d9b575" stroke-width="0.55"/>
<circle cx="112.14" cy="572.41" r="1.45" fill="#fff" stroke="#d9b575" stroke-width="0.55"/>
<circle cx="112.16" cy="566.75" r="1.45" fill="#fff" stroke="#d9b575" stroke-width="0.55"/>
<circle cx="112.83" cy="565.05" r="1.45" fill="#fff" stroke="#d9b575" stroke-width="0.55"/>
<circle cx="111.81" cy="563.45" r="1.45" fill="#fff" stroke="#d9b575" stroke-width="0.55"/>
<circle cx="114.35" cy="564.63" r="1.45" fill="#fff" stroke="#d9b575" stroke-width="0.55"/>
<circle cx="113.68" cy="563.33" r="1.45" fill="#fff" stroke="#d9b575" stroke-width="0.55"/>
<line x1="109.50" y1="583.50" x2="109.50" y2="587.00" stroke="#222" stroke-width="1.0"/>
<rect x="121.40" y="581.67" width="4.60" height="1.83" fill="#4a4a4a"/>
<circle cx="122.73" cy="581.74" r="1.45" fill="#f0f0f0" stroke="#8a8a8a" stroke-width="0.5"/>
<circle cx="122.69" cy="581.15" r="1.45" fill="#f0f0f0" stroke="#8a8a8a" stroke-width="0.5"/>
<circle cx="123.79" cy="582.39" r="1.45" fill="#f0f0f0" stroke="#8a8a8a" stroke-width="0.5"/>
<circle cx="123.57" cy="581.16" r="1.45" fill="#f0f0f0" stroke="#8a8a8a" stroke-width="0.5"/>
<circle cx="123.82" cy="582.36" r="1.45" fill="#f0f0f0" stroke="#8a8a8a" stroke-width="0.5"/>
<circle cx="124.75" cy="582.48" r="1.45" fill="#f0f0f0" stroke="#8a8a8a" stroke-width="0.5"/>
<rect x="127.20" y="572.52" width="5.00" height="10.98" fill="#c9974a"/>
<circle cx="130.66" cy="569.42" r="1.45" fill="#fff" stroke="#d9b575" stroke-width="0.55"/>
<circle cx="130.40" cy="569.64" r="1.45" fill="#fff" stroke="#d9b575" stroke-width="0.55"/>
<circle cx="129.79" cy="575.22" r="1.45" fill="#fff" stroke="#d9b575" stroke-width="0.55"/>
<circle cx="129.62" cy="571.23" r="1.45" fill="#fff" stroke="#d9b575" stroke-width="0.55"/>
<circle cx="130.45" cy="573.95" r="1.45" fill="#fff" stroke="#d9b575" stroke-width="0.55"/>
<circle cx="130.95" cy="576.64" r="1.45" fill="#fff" stroke="#d9b575" stroke-width="0.55"/>
<circle cx="129.69" cy="576.61" r="1.45" fill="#fff" stroke="#d9b575" stroke-width="0.55"/>
<circle cx="129.30" cy="569.30" r="1.45" fill="#fff" stroke="#d9b575" stroke-width="0.55"/>
<circle cx="128.63" cy="569.33" r="1.45" fill="#fff" stroke="#d9b575" stroke-width="0.55"/>
<circle cx="130.83" cy="571.62" r="1.45" fill="#fff" stroke="#d9b575" stroke-width="0.55"/>
<circle cx="128.46" cy="573.28" r="1.45" fill="#fff" stroke="#d9b575" stroke-width="0.55"/>
<circle cx="130.24" cy="576.18" r="1.45" fill="#fff" stroke="#d9b575" stroke-width="0.55"/>
<line x1="126.50" y1="583.50" x2="126.50" y2="587.00" stroke="#222" stroke-width="1.0"/>
<rect x="138.10" y="581.67" width="4.60" height="1.83" fill="#4a4a4a"/>
<circle cx="139.92" cy="582.42" r="1.45" fill="#f0f0f0" stroke="#8a8a8a" stroke-width="0.5"/>
<circle cx="141.22" cy="580.91" r="1.45" fill="#f0f0f0" stroke="#8a8a8a" stroke-width="0.5"/>
<circle cx="141.42" cy="581.21" r="1.45" fill="#f0f0f0" stroke="#8a8a8a" stroke-width="0.5"/>
<circle cx="140.58" cy="582.47" r="1.45" fill="#f0f0f0" stroke="#8a8a8a" stroke-width="0.5"/>
<circle cx="140.36" cy="581.19" r="1.45" fill="#f0f0f0" stroke="#8a8a8a" stroke-width="0.5"/>
<circle cx="141.01" cy="582.54" r="1.45" fill="#f0f0f0" stroke="#8a8a8a" stroke-width="0.5"/>
<rect x="143.90" y="573.02" width="5.00" height="10.48" fill="#c9974a"/>
<circle cx="145.02" cy="576.57" r="1.45" fill="#fff" stroke="#d9b575" stroke-width="0.55"/>
<circle cx="147.59" cy="576.38" r="1.45" fill="#fff" stroke="#d9b575" stroke-width="0.55"/>
<circle cx="146.09" cy="573.73" r="1.45" fill="#fff" stroke="#d9b575" stroke-width="0.55"/>
<circle cx="147.47" cy="576.22" r="1.45" fill="#fff" stroke="#d9b575" stroke-width="0.55"/>
<circle cx="145.73" cy="571.55" r="1.45" fill="#fff" stroke="#d9b575" stroke-width="0.55"/>
<circle cx="145.24" cy="576.01" r="1.45" fill="#fff" stroke="#d9b575" stroke-width="0.55"/>
<circle cx="145.07" cy="570.19" r="1.45" fill="#fff" stroke="#d9b575" stroke-width="0.55"/>
<circle cx="145.65" cy="573.54" r="1.45" fill="#fff" stroke="#d9b575" stroke-width="0.55"/>
<circle cx="146.06" cy="570.02" r="1.45" fill="#fff" stroke="#d9b575" stroke-width="0.55"/>
<circle cx="146.99" cy="572.81" r="1.45" fill="#fff" stroke="#d9b575" stroke-width="0.55"/>
<circle cx="146.37" cy="575.25" r="1.45" fill="#fff" stroke="#d9b575" stroke-width="0.55"/>
<circle cx="147.35" cy="576.46" r="1.45" fill="#fff" stroke="#d9b575" stroke-width="0.55"/>
<line x1="143.50" y1="583.50" x2="143.50" y2="587.00" stroke="#222" stroke-width="1.0"/>
<rect x="154.80" y="579.43" width="4.60" height="4.07" fill="#4a4a4a"/>
<circle cx="157.39" cy="580.27" r="1.45" fill="#f0f0f0" stroke="#8a8a8a" stroke-width="0.5"/>
<circle cx="156.56" cy="579.62" r="1.45" fill="#f0f0f0" stroke="#8a8a8a" stroke-width="0.5"/>
<circle cx="156.35" cy="579.06" r="1.45" fill="#f0f0f0" stroke="#8a8a8a" stroke-width="0.5"/>
<circle cx="156.07" cy="581.39" r="1.45" fill="#f0f0f0" stroke="#8a8a8a" stroke-width="0.5"/>
<circle cx="156.24" cy="581.10" r="1.45" fill="#f0f0f0" stroke="#8a8a8a" stroke-width="0.5"/>
<circle cx="158.01" cy="579.39" r="1.45" fill="#f0f0f0" stroke="#8a8a8a" stroke-width="0.5"/>
<rect x="160.60" y="554.62" width="5.00" height="28.88" fill="#c9974a"/>
<circle cx="163.60" cy="550.42" r="1.45" fill="#fff" stroke="#d9b575" stroke-width="0.55"/>
<circle cx="162.16" cy="546.94" r="1.45" fill="#fff" stroke="#d9b575" stroke-width="0.55"/>
<circle cx="162.78" cy="556.87" r="1.45" fill="#fff" stroke="#d9b575" stroke-width="0.55"/>
<circle cx="163.07" cy="552.11" r="1.45" fill="#fff" stroke="#d9b575" stroke-width="0.55"/>
<circle cx="163.85" cy="562.25" r="1.45" fill="#fff" stroke="#d9b575" stroke-width="0.55"/>
<circle cx="164.02" cy="557.51" r="1.45" fill="#fff" stroke="#d9b575" stroke-width="0.55"/>
<circle cx="162.40" cy="548.70" r="1.45" fill="#fff" stroke="#d9b575" stroke-width="0.55"/>
<circle cx="164.14" cy="548.82" r="1.45" fill="#fff" stroke="#d9b575" stroke-width="0.55"/>
<circle cx="162.61" cy="547.69" r="1.45" fill="#fff" stroke="#d9b575" stroke-width="0.55"/>
<circle cx="163.87" cy="546.56" r="1.45" fill="#fff" stroke="#d9b575" stroke-width="0.55"/>
<circle cx="163.81" cy="545.96" r="1.45" fill="#fff" stroke="#d9b575" stroke-width="0.55"/>
<circle cx="163.04" cy="551.02" r="1.45" fill="#fff" stroke="#d9b575" stroke-width="0.55"/>
<line x1="159.50" y1="583.50" x2="159.50" y2="587.00" stroke="#222" stroke-width="1.0"/>
<rect x="171.50" y="581.67" width="4.60" height="1.83" fill="#4a4a4a"/>
<circle cx="174.47" cy="581.62" r="1.45" fill="#f0f0f0" stroke="#8a8a8a" stroke-width="0.5"/>
<circle cx="173.81" cy="581.85" r="1.45" fill="#f0f0f0" stroke="#8a8a8a" stroke-width="0.5"/>
<circle cx="174.68" cy="581.89" r="1.45" fill="#f0f0f0" stroke="#8a8a8a" stroke-width="0.5"/>
<circle cx="174.39" cy="581.56" r="1.45" fill="#f0f0f0" stroke="#8a8a8a" stroke-width="0.5"/>
<circle cx="174.30" cy="582.02" r="1.45" fill="#f0f0f0" stroke="#8a8a8a" stroke-width="0.5"/>
<circle cx="172.79" cy="581.35" r="1.45" fill="#f0f0f0" stroke="#8a8a8a" stroke-width="0.5"/>
<rect x="177.30" y="572.31" width="5.00" height="11.19" fill="#c9974a"/>
<circle cx="178.81" cy="573.97" r="1.45" fill="#fff" stroke="#d9b575" stroke-width="0.55"/>
<circle cx="180.59" cy="576.40" r="1.45" fill="#fff" stroke="#d9b575" stroke-width="0.55"/>
<circle cx="180.95" cy="572.18" r="1.45" fill="#fff" stroke="#d9b575" stroke-width="0.55"/>
<circle cx="179.97" cy="571.49" r="1.45" fill="#fff" stroke="#d9b575" stroke-width="0.55"/>
<circle cx="178.56" cy="576.61" r="1.45" fill="#fff" stroke="#d9b575" stroke-width="0.55"/>
<circle cx="180.42" cy="572.19" r="1.45" fill="#fff" stroke="#d9b575" stroke-width="0.55"/>
<circle cx="180.19" cy="570.34" r="1.45" fill="#fff" stroke="#d9b575" stroke-width="0.55"/>
<circle cx="179.16" cy="575.53" r="1.45" fill="#fff" stroke="#d9b575" stroke-width="0.55"/>
<circle cx="181.11" cy="576.31" r="1.45" fill="#fff" stroke="#d9b575" stroke-width="0.55"/>
<circle cx="179.84" cy="571.90" r="1.45" fill="#fff" stroke="#d9b575" stroke-width="0.55"/>
<circle cx="181.07" cy="576.11" r="1.45" fill="#fff" stroke="#d9b575" stroke-width="0.55"/>
<circle cx="180.37" cy="576.17" r="1.45" fill="#fff" stroke="#d9b575" stroke-width="0.55"/>
<line x1="176.50" y1="583.50" x2="176.50" y2="587.00" stroke="#222" stroke-width="1.0"/>
<rect x="188.20" y="581.67" width="4.60" height="1.83" fill="#4a4a4a"/>
<circle cx="190.39" cy="581.45" r="1.45" fill="#f0f0f0" stroke="#8a8a8a" stroke-width="0.5"/>
<circle cx="191.34" cy="582.50" r="1.45" fill="#f0f0f0" stroke="#8a8a8a" stroke-width="0.5"/>
<circle cx="191.10" cy="582.31" r="1.45" fill="#f0f0f0" stroke="#8a8a8a" stroke-width="0.5"/>
<circle cx="190.27" cy="580.79" r="1.45" fill="#f0f0f0" stroke="#8a8a8a" stroke-width="0.5"/>
<circle cx="191.34" cy="582.44" r="1.45" fill="#f0f0f0" stroke="#8a8a8a" stroke-width="0.5"/>
<circle cx="189.31" cy="582.53" r="1.45" fill="#f0f0f0" stroke="#8a8a8a" stroke-width="0.5"/>
<rect x="194.00" y="573.33" width="5.00" height="10.17" fill="#c9974a"/>
<circle cx="197.29" cy="577.12" r="1.45" fill="#fff" stroke="#d9b575" stroke-width="0.55"/>
<circle cx="197.30" cy="571.65" r="1.45" fill="#fff" stroke="#d9b575" stroke-width="0.55"/>
<circle cx="197.39" cy="570.73" r="1.45" fill="#fff" stroke="#d9b575" stroke-width="0.55"/>
<circle cx="196.87" cy="571.52" r="1.45" fill="#fff" stroke="#d9b575" stroke-width="0.55"/>
<circle cx="196.62" cy="572.64" r="1.45" fill="#fff" stroke="#d9b575" stroke-width="0.55"/>
<circle cx="195.30" cy="573.48" r="1.45" fill="#fff" stroke="#d9b575" stroke-width="0.55"/>
<circle cx="197.87" cy="574.63" r="1.45" fill="#fff" stroke="#d9b575" stroke-width="0.55"/>
<circle cx="197.10" cy="576.13" r="1.45" fill="#fff" stroke="#d9b575" stroke-width="0.55"/>
<circle cx="196.45" cy="573.54" r="1.45" fill="#fff" stroke="#d9b575" stroke-width="0.55"/>
<circle cx="197.25" cy="575.10" r="1.45" fill="#fff" stroke="#d9b575" stroke-width="0.55"/>
<circle cx="196.41" cy="576.05" r="1.45" fill="#fff" stroke="#d9b575" stroke-width="0.55"/>
<circle cx="196.72" cy="570.71" r="1.45" fill="#fff" stroke="#d9b575" stroke-width="0.55"/>
<line x1="193.50" y1="583.50" x2="193.50" y2="587.00" stroke="#222" stroke-width="1.0"/>
<rect x="204.90" y="579.94" width="4.60" height="3.56" fill="#4a4a4a"/>
<circle cx="206.93" cy="579.37" r="1.45" fill="#f0f0f0" stroke="#8a8a8a" stroke-width="0.5"/>
<circle cx="207.34" cy="581.02" r="1.45" fill="#f0f0f0" stroke="#8a8a8a" stroke-width="0.5"/>
<circle cx="207.67" cy="580.97" r="1.45" fill="#f0f0f0" stroke="#8a8a8a" stroke-width="0.5"/>
<circle cx="207.47" cy="578.18" r="1.45" fill="#f0f0f0" stroke="#8a8a8a" stroke-width="0.5"/>
<circle cx="206.74" cy="579.34" r="1.45" fill="#f0f0f0" stroke="#8a8a8a" stroke-width="0.5"/>
<circle cx="206.81" cy="579.43" r="1.45" fill="#f0f0f0" stroke="#8a8a8a" stroke-width="0.5"/>
<rect x="210.70" y="561.33" width="5.00" height="22.17" fill="#c9974a"/>
<circle cx="212.34" cy="562.43" r="1.45" fill="#fff" stroke="#d9b575" stroke-width="0.55"/>
<circle cx="214.00" cy="566.89" r="1.45" fill="#fff" stroke="#d9b575" stroke-width="0.55"/>
<circle cx="212.79" cy="566.69" r="1.45" fill="#fff" stroke="#d9b575" stroke-width="0.55"/>
<circle cx="212.24" cy="559.80" r="1.45" fill="#fff" stroke="#d9b575" stroke-width="0.55"/>
<circle cx="214.13" cy="562.02" r="1.45" fill="#fff" stroke="#d9b575" stroke-width="0.55"/>
<circle cx="213.05" cy="565.50" r="1.45" fill="#fff" stroke="#d9b575" stroke-width="0.55"/>
<circle cx="212.47" cy="555.57" r="1.45" fill="#fff" stroke="#d9b575" stroke-width="0.55"/>
<circle cx="213.14" cy="559.62" r="1.45" fill="#fff" stroke="#d9b575" stroke-width="0.55"/>
<circle cx="212.58" cy="567.51" r="1.45" fill="#fff" stroke="#d9b575" stroke-width="0.55"/>
<circle cx="211.83" cy="565.61" r="1.45" fill="#fff" stroke="#d9b575" stroke-width="0.55"/>
<circle cx="212.97" cy="562.11" r="1.45" fill="#fff" stroke="#d9b575" stroke-width="0.55"/>
<circle cx="213.53" cy="559.47" r="1.45" fill="#fff" stroke="#d9b575" stroke-width="0.55"/>
<line x1="209.50" y1="583.50" x2="209.50" y2="587.00" stroke="#222" stroke-width="1.0"/>
<rect x="221.60" y="581.97" width="4.60" height="1.53" fill="#4a4a4a"/>
<circle cx="224.80" cy="581.51" r="1.45" fill="#f0f0f0" stroke="#8a8a8a" stroke-width="0.5"/>
<circle cx="224.35" cy="581.51" r="1.45" fill="#f0f0f0" stroke="#8a8a8a" stroke-width="0.5"/>
<circle cx="224.00" cy="582.02" r="1.45" fill="#f0f0f0" stroke="#8a8a8a" stroke-width="0.5"/>
<circle cx="224.90" cy="581.37" r="1.45" fill="#f0f0f0" stroke="#8a8a8a" stroke-width="0.5"/>
<circle cx="223.63" cy="581.41" r="1.45" fill="#f0f0f0" stroke="#8a8a8a" stroke-width="0.5"/>
<circle cx="223.73" cy="581.59" r="1.45" fill="#f0f0f0" stroke="#8a8a8a" stroke-width="0.5"/>
<rect x="227.40" y="573.33" width="5.00" height="10.17" fill="#c9974a"/>
<circle cx="228.57" cy="573.16" r="1.45" fill="#fff" stroke="#d9b575" stroke-width="0.55"/>
<circle cx="231.15" cy="574.28" r="1.45" fill="#fff" stroke="#d9b575" stroke-width="0.55"/>
<circle cx="230.94" cy="572.55" r="1.45" fill="#fff" stroke="#d9b575" stroke-width="0.55"/>
<circle cx="228.56" cy="576.85" r="1.45" fill="#fff" stroke="#d9b575" stroke-width="0.55"/>
<circle cx="229.43" cy="570.48" r="1.45" fill="#fff" stroke="#d9b575" stroke-width="0.55"/>
<circle cx="230.34" cy="573.14" r="1.45" fill="#fff" stroke="#d9b575" stroke-width="0.55"/>
<circle cx="230.91" cy="574.90" r="1.45" fill="#fff" stroke="#d9b575" stroke-width="0.55"/>
<circle cx="228.91" cy="574.22" r="1.45" fill="#fff" stroke="#d9b575" stroke-width="0.55"/>
<circle cx="231.04" cy="576.22" r="1.45" fill="#fff" stroke="#d9b575" stroke-width="0.55"/>
<circle cx="229.88" cy="575.30" r="1.45" fill="#fff" stroke="#d9b575" stroke-width="0.55"/>
<circle cx="229.50" cy="576.74" r="1.45" fill="#fff" stroke="#d9b575" stroke-width="0.55"/>
<circle cx="231.04" cy="575.58" r="1.45" fill="#fff" stroke="#d9b575" stroke-width="0.55"/>
<line x1="226.50" y1="583.50" x2="226.50" y2="587.00" stroke="#222" stroke-width="1.0"/>
<rect x="238.30" y="581.97" width="4.60" height="1.53" fill="#4a4a4a"/>
<circle cx="241.29" cy="582.47" r="1.45" fill="#f0f0f0" stroke="#8a8a8a" stroke-width="0.5"/>
<circle cx="240.42" cy="582.70" r="1.45" fill="#f0f0f0" stroke="#8a8a8a" stroke-width="0.5"/>
<circle cx="240.81" cy="581.96" r="1.45" fill="#f0f0f0" stroke="#8a8a8a" stroke-width="0.5"/>
<circle cx="240.44" cy="582.43" r="1.45" fill="#f0f0f0" stroke="#8a8a8a" stroke-width="0.5"/>
<circle cx="240.93" cy="582.68" r="1.45" fill="#f0f0f0" stroke="#8a8a8a" stroke-width="0.5"/>
<circle cx="241.64" cy="582.00" r="1.45" fill="#f0f0f0" stroke="#8a8a8a" stroke-width="0.5"/>
<rect x="244.10" y="573.33" width="5.00" height="10.17" fill="#c9974a"/>
<circle cx="246.91" cy="574.38" r="1.45" fill="#fff" stroke="#d9b575" stroke-width="0.55"/>
<circle cx="245.26" cy="577.18" r="1.45" fill="#fff" stroke="#d9b575" stroke-width="0.55"/>
<circle cx="247.23" cy="573.93" r="1.45" fill="#fff" stroke="#d9b575" stroke-width="0.55"/>
<circle cx="245.98" cy="573.57" r="1.45" fill="#fff" stroke="#d9b575" stroke-width="0.55"/>
<circle cx="247.64" cy="573.77" r="1.45" fill="#fff" stroke="#d9b575" stroke-width="0.55"/>
<circle cx="246.65" cy="573.24" r="1.45" fill="#fff" stroke="#d9b575" stroke-width="0.55"/>
<circle cx="247.65" cy="577.17" r="1.45" fill="#fff" stroke="#d9b575" stroke-width="0.55"/>
<circle cx="247.06" cy="573.29" r="1.45" fill="#fff" stroke="#d9b575" stroke-width="0.55"/>
<circle cx="247.21" cy="576.22" r="1.45" fill="#fff" stroke="#d9b575" stroke-width="0.55"/>
<circle cx="247.52" cy="571.75" r="1.45" fill="#fff" stroke="#d9b575" stroke-width="0.55"/>
<circle cx="245.98" cy="570.65" r="1.45" fill="#fff" stroke="#d9b575" stroke-width="0.55"/>
<circle cx="245.35" cy="573.52" r="1.45" fill="#fff" stroke="#d9b575" stroke-width="0.55"/>
<line x1="243.50" y1="583.50" x2="243.50" y2="587.00" stroke="#222" stroke-width="1.0"/>
<rect x="255.00" y="575.36" width="4.60" height="8.14" fill="#4a4a4a"/>
<circle cx="256.31" cy="577.90" r="1.45" fill="#f0f0f0" stroke="#8a8a8a" stroke-width="0.5"/>
<circle cx="257.63" cy="573.69" r="1.45" fill="#f0f0f0" stroke="#8a8a8a" stroke-width="0.5"/>
<circle cx="257.25" cy="577.44" r="1.45" fill="#f0f0f0" stroke="#8a8a8a" stroke-width="0.5"/>
<circle cx="257.41" cy="575.78" r="1.45" fill="#f0f0f0" stroke="#8a8a8a" stroke-width="0.5"/>
<circle cx="257.02" cy="576.09" r="1.45" fill="#f0f0f0" stroke="#8a8a8a" stroke-width="0.5"/>
<circle cx="257.21" cy="576.42" r="1.45" fill="#f0f0f0" stroke="#8a8a8a" stroke-width="0.5"/>
<rect x="260.80" y="538.75" width="5.00" height="44.75" fill="#c9974a"/>
<circle cx="262.24" cy="541.09" r="1.45" fill="#fff" stroke="#d9b575" stroke-width="0.55"/>
<circle cx="262.69" cy="531.81" r="1.45" fill="#fff" stroke="#d9b575" stroke-width="0.55"/>
<circle cx="264.58" cy="533.30" r="1.45" fill="#fff" stroke="#d9b575" stroke-width="0.55"/>
<circle cx="262.82" cy="541.72" r="1.45" fill="#fff" stroke="#d9b575" stroke-width="0.55"/>
<circle cx="263.97" cy="549.48" r="1.45" fill="#fff" stroke="#d9b575" stroke-width="0.55"/>
<circle cx="264.14" cy="555.27" r="1.45" fill="#fff" stroke="#d9b575" stroke-width="0.55"/>
<circle cx="264.61" cy="539.21" r="1.45" fill="#fff" stroke="#d9b575" stroke-width="0.55"/>
<circle cx="264.07" cy="537.84" r="1.45" fill="#fff" stroke="#d9b575" stroke-width="0.55"/>
<circle cx="264.28" cy="543.40" r="1.45" fill="#fff" stroke="#d9b575" stroke-width="0.55"/>
<circle cx="262.15" cy="550.20" r="1.45" fill="#fff" stroke="#d9b575" stroke-width="0.55"/>
<circle cx="263.99" cy="525.84" r="1.45" fill="#fff" stroke="#d9b575" stroke-width="0.55"/>
<circle cx="262.54" cy="541.40" r="1.45" fill="#fff" stroke="#d9b575" stroke-width="0.55"/>
<line x1="260.50" y1="583.50" x2="260.50" y2="587.00" stroke="#222" stroke-width="1.0"/>
<rect x="271.70" y="581.97" width="4.60" height="1.53" fill="#4a4a4a"/>
<circle cx="274.67" cy="582.27" r="1.45" fill="#f0f0f0" stroke="#8a8a8a" stroke-width="0.5"/>
<circle cx="273.37" cy="581.57" r="1.45" fill="#f0f0f0" stroke="#8a8a8a" stroke-width="0.5"/>
<circle cx="273.08" cy="582.23" r="1.45" fill="#f0f0f0" stroke="#8a8a8a" stroke-width="0.5"/>
<circle cx="274.23" cy="581.98" r="1.45" fill="#f0f0f0" stroke="#8a8a8a" stroke-width="0.5"/>
<circle cx="275.08" cy="582.00" r="1.45" fill="#f0f0f0" stroke="#8a8a8a" stroke-width="0.5"/>
<circle cx="273.78" cy="582.45" r="1.45" fill="#f0f0f0" stroke="#8a8a8a" stroke-width="0.5"/>
<rect x="277.50" y="571.30" width="5.00" height="12.20" fill="#c9974a"/>
<circle cx="280.89" cy="575.75" r="1.45" fill="#fff" stroke="#d9b575" stroke-width="0.55"/>
<circle cx="278.64" cy="573.06" r="1.45" fill="#fff" stroke="#d9b575" stroke-width="0.55"/>
<circle cx="280.85" cy="574.00" r="1.45" fill="#fff" stroke="#d9b575" stroke-width="0.55"/>
<circle cx="279.91" cy="575.40" r="1.45" fill="#fff" stroke="#d9b575" stroke-width="0.55"/>
<circle cx="279.38" cy="568.15" r="1.45" fill="#fff" stroke="#d9b575" stroke-width="0.55"/>
<circle cx="281.01" cy="575.36" r="1.45" fill="#fff" stroke="#d9b575" stroke-width="0.55"/>
<circle cx="281.27" cy="572.18" r="1.45" fill="#fff" stroke="#d9b575" stroke-width="0.55"/>
<circle cx="278.98" cy="573.04" r="1.45" fill="#fff" stroke="#d9b575" stroke-width="0.55"/>
<circle cx="281.29" cy="574.61" r="1.45" fill="#fff" stroke="#d9b575" stroke-width="0.55"/>
<circle cx="280.73" cy="568.18" r="1.45" fill="#fff" stroke="#d9b575" stroke-width="0.55"/>
<circle cx="281.16" cy="569.72" r="1.45" fill="#fff" stroke="#d9b575" stroke-width="0.55"/>
<circle cx="281.19" cy="575.20" r="1.45" fill="#fff" stroke="#d9b575" stroke-width="0.55"/>
<line x1="276.50" y1="583.50" x2="276.50" y2="587.00" stroke="#222" stroke-width="1.0"/>
<rect x="288.40" y="581.97" width="4.60" height="1.53" fill="#4a4a4a"/>
<circle cx="291.17" cy="581.27" r="1.45" fill="#f0f0f0" stroke="#8a8a8a" stroke-width="0.5"/>
<circle cx="290.75" cy="582.71" r="1.45" fill="#f0f0f0" stroke="#8a8a8a" stroke-width="0.5"/>
<circle cx="290.20" cy="582.06" r="1.45" fill="#f0f0f0" stroke="#8a8a8a" stroke-width="0.5"/>
<circle cx="290.49" cy="581.63" r="1.45" fill="#f0f0f0" stroke="#8a8a8a" stroke-width="0.5"/>
<circle cx="289.92" cy="582.73" r="1.45" fill="#f0f0f0" stroke="#8a8a8a" stroke-width="0.5"/>
<circle cx="291.08" cy="581.23" r="1.45" fill="#f0f0f0" stroke="#8a8a8a" stroke-width="0.5"/>
<rect x="294.20" y="572.11" width="5.00" height="11.39" fill="#c9974a"/>
<circle cx="296.65" cy="571.24" r="1.45" fill="#fff" stroke="#d9b575" stroke-width="0.55"/>
<circle cx="297.29" cy="571.31" r="1.45" fill="#fff" stroke="#d9b575" stroke-width="0.55"/>
<circle cx="297.52" cy="576.43" r="1.45" fill="#fff" stroke="#d9b575" stroke-width="0.55"/>
<circle cx="297.27" cy="573.19" r="1.45" fill="#fff" stroke="#d9b575" stroke-width="0.55"/>
<circle cx="296.38" cy="570.26" r="1.45" fill="#fff" stroke="#d9b575" stroke-width="0.55"/>
<circle cx="295.66" cy="569.33" r="1.45" fill="#fff" stroke="#d9b575" stroke-width="0.55"/>
<circle cx="297.57" cy="570.01" r="1.45" fill="#fff" stroke="#d9b575" stroke-width="0.55"/>
<circle cx="297.87" cy="574.93" r="1.45" fill="#fff" stroke="#d9b575" stroke-width="0.55"/>
<circle cx="296.96" cy="569.45" r="1.45" fill="#fff" stroke="#d9b575" stroke-width="0.55"/>
<circle cx="296.82" cy="571.23" r="1.45" fill="#fff" stroke="#d9b575" stroke-width="0.55"/>
<circle cx="295.59" cy="571.34" r="1.45" fill="#fff" stroke="#d9b575" stroke-width="0.55"/>
<circle cx="295.37" cy="572.58" r="1.45" fill="#fff" stroke="#d9b575" stroke-width="0.55"/>
<line x1="293.50" y1="583.50" x2="293.50" y2="587.00" stroke="#222" stroke-width="1.0"/>
<line x1="101.50" y1="584.00" x2="101.50" y2="502.14" stroke="#222" stroke-width="1.1"/>
<line x1="98.60" y1="583.50" x2="101.80" y2="583.50" stroke="#222" stroke-width="1.1"/>
<text x="97.70" y="586.97" font-size="8.6" text-anchor="end" fill="#222" transform="translate(0 586.97) scale(1 1.12) translate(0 -586.97)" stroke="#222" stroke-width="0.25">0</text>
<line x1="98.60" y1="563.50" x2="101.80" y2="563.50" stroke="#222" stroke-width="1.1"/>
<text x="97.70" y="566.63" font-size="8.6" text-anchor="end" fill="#222" transform="translate(0 566.63) scale(1 1.12) translate(0 -566.63)" stroke="#222" stroke-width="0.25">200</text>
<line x1="98.60" y1="542.50" x2="101.80" y2="542.50" stroke="#222" stroke-width="1.1"/>
<text x="97.70" y="546.29" font-size="8.6" text-anchor="end" fill="#222" transform="translate(0 546.29) scale(1 1.12) translate(0 -546.29)" stroke="#222" stroke-width="0.25">400</text>
<line x1="98.60" y1="522.50" x2="101.80" y2="522.50" stroke="#222" stroke-width="1.1"/>
<text x="97.70" y="525.95" font-size="8.6" text-anchor="end" fill="#222" transform="translate(0 525.95) scale(1 1.12) translate(0 -525.95)" stroke="#222" stroke-width="0.25">600</text>
<line x1="98.60" y1="502.50" x2="101.80" y2="502.50" stroke="#222" stroke-width="1.1"/>
<text x="97.70" y="505.61" font-size="8.6" text-anchor="end" fill="#222" transform="translate(0 505.61) scale(1 1.12) translate(0 -505.61)" stroke="#222" stroke-width="0.25">800</text>
<line x1="101.80" y1="583.50" x2="302.50" y2="583.50" stroke="#222" stroke-width="1.1"/>
<text x="113.10" y="596.40" font-size="9.0" text-anchor="end" fill="#222" transform="rotate(-45 113.10 596.40)" stroke="#222" stroke-width="0.25">WT</text>
<text x="129.40" y="596.00" font-size="9.0" text-anchor="end" fill="#222" transform="rotate(-45 129.40 596.00)" stroke="#222" stroke-width="0.25"><tspan font-style="italic">Tbx21</tspan><tspan font-size="5.76" dy="-3.60" letter-spacing="0.25">-/-</tspan></text>
<text x="146.10" y="596.00" font-size="9.0" text-anchor="end" fill="#222" transform="rotate(-45 146.10 596.00)" stroke="#222" stroke-width="0.25"><tspan font-style="italic">Zeb2</tspan><tspan font-size="5.76" dy="-3.60" letter-spacing="0.25">-/-</tspan></text>
<text x="163.20" y="596.40" font-size="9.0" text-anchor="end" fill="#222" transform="rotate(-45 163.20 596.40)" stroke="#222" stroke-width="0.25">WT</text>
<text x="179.50" y="596.00" font-size="9.0" text-anchor="end" fill="#222" transform="rotate(-45 179.50 596.00)" stroke="#222" stroke-width="0.25"><tspan font-style="italic">Tbx21</tspan><tspan font-size="5.76" dy="-3.60" letter-spacing="0.25">-/-</tspan></text>
<text x="196.20" y="596.00" font-size="9.0" text-anchor="end" fill="#222" transform="rotate(-45 196.20 596.00)" stroke="#222" stroke-width="0.25"><tspan font-style="italic">Zeb2</tspan><tspan font-size="5.76" dy="-3.60" letter-spacing="0.25">-/-</tspan></text>
<text x="213.30" y="596.40" font-size="9.0" text-anchor="end" fill="#222" transform="rotate(-45 213.30 596.40)" stroke="#222" stroke-width="0.25">WT</text>
<text x="229.60" y="596.00" font-size="9.0" text-anchor="end" fill="#222" transform="rotate(-45 229.60 596.00)" stroke="#222" stroke-width="0.25"><tspan font-style="italic">Tbx21</tspan><tspan font-size="5.76" dy="-3.60" letter-spacing="0.25">-/-</tspan></text>
<text x="246.30" y="596.00" font-size="9.0" text-anchor="end" fill="#222" transform="rotate(-45 246.30 596.00)" stroke="#222" stroke-width="0.25"><tspan font-style="italic">Zeb2</tspan><tspan font-size="5.76" dy="-3.60" letter-spacing="0.25">-/-</tspan></text>
<text x="263.40" y="596.40" font-size="9.0" text-anchor="end" fill="#222" transform="rotate(-45 263.40 596.40)" stroke="#222" stroke-width="0.25">WT</text>
<text x="279.70" y="596.00" font-size="9.0" text-anchor="end" fill="#222" transform="rotate(-45 279.70 596.00)" stroke="#222" stroke-width="0.25"><tspan font-style="italic">Tbx21</tspan><tspan font-size="5.76" dy="-3.60" letter-spacing="0.25">-/-</tspan></text>
<text x="296.40" y="596.00" font-size="9.0" text-anchor="end" fill="#222" transform="rotate(-45 296.40 596.00)" stroke="#222" stroke-width="0.25"><tspan font-style="italic">Zeb2</tspan><tspan font-size="5.76" dy="-3.60" letter-spacing="0.25">-/-</tspan></text>
<line x1="104.80" y1="618.50" x2="145.80" y2="618.50" stroke="#222" stroke-width="1.0"/>
<text x="125.30" y="628.20" font-size="8.8" text-anchor="middle" fill="#222" textLength="14.6" lengthAdjust="spacingAndGlyphs" stroke="#222" stroke-width="0.25">Veh</text>
<line x1="155.50" y1="618.50" x2="197.00" y2="618.50" stroke="#222" stroke-width="1.0"/>
<text x="176.90" y="628.20" font-size="8.8" text-anchor="middle" fill="#222" textLength="32.6" lengthAdjust="spacingAndGlyphs" stroke="#222" stroke-width="0.25">MSA-IL2</text>
<line x1="204.30" y1="618.50" x2="245.60" y2="618.50" stroke="#222" stroke-width="1.0"/>
<text x="224.90" y="628.20" font-size="8.8" text-anchor="middle" fill="#222" textLength="36.6" lengthAdjust="spacingAndGlyphs" stroke="#222" stroke-width="0.25">MSA-IL12</text>
<line x1="256.30" y1="618.50" x2="297.50" y2="618.50" stroke="#222" stroke-width="1.0"/>
<text x="288.00" y="628.20" font-size="8.8" text-anchor="middle" fill="#222" textLength="75.0" lengthAdjust="spacingAndGlyphs" stroke="#222" stroke-width="0.25">MSA-IL2+MSA-IL12</text>
<path d="M112.50 506.90 V503.50 H136.50 V506.90" fill="none" stroke="#666" stroke-width="1.0"/>
<circle cx="122.45" cy="500.00" r="1.3" fill="#1a1a1a"/>
<circle cx="125.75" cy="500.00" r="1.3" fill="#1a1a1a"/>
<path d="M162.50 506.90 V503.50 H186.50 V506.90" fill="none" stroke="#666" stroke-width="1.0"/>
<circle cx="172.45" cy="500.00" r="1.3" fill="#1a1a1a"/>
<circle cx="175.75" cy="500.00" r="1.3" fill="#1a1a1a"/>
<path d="M212.50 506.90 V503.50 H236.50 V506.90" fill="none" stroke="#666" stroke-width="1.0"/>
<circle cx="222.45" cy="500.00" r="1.3" fill="#1a1a1a"/>
<circle cx="225.75" cy="500.00" r="1.3" fill="#1a1a1a"/>
<path d="M262.50 506.90 V503.50 H286.50 V506.90" fill="none" stroke="#666" stroke-width="1.0"/>
<circle cx="272.45" cy="500.00" r="1.3" fill="#1a1a1a"/>
<circle cx="275.75" cy="500.00" r="1.3" fill="#1a1a1a"/>
<line x1="126.00" y1="520.50" x2="146.30" y2="520.50" stroke="#aaa" stroke-width="0.85"/>
<line x1="171.00" y1="520.50" x2="197.00" y2="520.50" stroke="#444" stroke-width="0.85"/>
<line x1="220.20" y1="520.50" x2="245.60" y2="520.50" stroke="#444" stroke-width="0.85"/>
<line x1="272.80" y1="520.50" x2="298.80" y2="520.50" stroke="#999" stroke-width="0.85"/>
<circle cx="306.70" cy="532.60" r="1.5" fill="#555"/>
<text x="316.60" y="535.80" font-size="8.8" fill="#222" textLength="31.0" lengthAdjust="spacingAndGlyphs" stroke="#222" stroke-width="0.25">Medium</text>
<circle cx="306.70" cy="543.00" r="1.5" fill="#c9974a"/>
<text x="316.60" y="546.20" font-size="8.8" fill="#222" textLength="14.0" lengthAdjust="spacingAndGlyphs" stroke="#222" stroke-width="0.25">SIY</text>
<text x="379.10" y="501.50" font-size="13" fill="#000" font-weight="bold">h</text>
<line x1="416.50" y1="616.80" x2="416.50" y2="535.00" stroke="#222" stroke-width="1.1"/>
<line x1="413.60" y1="616.50" x2="416.80" y2="616.50" stroke="#222" stroke-width="1.1"/>
<text x="412.70" y="619.78" font-size="8.8" text-anchor="end" fill="#222" transform="translate(0 619.78) scale(1 1.1) translate(0 -619.78)" stroke="#222" stroke-width="0.25">0</text>
<line x1="413.60" y1="589.50" x2="416.80" y2="589.50" stroke="#222" stroke-width="1.1"/>
<text x="412.70" y="592.68" font-size="8.8" text-anchor="end" fill="#222" transform="translate(0 592.68) scale(1 1.1) translate(0 -592.68)" stroke="#222" stroke-width="0.25">20</text>
<line x1="413.60" y1="562.50" x2="416.80" y2="562.50" stroke="#222" stroke-width="1.1"/>
<text x="412.70" y="565.58" font-size="8.8" text-anchor="end" fill="#222" transform="translate(0 565.58) scale(1 1.1) translate(0 -565.58)" stroke="#222" stroke-width="0.25">40</text>
<line x1="413.60" y1="535.50" x2="416.80" y2="535.50" stroke="#222" stroke-width="1.1"/>
<text x="412.70" y="538.48" font-size="8.8" text-anchor="end" fill="#222" transform="translate(0 538.48) scale(1 1.1) translate(0 -538.48)" stroke="#222" stroke-width="0.25">60</text>
<line x1="416.80" y1="616.50" x2="539.80" y2="616.50" stroke="#222" stroke-width="1.0"/>
<line x1="437.50" y1="616.30" x2="437.50" y2="618.80" stroke="#222" stroke-width="1.0"/>
<line x1="478.50" y1="616.30" x2="478.50" y2="618.80" stroke="#222" stroke-width="1.0"/>
<line x1="519.50" y1="616.30" x2="519.50" y2="618.80" stroke="#222" stroke-width="1.0"/>
<text x="383.62" y="574.60" font-size="8.4" text-anchor="middle" fill="#222" transform="rotate(-90 383.62 574.60)" stroke="#222" stroke-width="0.25">% SIY-pulsed</text>
<text x="394.02" y="574.60" font-size="8.4" text-anchor="middle" fill="#222" transform="rotate(-90 394.02 574.60)" stroke="#222" stroke-width="0.25">splenocytes</text>
<text x="437.80" y="628.40" font-size="9.0" text-anchor="middle" fill="#222" stroke="#222" stroke-width="0.25">WT</text>
<text x="479.20" y="628.40" font-size="9.0" text-anchor="middle" fill="#222" stroke="#222" stroke-width="0.25"><tspan font-style="italic">Tbx21</tspan><tspan font-size="5.76" dy="-3.60" letter-spacing="0.25">-/-</tspan></text>
<text x="520.00" y="628.40" font-size="9.0" text-anchor="middle" fill="#222" stroke="#222" stroke-width="0.25"><tspan font-style="italic">Zeb2</tspan><tspan font-size="5.76" dy="-3.60" letter-spacing="0.25">-/-</tspan></text>
<line x1="425.50" y1="554.65" x2="425.50" y2="561.42" stroke="#bdbdbd" stroke-width="0.9"/>
<line x1="423.40" y1="554.50" x2="426.60" y2="554.50" stroke="#bdbdbd" stroke-width="0.9"/>
<line x1="423.40" y1="561.50" x2="426.60" y2="561.50" stroke="#bdbdbd" stroke-width="0.9"/>
<circle cx="425.00" cy="551.26" r="1.62" fill="#555555"/>
<circle cx="421.48" cy="552.62" r="1.62" fill="#555555"/>
<circle cx="427.20" cy="553.97" r="1.62" fill="#555555"/>
<circle cx="422.80" cy="555.32" r="1.62" fill="#555555"/>
<circle cx="428.52" cy="556.68" r="1.62" fill="#555555"/>
<circle cx="425.00" cy="557.36" r="1.62" fill="#555555"/>
<circle cx="421.48" cy="558.03" r="1.62" fill="#555555"/>
<circle cx="423.73" cy="558.71" r="1.62" fill="#555555"/>
<circle cx="427.20" cy="559.39" r="1.62" fill="#555555"/>
<circle cx="423.91" cy="560.75" r="1.62" fill="#555555"/>
<circle cx="421.48" cy="562.10" r="1.62" fill="#555555"/>
<circle cx="425.00" cy="563.45" r="1.62" fill="#555555"/>
<line x1="421.40" y1="558.50" x2="428.60" y2="558.50" stroke="#222" stroke-width="0.9"/>
<line x1="433.50" y1="577.00" x2="433.50" y2="598.68" stroke="#e6c99a" stroke-width="0.9"/>
<line x1="431.90" y1="577.50" x2="435.10" y2="577.50" stroke="#e6c99a" stroke-width="0.9"/>
<line x1="431.90" y1="598.50" x2="435.10" y2="598.50" stroke="#e6c99a" stroke-width="0.9"/>
<circle cx="433.50" cy="575.65" r="1.62" fill="#c9974a"/>
<circle cx="429.98" cy="576.33" r="1.62" fill="#c9974a"/>
<circle cx="437.02" cy="577.00" r="1.62" fill="#c9974a"/>
<circle cx="432.59" cy="578.36" r="1.62" fill="#c9974a"/>
<circle cx="435.70" cy="579.71" r="1.62" fill="#c9974a"/>
<circle cx="431.30" cy="581.07" r="1.62" fill="#c9974a"/>
<circle cx="433.50" cy="583.78" r="1.62" fill="#c9974a"/>
<circle cx="433.50" cy="589.20" r="1.62" fill="#c9974a"/>
<circle cx="431.30" cy="591.91" r="1.62" fill="#c9974a"/>
<circle cx="433.50" cy="600.04" r="1.62" fill="#c9974a"/>
<circle cx="433.50" cy="608.17" r="1.62" fill="#c9974a"/>
<circle cx="429.98" cy="609.52" r="1.62" fill="#c9974a"/>
<line x1="429.90" y1="587.50" x2="437.10" y2="587.50" stroke="#222" stroke-width="0.9"/>
<line x1="441.50" y1="558.71" x2="441.50" y2="561.42" stroke="#9fd39f" stroke-width="0.9"/>
<line x1="440.20" y1="558.50" x2="443.40" y2="558.50" stroke="#9fd39f" stroke-width="0.9"/>
<line x1="440.20" y1="561.50" x2="443.40" y2="561.50" stroke="#9fd39f" stroke-width="0.9"/>
<circle cx="441.80" cy="558.03" r="1.62" fill="#1f8f1f"/>
<circle cx="438.28" cy="558.71" r="1.62" fill="#1f8f1f"/>
<circle cx="445.32" cy="559.39" r="1.62" fill="#1f8f1f"/>
<circle cx="440.66" cy="559.39" r="1.62" fill="#1f8f1f"/>
<circle cx="442.18" cy="559.39" r="1.62" fill="#1f8f1f"/>
<circle cx="440.74" cy="560.07" r="1.62" fill="#1f8f1f"/>
<circle cx="441.44" cy="560.07" r="1.62" fill="#1f8f1f"/>
<circle cx="440.18" cy="560.75" r="1.62" fill="#1f8f1f"/>
<circle cx="443.60" cy="560.75" r="1.62" fill="#1f8f1f"/>
<circle cx="441.16" cy="560.75" r="1.62" fill="#1f8f1f"/>
<circle cx="441.62" cy="561.42" r="1.62" fill="#1f8f1f"/>
<circle cx="442.17" cy="562.10" r="1.62" fill="#1f8f1f"/>
<line x1="438.20" y1="560.50" x2="445.40" y2="560.50" stroke="#222" stroke-width="0.9"/>
<line x1="450.50" y1="578.36" x2="450.50" y2="608.17" stroke="#a9d3dc" stroke-width="0.9"/>
<line x1="448.80" y1="578.50" x2="452.00" y2="578.50" stroke="#a9d3dc" stroke-width="0.9"/>
<line x1="448.80" y1="608.50" x2="452.00" y2="608.50" stroke="#a9d3dc" stroke-width="0.9"/>
<circle cx="450.40" cy="571.58" r="1.62" fill="#3a8fa0"/>
<circle cx="450.40" cy="575.65" r="1.62" fill="#3a8fa0"/>
<circle cx="448.20" cy="578.36" r="1.62" fill="#3a8fa0"/>
<circle cx="450.40" cy="582.42" r="1.62" fill="#3a8fa0"/>
<circle cx="450.40" cy="586.49" r="1.62" fill="#3a8fa0"/>
<circle cx="448.20" cy="589.20" r="1.62" fill="#3a8fa0"/>
<circle cx="450.40" cy="591.91" r="1.62" fill="#3a8fa0"/>
<circle cx="450.40" cy="595.97" r="1.62" fill="#3a8fa0"/>
<circle cx="450.40" cy="600.04" r="1.62" fill="#3a8fa0"/>
<circle cx="450.40" cy="609.52" r="1.62" fill="#3a8fa0"/>
<circle cx="450.40" cy="614.94" r="1.62" fill="#3a8fa0"/>
<circle cx="446.88" cy="614.94" r="1.62" fill="#3a8fa0"/>
<line x1="446.80" y1="593.50" x2="454.00" y2="593.50" stroke="#222" stroke-width="0.9"/>
<line x1="466.50" y1="543.13" x2="466.50" y2="551.26" stroke="#bdbdbd" stroke-width="0.9"/>
<line x1="464.80" y1="543.50" x2="468.00" y2="543.50" stroke="#bdbdbd" stroke-width="0.9"/>
<line x1="464.80" y1="551.50" x2="468.00" y2="551.50" stroke="#bdbdbd" stroke-width="0.9"/>
<circle cx="466.40" cy="543.13" r="1.62" fill="#555555"/>
<circle cx="462.40" cy="543.88" r="1.62" fill="#555555"/>
<circle cx="466.40" cy="546.66" r="1.62" fill="#555555"/>
<circle cx="462.40" cy="547.72" r="1.62" fill="#555555"/>
<circle cx="468.90" cy="547.86" r="1.62" fill="#555555"/>
<circle cx="468.42" cy="548.16" r="1.62" fill="#555555"/>
<circle cx="466.00" cy="549.31" r="1.62" fill="#555555"/>
<circle cx="468.49" cy="549.71" r="1.62" fill="#555555"/>
<circle cx="462.40" cy="550.73" r="1.62" fill="#555555"/>
<circle cx="466.41" cy="551.43" r="1.62" fill="#555555"/>
<circle cx="470.40" cy="551.75" r="1.62" fill="#555555"/>
<circle cx="466.40" cy="554.35" r="1.62" fill="#555555"/>
<line x1="462.80" y1="547.50" x2="470.00" y2="547.50" stroke="#222" stroke-width="0.9"/>
<line x1="474.50" y1="543.13" x2="474.50" y2="551.26" stroke="#e6c99a" stroke-width="0.9"/>
<line x1="472.80" y1="543.50" x2="476.00" y2="543.50" stroke="#e6c99a" stroke-width="0.9"/>
<line x1="472.80" y1="551.50" x2="476.00" y2="551.50" stroke="#e6c99a" stroke-width="0.9"/>
<circle cx="474.40" cy="542.77" r="1.62" fill="#c9974a"/>
<circle cx="470.40" cy="543.65" r="1.62" fill="#c9974a"/>
<circle cx="476.90" cy="544.70" r="1.62" fill="#c9974a"/>
<circle cx="474.56" cy="545.24" r="1.62" fill="#c9974a"/>
<circle cx="471.90" cy="547.73" r="1.62" fill="#c9974a"/>
<circle cx="476.90" cy="548.62" r="1.62" fill="#c9974a"/>
<circle cx="474.52" cy="548.98" r="1.62" fill="#c9974a"/>
<circle cx="471.99" cy="549.29" r="1.62" fill="#c9974a"/>
<circle cx="474.10" cy="549.44" r="1.62" fill="#c9974a"/>
<circle cx="476.90" cy="551.86" r="1.62" fill="#c9974a"/>
<circle cx="470.40" cy="551.99" r="1.62" fill="#c9974a"/>
<circle cx="474.40" cy="553.59" r="1.62" fill="#c9974a"/>
<circle cx="478.40" cy="554.37" r="1.62" fill="#c9974a"/>
<circle cx="472.82" cy="554.38" r="1.62" fill="#c9974a"/>
<line x1="470.80" y1="547.50" x2="478.00" y2="547.50" stroke="#222" stroke-width="0.9"/>
<line x1="482.50" y1="543.13" x2="482.50" y2="551.26" stroke="#9fd39f" stroke-width="0.9"/>
<line x1="481.20" y1="543.50" x2="484.40" y2="543.50" stroke="#9fd39f" stroke-width="0.9"/>
<line x1="481.20" y1="551.50" x2="484.40" y2="551.50" stroke="#9fd39f" stroke-width="0.9"/>
<circle cx="482.80" cy="542.15" r="1.62" fill="#1f8f1f"/>
<circle cx="478.80" cy="542.52" r="1.62" fill="#1f8f1f"/>
<circle cx="486.80" cy="542.87" r="1.62" fill="#1f8f1f"/>
<circle cx="482.80" cy="544.95" r="1.62" fill="#1f8f1f"/>
<circle cx="480.30" cy="546.90" r="1.62" fill="#1f8f1f"/>
<circle cx="482.80" cy="549.37" r="1.62" fill="#1f8f1f"/>
<circle cx="478.80" cy="549.51" r="1.62" fill="#1f8f1f"/>
<circle cx="486.80" cy="549.70" r="1.62" fill="#1f8f1f"/>
<circle cx="482.80" cy="552.56" r="1.62" fill="#1f8f1f"/>
<circle cx="478.80" cy="552.93" r="1.62" fill="#1f8f1f"/>
<circle cx="486.80" cy="553.66" r="1.62" fill="#1f8f1f"/>
<circle cx="480.32" cy="554.31" r="1.62" fill="#1f8f1f"/>
<circle cx="484.30" cy="554.79" r="1.62" fill="#1f8f1f"/>
<circle cx="481.16" cy="554.85" r="1.62" fill="#1f8f1f"/>
<line x1="479.20" y1="547.50" x2="486.40" y2="547.50" stroke="#222" stroke-width="0.9"/>
<line x1="490.50" y1="544.48" x2="490.50" y2="549.90" stroke="#a9d3dc" stroke-width="0.9"/>
<line x1="489.20" y1="544.50" x2="492.40" y2="544.50" stroke="#a9d3dc" stroke-width="0.9"/>
<line x1="489.20" y1="549.50" x2="492.40" y2="549.50" stroke="#a9d3dc" stroke-width="0.9"/>
<circle cx="490.80" cy="543.38" r="1.62" fill="#3a8fa0"/>
<circle cx="486.80" cy="543.69" r="1.62" fill="#3a8fa0"/>
<circle cx="494.80" cy="544.00" r="1.62" fill="#3a8fa0"/>
<circle cx="490.67" cy="544.45" r="1.62" fill="#3a8fa0"/>
<circle cx="491.93" cy="545.27" r="1.62" fill="#3a8fa0"/>
<circle cx="491.08" cy="545.53" r="1.62" fill="#3a8fa0"/>
<circle cx="489.93" cy="545.58" r="1.62" fill="#3a8fa0"/>
<circle cx="486.80" cy="547.12" r="1.62" fill="#3a8fa0"/>
<circle cx="494.80" cy="547.36" r="1.62" fill="#3a8fa0"/>
<circle cx="490.80" cy="548.52" r="1.62" fill="#3a8fa0"/>
<circle cx="490.89" cy="549.19" r="1.62" fill="#3a8fa0"/>
<circle cx="491.08" cy="549.49" r="1.62" fill="#3a8fa0"/>
<circle cx="486.80" cy="550.10" r="1.62" fill="#3a8fa0"/>
<circle cx="493.30" cy="551.56" r="1.62" fill="#3a8fa0"/>
<line x1="487.20" y1="547.50" x2="494.40" y2="547.50" stroke="#222" stroke-width="0.9"/>
<line x1="507.50" y1="544.48" x2="507.50" y2="552.62" stroke="#bdbdbd" stroke-width="0.9"/>
<line x1="505.50" y1="544.50" x2="508.70" y2="544.50" stroke="#bdbdbd" stroke-width="0.9"/>
<line x1="505.50" y1="552.50" x2="508.70" y2="552.50" stroke="#bdbdbd" stroke-width="0.9"/>
<circle cx="507.10" cy="542.93" r="1.62" fill="#555555"/>
<circle cx="503.10" cy="543.61" r="1.62" fill="#555555"/>
<circle cx="511.10" cy="544.07" r="1.62" fill="#555555"/>
<circle cx="508.52" cy="544.09" r="1.62" fill="#555555"/>
<circle cx="505.13" cy="544.65" r="1.62" fill="#555555"/>
<circle cx="507.40" cy="546.05" r="1.62" fill="#555555"/>
<circle cx="503.10" cy="547.13" r="1.62" fill="#555555"/>
<circle cx="511.10" cy="547.64" r="1.62" fill="#555555"/>
<circle cx="507.10" cy="549.71" r="1.62" fill="#555555"/>
<circle cx="504.60" cy="550.88" r="1.62" fill="#555555"/>
<circle cx="507.10" cy="553.06" r="1.62" fill="#555555"/>
<circle cx="503.10" cy="554.03" r="1.62" fill="#555555"/>
<line x1="503.50" y1="548.50" x2="510.70" y2="548.50" stroke="#222" stroke-width="0.9"/>
<line x1="515.50" y1="544.48" x2="515.50" y2="552.62" stroke="#e6c99a" stroke-width="0.9"/>
<line x1="513.50" y1="544.50" x2="516.70" y2="544.50" stroke="#e6c99a" stroke-width="0.9"/>
<line x1="513.50" y1="552.50" x2="516.70" y2="552.50" stroke="#e6c99a" stroke-width="0.9"/>
<circle cx="515.10" cy="543.19" r="1.62" fill="#c9974a"/>
<circle cx="511.10" cy="544.23" r="1.62" fill="#c9974a"/>
<circle cx="515.10" cy="546.61" r="1.62" fill="#c9974a"/>
<circle cx="511.10" cy="547.11" r="1.62" fill="#c9974a"/>
<circle cx="517.60" cy="548.03" r="1.62" fill="#c9974a"/>
<circle cx="515.10" cy="549.72" r="1.62" fill="#c9974a"/>
<circle cx="511.10" cy="550.32" r="1.62" fill="#c9974a"/>
<circle cx="519.10" cy="550.45" r="1.62" fill="#c9974a"/>
<circle cx="513.84" cy="550.69" r="1.62" fill="#c9974a"/>
<circle cx="513.98" cy="551.43" r="1.62" fill="#c9974a"/>
<circle cx="516.46" cy="551.74" r="1.62" fill="#c9974a"/>
<circle cx="511.10" cy="553.44" r="1.62" fill="#c9974a"/>
<circle cx="519.10" cy="553.66" r="1.62" fill="#c9974a"/>
<circle cx="515.10" cy="554.44" r="1.62" fill="#c9974a"/>
<line x1="511.50" y1="548.50" x2="518.70" y2="548.50" stroke="#222" stroke-width="0.9"/>
<line x1="522.50" y1="544.48" x2="522.50" y2="552.62" stroke="#9fd39f" stroke-width="0.9"/>
<line x1="521.30" y1="544.50" x2="524.50" y2="544.50" stroke="#9fd39f" stroke-width="0.9"/>
<line x1="521.30" y1="552.50" x2="524.50" y2="552.50" stroke="#9fd39f" stroke-width="0.9"/>
<circle cx="522.90" cy="543.14" r="1.62" fill="#1f8f1f"/>
<circle cx="518.90" cy="543.32" r="1.62" fill="#1f8f1f"/>
<circle cx="525.40" cy="545.06" r="1.62" fill="#1f8f1f"/>
<circle cx="522.94" cy="545.13" r="1.62" fill="#1f8f1f"/>
<circle cx="520.40" cy="546.47" r="1.62" fill="#1f8f1f"/>
<circle cx="523.21" cy="547.25" r="1.62" fill="#1f8f1f"/>
<circle cx="522.90" cy="550.01" r="1.62" fill="#1f8f1f"/>
<circle cx="518.90" cy="550.46" r="1.62" fill="#1f8f1f"/>
<circle cx="526.90" cy="551.12" r="1.62" fill="#1f8f1f"/>
<circle cx="524.20" cy="551.81" r="1.62" fill="#1f8f1f"/>
<circle cx="524.96" cy="551.87" r="1.62" fill="#1f8f1f"/>
<circle cx="520.40" cy="553.38" r="1.62" fill="#1f8f1f"/>
<circle cx="522.62" cy="553.71" r="1.62" fill="#1f8f1f"/>
<circle cx="526.90" cy="553.88" r="1.62" fill="#1f8f1f"/>
<line x1="519.30" y1="548.50" x2="526.50" y2="548.50" stroke="#222" stroke-width="0.9"/>
<line x1="532.50" y1="544.48" x2="532.50" y2="552.62" stroke="#a9d3dc" stroke-width="0.9"/>
<line x1="530.50" y1="544.50" x2="533.70" y2="544.50" stroke="#a9d3dc" stroke-width="0.9"/>
<line x1="530.50" y1="552.50" x2="533.70" y2="552.50" stroke="#a9d3dc" stroke-width="0.9"/>
<circle cx="532.10" cy="543.26" r="1.62" fill="#3a8fa0"/>
<circle cx="528.10" cy="543.42" r="1.62" fill="#3a8fa0"/>
<circle cx="532.10" cy="546.31" r="1.62" fill="#3a8fa0"/>
<circle cx="528.10" cy="546.75" r="1.62" fill="#3a8fa0"/>
<circle cx="536.10" cy="546.97" r="1.62" fill="#3a8fa0"/>
<circle cx="532.66" cy="547.60" r="1.62" fill="#3a8fa0"/>
<circle cx="532.13" cy="548.02" r="1.62" fill="#3a8fa0"/>
<circle cx="532.16" cy="548.08" r="1.62" fill="#3a8fa0"/>
<circle cx="533.06" cy="548.69" r="1.62" fill="#3a8fa0"/>
<circle cx="529.60" cy="550.69" r="1.62" fill="#3a8fa0"/>
<circle cx="536.10" cy="550.76" r="1.62" fill="#3a8fa0"/>
<circle cx="531.86" cy="551.13" r="1.62" fill="#3a8fa0"/>
<circle cx="532.27" cy="551.14" r="1.62" fill="#3a8fa0"/>
<circle cx="532.10" cy="554.43" r="1.62" fill="#3a8fa0"/>
<line x1="528.50" y1="548.50" x2="535.70" y2="548.50" stroke="#222" stroke-width="0.9"/>
<path d="M436.50 492.90 V489.50 H516.50 V492.90" fill="none" stroke="#8a8a8a" stroke-width="1.0"/>
<circle cx="475.95" cy="484.60" r="1.3" fill="#1a1a1a"/>
<circle cx="479.25" cy="484.60" r="1.3" fill="#1a1a1a"/>
<path d="M436.50 499.90 V496.50 H476.50 V499.90" fill="none" stroke="#8a8a8a" stroke-width="1.0"/>
<circle cx="455.65" cy="492.30" r="1.3" fill="#1a1a1a"/>
<circle cx="458.95" cy="492.30" r="1.3" fill="#1a1a1a"/>
<line x1="423.80" y1="503.50" x2="452.50" y2="503.50" stroke="#aaa" stroke-width="0.85"/>
<path d="M423.50 515.90 V512.50 H464.50 V515.90" fill="none" stroke="#8a8a8a" stroke-width="1.0"/>
<circle cx="442.95" cy="508.50" r="1.3" fill="#1a1a1a"/>
<circle cx="446.25" cy="508.50" r="1.3" fill="#1a1a1a"/>
<path d="M423.50 523.90 V520.50 H449.50 V523.90" fill="none" stroke="#8a8a8a" stroke-width="1.0"/>
<circle cx="435.35" cy="516.20" r="1.3" fill="#1a1a1a"/>
<circle cx="438.65" cy="516.20" r="1.3" fill="#1a1a1a"/>
<path d="M423.50 534.90 V531.50 H440.50 V534.90" fill="none" stroke="#8a8a8a" stroke-width="1.0"/>
<circle cx="431.05" cy="527.40" r="1.3" fill="#1a1a1a"/>
<circle cx="434.35" cy="527.40" r="1.3" fill="#1a1a1a"/>
<path d="M423.50 544.90 V541.50 H433.50 V544.90" fill="none" stroke="#8a8a8a" stroke-width="1.0"/>
<circle cx="426.95" cy="537.20" r="1.3" fill="#1a1a1a"/>
<circle cx="430.25" cy="537.20" r="1.3" fill="#1a1a1a"/>
<line x1="464.50" y1="532.50" x2="492.50" y2="532.50" stroke="#999" stroke-width="0.85"/>
<line x1="505.70" y1="532.50" x2="533.30" y2="532.50" stroke="#999" stroke-width="0.85"/>
<circle cx="545.50" cy="553.30" r="1.6" fill="#555555"/>
<text x="554.90" y="556.47" font-size="8.8" fill="#222" textLength="15.0" lengthAdjust="spacingAndGlyphs" stroke="#222" stroke-width="0.25">Veh</text>
<circle cx="545.50" cy="563.50" r="1.6" fill="#c9974a"/>
<text x="554.90" y="566.67" font-size="8.8" fill="#222" textLength="34.7" lengthAdjust="spacingAndGlyphs" stroke="#222" stroke-width="0.25">MSA-IL2</text>
<circle cx="545.50" cy="574.00" r="1.6" fill="#1f8f1f"/>
<text x="554.90" y="577.17" font-size="8.8" fill="#222" textLength="39.6" lengthAdjust="spacingAndGlyphs" stroke="#222" stroke-width="0.25">MSA-IL12</text>
<circle cx="545.50" cy="584.90" r="1.6" fill="#3a8fa0"/>
<text x="554.90" y="588.07" font-size="8.8" fill="#222" textLength="79.4" lengthAdjust="spacingAndGlyphs" stroke="#222" stroke-width="0.25">MSA-IL2+MSA-IL12</text>
</svg>
</body></html>
